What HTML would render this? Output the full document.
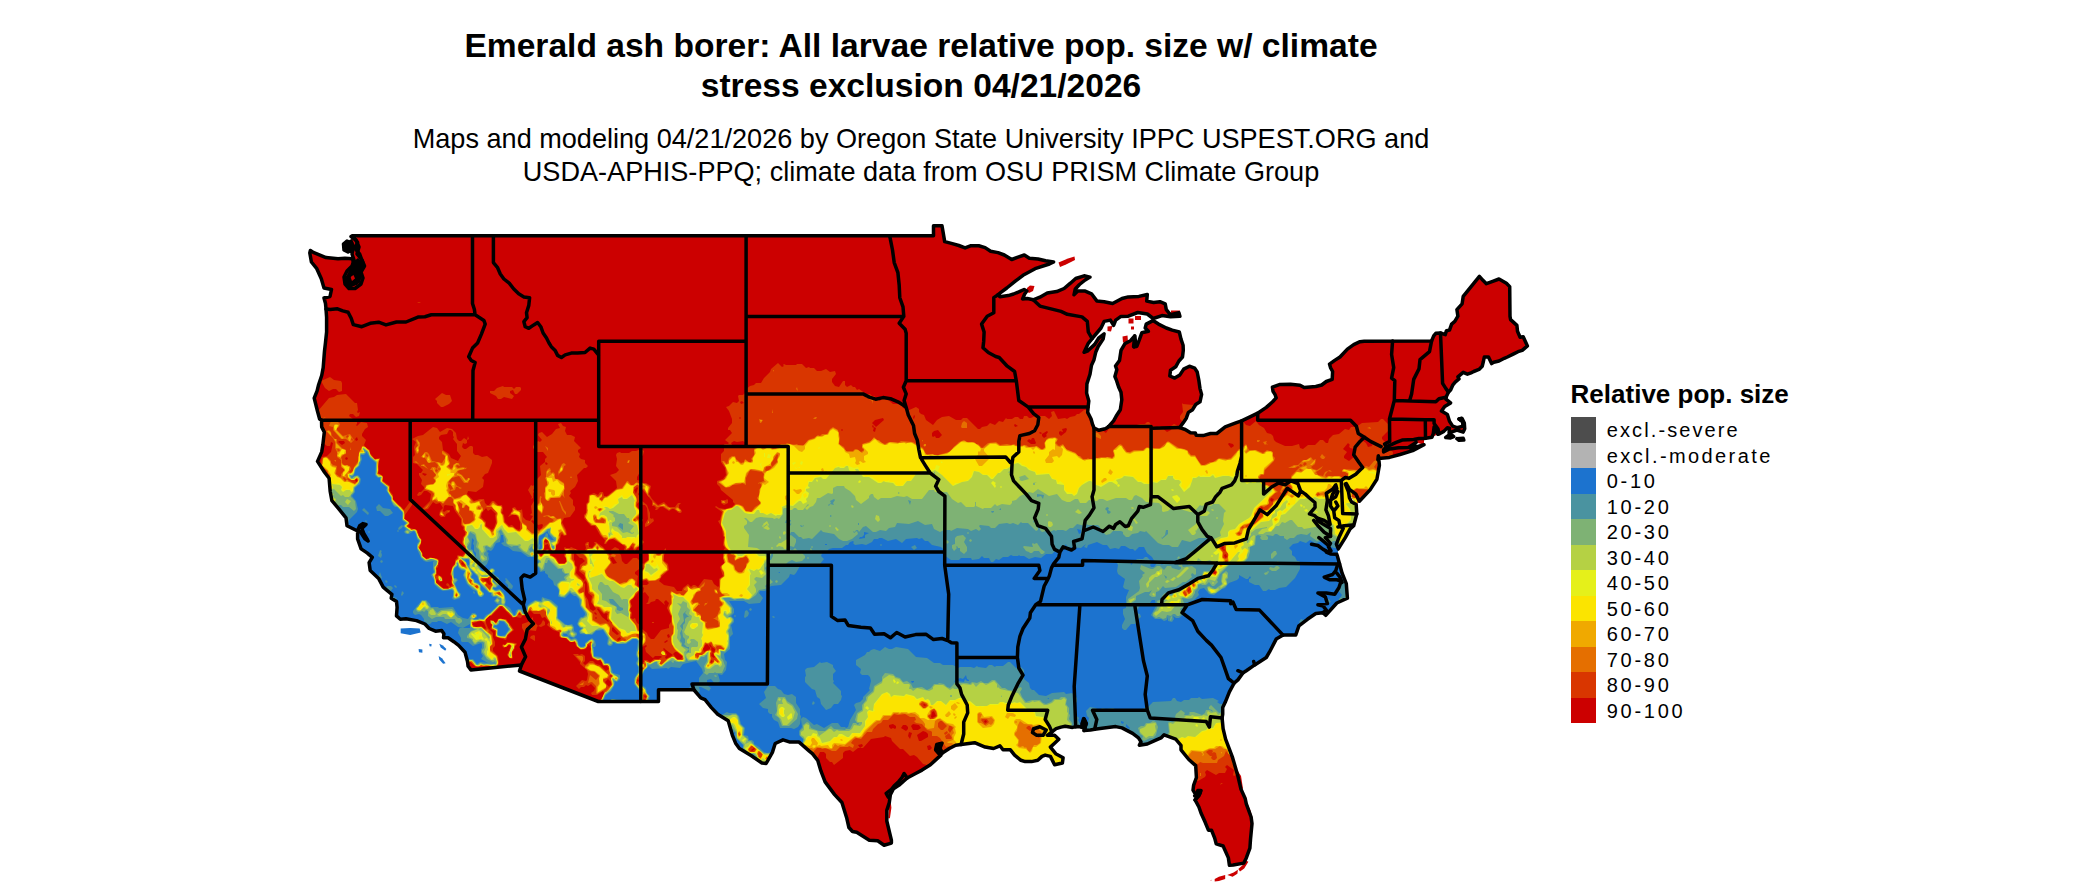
<!DOCTYPE html>
<html><head><meta charset="utf-8"><title>Emerald ash borer map</title>
<style>
html,body{margin:0;padding:0;background:#fff;}
body{width:2100px;height:892px;position:relative;overflow:hidden;font-family:"Liberation Sans",sans-serif;color:#000;}
.t{position:absolute;white-space:nowrap;text-align:center;left:0;width:1842px;}
#t1{top:25.6px;font-weight:bold;font-size:33.6px;line-height:40.3px;}
#t2{top:123.2px;font-size:27.1px;line-height:32.6px;}
#lt{position:absolute;left:1570.6px;top:379.4px;font-weight:bold;font-size:26px;line-height:30px;white-space:nowrap;}
.k{position:absolute;left:1571px;width:25px;height:25.6px;}
.l{position:absolute;left:1606.8px;font-size:20px;line-height:25.5px;letter-spacing:2.1px;white-space:nowrap;}
</style></head><body>
<svg width="2100" height="892" viewBox="0 0 2100 892" style="position:absolute;left:0;top:0"><defs><clipPath id="us"><path d="M352.1,235.8 L933.5,235.8 L933.5,225.7 L942.0,225.7 L944.7,241.6 L951.4,243.4 L958.8,245.5 L965.1,247.9 L970.4,245.8 L978.8,245.8 L985.1,247.6 L990.6,251.3 L998.0,252.6 L1004.3,255.0 L1011.7,259.5 L1018.0,257.1 L1024.3,255.0 L1029.4,258.2 L1038.0,259.0 L1045.6,260.8 L1053.6,261.9 L1049.4,264.0 L1035.1,268.7 L1023.0,275.3 L1015.3,281.1 L1006.8,288.0 L1000.9,292.4 L997.8,294.8 L999.9,296.7 L1008.3,295.6 L1013.6,294.0 L1018.8,291.9 L1024.1,289.5 L1026.8,291.1 L1024.5,294.3 L1022.6,299.0 L1027.3,298.5 L1033.2,299.8 L1039.9,297.2 L1047.3,293.0 L1056.7,291.6 L1064.1,288.5 L1070.4,283.2 L1075.7,278.5 L1084.1,275.8 L1090.0,277.1 L1085.2,280.0 L1079.5,284.5 L1075.3,289.0 L1074.0,294.8 L1077.8,291.1 L1085.2,291.1 L1091.5,293.8 L1096.8,300.9 L1104.1,301.7 L1112.6,303.5 L1122.0,298.5 L1128.3,296.9 L1138.9,296.4 L1147.3,294.5 L1146.7,301.1 L1153.6,302.5 L1159.9,301.7 L1165.2,303.8 L1166.3,309.6 L1170.5,314.8 L1178.9,312.7 L1179.9,316.2 L1170.5,316.7 L1162.0,315.6 L1153.2,318.5 L1147.3,314.0 L1137.8,312.5 L1128.3,316.2 L1121.0,316.4 L1115.7,320.1 L1113.6,325.4 L1110.4,320.1 L1104.1,321.4 L1101.0,328.0 L1092.1,338.6 L1088.3,343.3 L1084.1,352.3 L1087.3,351.2 L1094.7,344.4 L1098.9,337.8 L1104.1,333.8 L1103.1,339.1 L1098.2,346.5 L1095.7,352.3 L1094.0,359.7 L1091.5,365.2 L1090.0,374.2 L1086.9,383.9 L1086.6,393.1 L1088.8,401.0 L1088.1,407.1 L1087.7,412.4 L1091.1,419.0 L1092.5,424.2 L1094.2,428.2 L1098.9,430.3 L1105.2,428.7 L1108.3,426.9 L1113.6,420.8 L1116.1,416.3 L1120.3,409.7 L1121.8,399.7 L1121.0,392.3 L1118.7,387.3 L1116.6,380.7 L1114.9,376.5 L1116.8,369.7 L1115.5,366.0 L1119.5,360.4 L1121.0,350.4 L1124.8,343.8 L1130.5,340.7 L1134.7,335.9 L1133.6,346.5 L1136.8,346.5 L1139.3,339.9 L1141.8,332.8 L1148.4,331.2 L1145.2,328.0 L1146.2,324.1 L1153.0,320.6 L1158.5,324.1 L1166.3,328.0 L1172.2,330.1 L1179.3,332.0 L1181.0,339.1 L1183.1,345.2 L1183.3,350.4 L1182.5,357.0 L1178.9,361.0 L1175.7,366.8 L1170.5,370.2 L1169.8,376.0 L1174.7,378.1 L1179.9,374.9 L1183.7,369.1 L1189.4,366.2 L1194.7,368.1 L1197.2,372.0 L1198.9,380.7 L1200.0,388.6 L1201.6,394.4 L1200.0,401.8 L1195.7,404.5 L1192.6,409.7 L1188.4,412.4 L1186.3,418.2 L1183.1,422.9 L1179.5,427.7 L1185.2,429.5 L1190.5,432.7 L1195.3,432.9 L1196.2,435.3 L1203.1,435.6 L1210.5,433.5 L1216.8,433.5 L1225.2,426.9 L1235.8,422.9 L1241.6,420.8 L1250.5,416.6 L1257.7,413.2 L1266.3,407.4 L1272.6,401.8 L1276.2,397.9 L1275.1,394.7 L1273.0,391.3 L1272.4,387.1 L1280.0,384.4 L1290.5,384.2 L1300.0,385.2 L1304.2,387.6 L1315.8,386.5 L1321.7,385.0 L1326.3,381.5 L1332.2,379.4 L1332.6,371.5 L1330.5,367.6 L1329.5,364.1 L1334.7,360.4 L1340.0,357.0 L1347.4,349.1 L1353.7,344.6 L1360.0,341.7 L1364.2,341.2 L1431.6,340.9 L1433.7,335.9 L1435.8,333.3 L1440.5,333.0 L1445.3,334.6 L1446.4,330.7 L1449.5,330.1 L1451.6,324.1 L1454.8,321.4 L1457.9,316.2 L1456.9,309.6 L1462.1,303.8 L1463.2,296.4 L1479.4,276.4 L1483.2,280.6 L1486.4,283.7 L1492.7,281.4 L1499.0,279.0 L1506.4,283.2 L1509.7,286.6 L1510.0,316.4 L1510.6,319.6 L1516.9,325.4 L1517.5,331.2 L1520.1,337.2 L1523.2,336.7 L1526.4,343.8 L1527.4,345.9 L1522.2,350.4 L1518.0,351.7 L1513.7,353.9 L1507.4,357.0 L1504.3,358.3 L1499.0,361.0 L1493.7,362.3 L1491.6,363.6 L1488.5,357.0 L1484.3,357.0 L1483.2,362.3 L1482.2,366.2 L1479.0,369.4 L1473.7,371.5 L1471.0,372.8 L1467.4,374.2 L1463.2,372.3 L1457.9,376.8 L1459.0,378.9 L1455.2,382.1 L1452.7,385.2 L1450.6,390.0 L1448.5,392.1 L1446.4,396.6 L1445.9,399.2 L1450.6,402.9 L1444.7,406.6 L1441.5,411.1 L1447.4,414.5 L1449.5,421.3 L1452.7,426.1 L1456.9,427.7 L1463.2,426.1 L1462.6,421.6 L1459.0,419.0 L1462.1,418.4 L1464.3,422.9 L1464.7,428.7 L1463.2,432.1 L1456.9,430.0 L1450.6,432.4 L1449.1,432.9 L1449.5,428.2 L1447.4,427.7 L1443.8,431.4 L1440.0,433.5 L1437.9,434.3 L1435.8,430.8 L1434.1,426.9 L1433.3,433.5 L1432.0,437.2 L1424.0,438.5 L1419.0,438.5 L1413.7,439.5 L1402.1,440.1 L1396.2,442.4 L1388.6,445.8 L1386.3,446.9 L1383.6,449.8 L1383.6,451.9 L1389.5,449.0 L1398.5,447.7 L1408.4,447.4 L1416.2,442.4 L1410.6,448.5 L1424.0,444.8 L1412.7,450.6 L1400.0,454.5 L1389.5,457.4 L1381.1,458.2 L1379.0,458.0 L1378.3,455.9 L1377.9,459.8 L1379.0,460.9 L1379.4,465.1 L1376.9,479.3 L1370.1,489.9 L1359.4,501.2 L1355.8,494.1 L1349.5,489.3 L1346.3,483.5 L1345.3,484.1 L1348.4,491.5 L1349.5,498.0 L1351.6,502.0 L1356.2,504.6 L1356.8,513.9 L1355.8,517.8 L1353.7,525.7 L1350.1,528.9 L1345.3,537.6 L1338.3,548.9 L1336.4,544.2 L1338.9,537.6 L1343.2,528.4 L1340.0,526.2 L1338.9,520.4 L1334.7,517.8 L1333.7,510.7 L1330.5,506.0 L1330.5,500.7 L1332.6,494.1 L1336.8,488.8 L1335.8,484.9 L1332.6,489.3 L1326.3,493.3 L1327.4,500.2 L1325.9,509.9 L1328.4,515.7 L1330.1,524.4 L1324.2,520.4 L1316.8,517.8 L1317.9,521.0 L1330.5,528.4 L1330.5,536.3 L1325.3,537.6 L1330.5,543.4 L1328.4,546.8 L1330.9,550.8 L1326.3,552.1 L1330.5,553.9 L1336.8,554.2 L1337.5,556.6 L1339.6,563.9 L1342.1,573.2 L1346.3,583.7 L1347.4,598.2 L1336.8,603.0 L1325.7,615.3 L1322.9,612.7 L1315.8,613.5 L1307.4,619.3 L1298.9,625.9 L1295.8,634.9 L1283.1,635.1 L1276.2,639.1 L1269.4,652.2 L1266.3,657.5 L1254.7,664.9 L1246.3,670.7 L1243.1,672.8 L1237.9,679.9 L1234.1,683.1 L1229.4,691.8 L1225.2,702.3 L1222.7,707.6 L1222.7,714.2 L1222.1,717.9 L1223.1,728.7 L1225.6,739.2 L1232.6,757.7 L1237.9,776.1 L1241.0,789.3 L1245.2,798.5 L1246.3,803.8 L1251.1,817.0 L1252.0,823.6 L1250.5,839.4 L1249.9,848.1 L1246.3,857.9 L1243.8,863.1 L1233.2,865.0 L1229.4,865.2 L1228.4,857.9 L1223.1,846.0 L1216.2,843.9 L1214.7,838.1 L1211.5,830.2 L1208.4,830.2 L1205.2,822.3 L1201.0,813.0 L1198.9,807.0 L1195.1,799.9 L1200.0,793.3 L1195.7,794.6 L1193.0,790.1 L1193.6,785.4 L1196.4,777.5 L1195.7,765.6 L1188.8,759.5 L1181.0,749.8 L1181.0,745.3 L1175.7,739.2 L1164.1,734.8 L1161.0,737.9 L1154.7,740.6 L1147.3,744.0 L1139.3,745.3 L1141.0,741.9 L1138.5,737.9 L1132.6,733.4 L1122.0,727.9 L1115.7,726.6 L1102.0,728.2 L1094.7,729.2 L1090.4,730.0 L1084.1,730.5 L1086.2,723.4 L1083.5,718.7 L1082.0,727.4 L1078.9,726.6 L1075.7,726.8 L1072.5,727.4 L1065.2,726.3 L1061.0,727.1 L1056.1,728.7 L1051.9,731.9 L1047.3,735.3 L1054.6,735.3 L1058.8,739.2 L1054.6,743.2 L1050.4,747.1 L1055.7,753.7 L1063.1,757.7 L1062.4,763.0 L1054.6,764.8 L1050.4,756.4 L1045.2,755.1 L1042.0,756.4 L1037.8,760.3 L1031.5,761.6 L1025.2,761.6 L1020.9,760.3 L1014.6,755.1 L1010.4,749.8 L1003.0,749.8 L999.9,745.8 L993.6,748.5 L985.1,747.1 L974.6,742.7 L961.1,744.5 L955.7,745.3 L949.3,748.5 L942.0,753.2 L938.8,744.5 L936.7,749.8 L940.9,755.1 L934.6,760.9 L930.4,764.8 L922.0,770.1 L915.6,773.5 L907.2,778.0 L898.8,785.4 L893.5,788.8 L890.4,794.6 L889.3,802.5 L886.8,810.4 L886.8,821.0 L889.3,831.5 L891.4,840.2 L891.4,843.1 L884.1,845.2 L877.7,840.7 L869.3,840.2 L856.7,832.3 L852.5,831.5 L848.9,827.5 L846.8,818.3 L841.9,802.5 L834.6,794.6 L825.1,781.9 L820.9,770.9 L817.7,760.3 L812.4,753.7 L809.3,751.1 L798.8,741.9 L789.3,741.9 L783.0,739.8 L775.2,743.5 L772.4,752.4 L766.1,763.5 L761.9,763.0 L751.4,755.8 L739.4,748.5 L735.6,743.2 L732.4,735.3 L728.2,720.8 L717.7,714.2 L711.4,707.6 L705.0,699.7 L700.8,697.9 L694.5,690.5 L693.9,689.7 L658.5,689.7 L658.5,701.5 L598.3,701.5 L519.5,671.0 L521.4,664.9 L470.9,669.9 L468.1,666.2 L467.5,661.5 L465.0,652.2 L458.6,645.4 L453.8,641.7 L448.1,637.8 L443.5,637.8 L443.9,633.8 L441.8,630.6 L435.5,631.2 L429.2,628.5 L424.9,624.0 L416.5,620.6 L406.0,618.8 L400.3,619.3 L396.5,615.9 L397.1,607.4 L396.5,601.4 L391.2,598.2 L391.9,594.3 L387.0,590.3 L383.2,587.1 L378.6,578.4 L370.2,570.5 L369.1,562.6 L372.3,557.4 L367.4,553.1 L361.1,548.9 L357.6,538.9 L357.6,531.0 L347.0,525.7 L346.0,517.8 L338.6,508.6 L331.9,500.7 L330.2,491.5 L329.1,478.3 L324.5,472.2 L317.5,461.4 L321.7,451.9 L322.8,445.1 L324.3,432.1 L321.7,426.9 L321.5,420.3 L319.6,419.0 L317.1,409.7 L314.2,398.1 L317.1,390.8 L318.6,384.7 L321.7,375.5 L323.2,367.6 L324.5,351.0 L325.5,342.5 L326.6,332.0 L326.6,317.5 L326.0,309.0 L325.5,303.5 L324.0,298.0 L330.0,296.5 L331.5,289.5 L324.0,288.0 L321.3,278.8 L316.8,268.7 L311.4,262.0 L309.8,253.0 L310.4,250.5 L313.3,252.4 L326.0,257.6 L338.0,258.7 L344.9,258.2 L352.3,258.7 L354.4,264.8 L349.1,276.6 L344.9,278.5 L349.1,286.4 L355.4,283.2 L358.6,281.4 L360.1,272.7 L362.8,262.6 L359.7,254.2 L355.4,248.9 L357.6,242.4 L352.1,235.8Z"/><path d="M1335.8,484.9 L1337.9,509.9 L1343.2,528.4 L1338.3,548.9 L1337.5,554.7 L1330.5,554.7 L1326.3,552.1 L1324.2,536.3 L1316.8,517.8 L1326.3,493.3Z"/><path d="M1346.3,483.5 L1355.8,494.1 L1359.4,501.2 L1356.2,504.6 L1348.4,491.5 L1345.3,484.1Z"/><path d="M1383.6,449.8 L1386.3,446.9 L1396.2,442.4 L1402.1,440.1 L1413.7,439.5 L1419.0,438.5 L1424.0,438.5 L1424.0,444.8 L1416.2,442.4 L1408.4,447.4 L1398.5,447.7 L1389.5,449.0Z"/><path d="M352.3,258.7 L343.9,280.6 L349.1,288.5 L361.8,283.2 L363.9,262.1 L358.6,246.3 L352.1,235.8 L349.1,246.3Z"/><path d="M1437.9,434.3 L1435.8,430.8 L1434.1,426.9 L1433.3,433.5 L1432.0,437.2Z"/></clipPath></defs><g clip-path="url(#us)"><rect x="280" y="200" width="1300" height="700" fill="#cc0000"/><path d="M1258 866l-6 2 0 5-1 1 2 2 0 3 1-4 6-4zM1176 848l5 5 4-1 0-2-4-4zM1204 828l0 2 2 1zM1180 826l0 1 3 1zM1180 786l1 3 0-3zM1223 783l-2 0-1 2zM814 767l-2 2 1 2 2-1zM676 725l1 2 4-1-1-2zM573 692l2-1-2 0zM507 642l-2 3-2-1-1 2 2 2 5-3 2 1-4 9 4 4 2-1-1-5 3-5 0-2 2-2-1-1zM531 636l-1 2 5 3 0-5-1-1zM652 622l0 1 2 0 0-1zM545 622l-2-2-2 4-3 2-5-6 0-3-5 5-6 2 0 4 3 5 3-3 8 1 1-4 1-1 3 1 4-2zM335 578l-4 2-1 2 2 3 2-2 3 0 0-3zM332 561l0 2 3-1 0-1zM330 524l-1 0 0 3zM728 500l-1-1-1 1-5 0 0 3 3 2 4-2zM641 449l-5 2-4 0-3 2-8 0-1-1-3 1-1 2 1 4-1 7 3 4-3 3-6 2 6 6 1 7-10 8-3 0-1-4-3 0-2 3-4-2-5 2-1 7-2 2 0 9-2 2 0 3 7 8 4 0 5 9 5 5-1 4 2 0 3-4 4-1 10 6 2 2-1 3 1 1 3-1 4-4 2 5 1 0 3-4 3 0 3-5-3-4 1-7-2-4 0-4 3-2 0-2-4 0-1-1 3-4 0-4-3-2-1-4 2-2 4 3 2 0 2 3 1 11-3 5 0 3 3-1 6-5-1-3-1 1-2-1 0-5-3-8-5-4-4-7 3-4 2 0 9 11 0 5 2 0 2 2-1 2 2 0 3-3 3 0 6 4 3-2 2 0 5 4 2 0 1-2-3-3 0-3 2-2-3 0-3 4-6 0-5-5-6 3-6-6-3-5 2-8-5-3-3 0-2-2-4-1 0-3 3-5-1-12 4-5 1-4zM637 487l1 1-2 6-2-4zM1228 406l0 2 1 0 0-2zM450 395l-4 0-4-2-7 6 2 2 0 2 4 4 2 0 6-3 3-3zM490 393l6 3 2 3 3 0 3-2 8 2 2-3-4-3 0-2 3-1 2 4 2 0 4-4 0-2-1-1-4 0-2 2-2-2-8 0-1-1-6 2-3 3-4 0zM321 381l4 7 4 3 4-2 3 0 3 3 3-1 0-8-1-2-7-1-4-3zM318 411l0 3 2 2 0 2 4 3-1 1 0 8 3 3-2 7-2 2 5 4 3 0 1-4 2 1-2 9-4 4-5 1-2 8 6 6 1 4 2 1 0 2-2 2 0 3 3 4-2 2-1 7 4 6 0 10 1 2-4 4-2-1-1 3 4 1 1-3 2 1 2-2 2 3 7 2-5 5-1 7 6 7 0 2-3 1-1 2 0 5 4 1 2 2 0 6 2 2-2 5 1 11 7 4-2 3 0 3 2 2 0 3 2 3 0 8 2 3 5 0 4 6 0 2 4 4 0 4 1 1-1 9 4 0 2 2-1 2 1 2-3 1 5 5 0 2 3 2 6 1 1-4 2-1 5 7 5 5 3 1 1 3 2 0 4-4 1-4 3 3 6 0 1-1 3 2 1 4 8 10 4 0 6-5 1 1 5 0 3-5 4 0 3 2 0 3-4 1 1 3-3 1 1 2 2-1 3 1 1-1-2-4 1-2 4 6 0 2-3 1 2 2-2 3 4-1 4 1 4-2 0-2-4-3-2 0-2 3-1-1 0-3 3-2 0-2-2-2 3-4 4-1 5 5 14-1 1 2 6-1 2-4-1-7-5-5 0-3 2-2 0-4-2-5 0-4-2-2 1-1 3 1 0 5 1 1 10 3 2-5 6-5-8-11-4 0-1-1-3 1-2 4-3-3-3 0 0 3 2 2-2 5-2-2-2-5 0-4 3-3 2 0 10-10 12 12 3-1 5 1 1-2 5-1 2-4 2 0 3 3 6 0 2 4 3-1 4 5-2 3 6 5 6 2 0 4 2 2 4 0 5 4 5 0 1 4 5 4 5-1 3-5 2 5-1 3 2 6 6 3 2-1 2 2 1 4-1 1-2-2-4-1-3-3-3 0-5 4-2-2 2-2 0-5-3-2-3 1-1-1-5 0 7 8 0 2 7 6 1 4-1 6-1 1-4-1-6 6 3 3 2-2 3 0 2-2 2 1 3-2 4 4-1 3-3 2 1 2 5 0 6-4 1 2-2 5-3 3 0 3 4 0 4 3 6-5 5 0 6 2 3 4 5 0 1 1-2 5 0 2 2 1 4-2 5-5 0-8 2-3 5 4 6 0 3 3 4 0 6 5 5 0 2-3 5 0 5 2 3 4 1-1 1 1-2 6 0 4-2 4 1 2 4 1 2 2 0 5-7 6-2 4 2 5-3 3 0 3 3 2-1 6 2 3 2-1 1-4 5-5 4-2 3 3 3 0 6-2 3-4 4 1 3-3 5 5 8 1 0-6-1-1 1-2 7 5-1 5 5 5-2 4 2 16-2 8 1 1-4 5 1 3-4 6 2 2 2-1 3 4-2 2-3-3-2 0-1 3 9 8 0 2-3 3 1 13-2 2 1 4-2 2 3 1-1-4 4-3 2 2-2 7 6 6 0 2-4 3 1 4-3 3 0 3 6 6 0 4-7 8 57 0 0-3-5-4 0-2 2-3 0-4 3-5 0-12 3-2-1-2 1-13 1-1 0-4 2-3 0-8-2-1 1-5-2-4 0-5 5-4 0-2-4-1-1-3-2-1 1-6 2-4 0-5-7-8 4-9 0-2-2-2 1-2-1-4 3-1 2 3 7 3 4-3 3-7 4 0 2 2 0 4 4 4 2 0 2 3 9-7 0-5 2-2 5-1 3 2 5-4 5 0 8-9 13-2 1-1 6 2 1 3 8 8 3 0 7 7 4-1 3 2 6 7 4 1 8 11 1 4-2 3 2 4-1 6 2 3 0 5 1 1-1 3 3 4 0 5-3 4 1 13 5 5 1 7 3 4-1 14-1 1 1 4-3 5 1 10-2 4 0 6 226 0 0-4-2-6 5-7 0-5-3-6 0-4 2-3 0-3 3-2 0-3-2-3 2-5-2-2 0-6-1-1 3-4 0-11-2-4 2-3 0-8-2-2 1-7-6-7 2-1 6 2 4-3 0-2 2-2 3 3 2-1 5 1 3-2 5 1 7-4 1-2-1-3 2-2 9 5 3-2 6 0 2-4-2-2 2-2 7 5-1 5 1 1 2-1 3 3 1 3 5 3 0 7 3 6 0 4 5 6 1 3-1 3-3 0 5 7-1 3 1 1 1 13 8 8 2 4-1 4 1 6 5 5 2 10-2 2 0 3 1 1 0 9 1 2 55 0-2-3 3-4 3-1 3 3-3 5 13 0-1-1 1-1 2 0 1 1-1 1 50 0-2-6 2-2 2-6-1-4-6-10 2-8 2-1 0-6-1-1 2-7-1-1-1-9 1-1 1-8-2-5 0-5-3-3 1-2 3 0 0-2-2-2 0-3-2-3 0-4 1-1-1-9 3-5 0-3-1-1 0-4-3-3 3-7 0-10 1-1 0-9-2-2 0-5 2-3 0-3-2-5 4-4 0-4-3-5 0-7-2-2 0-18-1-3 3-5 0-6-1-1 1-4-1-1-1-15-1-1 4-5-2-6 1-1-1-1 0-4 4-5-1-6 2-3-2-10-3-2 3-11-1-12 7-7-4-7 4-7-2-2-1-4-6-5-1-3 3-5 0-5 2-4-1-1 1-7 5-7-1-1-1 1-3-5-3-2 0-3 2-1 0-3-2-1 1-4-2-2 0-11-2-3 0-5 4-4 0-3-3-3 1-13-4-3-3-4 0-2-4-4 0-2 7-7-1-1 0-5-5-5-2 0-3 3-16 1-6 4-5 0-2 3-4-1-6 5-6 1-4 4-1 4-2 0-3-3-3 0-5 5-7 0-5 4-3-1-1-4-7 2-7 0-9-4-2-2-1-4-2-2-4-1-3-5-5-3-3-4-6 5-4-1-5-6 2-2 0-2-4-2-3 1-2-2-3 0-1 3-5 2-2-6-3 1-6-1-6-9-3-2-6 6-4-3-2 2-10-1-1-1 1 9-3 4 0 3 2 2 0 2-4 3-4-2-3 2 1 2-1 2-4 2-7-6-3 1-5-1-3-4-2 0-2 2-5 0-7 2-7 0-1 1-4-1-5 1-2-1-4 1-4 6-3-2-1-6-1 0-1 4-3 2-3-2 0-5-5-4 0-9-1-1-4 0-5 4-2 0-2 2-5 1-3 2-2-1-7 1-4-8-3 1 1 4-3 3-4-3-10 0-4 2-2 0-2-2-3 0-1 3-3 0-2-2-3 0-3 2-5 0-1-1-3 4-4-1-4 4-5-2-3 3-5 1-2 2-2 0-11-11-4 0-2 2-5 0-7-4-7 1-5 3-4 5-7-5-2-5-3-1-2-2 0-3-3-2-9 4-5-4 1-2-3-2-1 1-6 0-7-6-4 0-2 3-6-5-2 0-2-2-4 0-7-5-2 1-2-3-2 0-2-2-4 2-2-2 0-4-2 0-4 6-4-1-3-4 0-3 4-5-1-3-5 1-4-3-5 2-4 0-3-3-4 0-1-1-3 1-4-4-5 0-1 1-10 0-2-1-1 1 1 1-2 1-4-4-7 6-1 3-6 6-3 5-5 0-2 2-4 1-5 4 0 3-2 2-4 0-1 1 1 5-2 2-4-1-4 4-3 1 3 4 3 8 0 4-4 5 0 2 2 0 2 3-7 7 4 3-1 1-4 0 1 2-1 1 0 4-3 3 0 8 4 6 1 7-3 4-6 2 0 3 3 3 1 3 12 10 0 2 2 2-3 3-7 2-6-1-3-2-1 1 7 5-2 8-2 1 4 7 1 8 1 1-1 8 2 3-2 3 1 2-1 1 1 9-4 4 3 9-4 3 0 7-1 1-4-3-2-4-8-1-6 8-3-2-2 0-2 2-3-3-5 4-1 3-5 0-3-4-10-2-5-4 3-5 7-6-1-6-4-3 0-6 2-3 0-4-6 6-2 0-2-3-3 1-4-1-1 1 0 8-5 4-6-6-4 0-6 6-2 0-3-3-1-6-2-2 0-4-4-2-4 3 1 3-2 2-7-8-7-5-2 0 1 2-3 4-3-1 0-5-2 0-2 2 1 4-1 2-7 0-7-3-1 1-4 0-1-1-1 1 1 4-1 4 2 2 0 4-1 1-6 0-3-5-5-3-1-4 1-1 1 1 4-1 0-4 3-3 2-8 1-1 2 2 3-1-1-5-4-8 2-4 6-1 5-7 0-3-2-2 0-5-4-4 2-3-1-2 5-4 3-6-1-6 7-7 2 0 2-2-3-3 0-3-4-1-2-2 1-3-2-2 0-2 3-2-7-7 1-4-4-2-4 0-2-4 1-4-3-1-2-3-3 1 2 4-4 1-4 5-5 3-5-5-3 1-1 2 4 5-2 2-2-1-5 5 0 2 4 4 6 0 4 5-2 2 0 3-5 4 1 9-7 7 0 3-1 1-2-1-3 5 4 7-1 2 2-1 0-5 1-1-1-2 2-2 2 8-6 10 1 7-2 2 3 1-3 5-4-1-3-3-1-8-1 1-4 0-2-3-3 1 0 3-4 6 4-2 4 0 2 2 2 5 0 7-1 1-3-1-4-4-3 1-4-4-1-7-2-2 1-4-1-4-4 0-4-4-2 0-3 4-2 0-2-2-1-4-4 0-6 2-7-7 1-3 8 1 7-5 1-7-2-2 3-4 3-1 4-10 0-3-5-4-5 1-4-2-3 0-2-2 0-6-1-1-2 0-4 3-2 0-2-2 1-4 2 1 2-1 0-3 2-1-1-3-1 4-3-2-3 3-2 0-2-2-1-6-4-4-5-1-7 4-3-4-4-1-10 8-5 1-6 3 4 3-2 5 1 8-2 2 0 6 4 1 6 6-2 3-2 0 0 2 3 5-1 4 3 3 0 2-3 3-2 0-2 3 1 1 3-1 3-4 3 0 4 3-1 7-8 8 1 1 5-1 5-7 3 2 4-1 3 5-3 3-1 4 2 2 4 0 1-3 4-2 0-2-3 0-3 2-1-1 1-5 1-1 8 1 2 5 6 8 0 6 3 3-1 1 2 3 0 3-2 2-1 6 4 6 0 3-4 4-4-1-1 1 0 2-2 2 0 3-3 4 0 3-2 4 2 4-1 3 1 4-2 2-1-3-2-1-1 2 3 2-1 1-5 0-7-6 1-3 3 3 3-1-1-4-5-3 0-4-1-1 2-2 1-7-3-2-4 0-1-1-5 2-3-3 0-2-4-6 3-8-2-2-3-8-7-2-2-2 2-3-5-4 0-4 7-10 0-2-2-1-6 8-11-11 0-4-3-4 0-5-7-5 0-5-5-3 1-3-1-8 2-2 0-2-5 1-5-6 0-3-3-1-3-4 2-5-4-4 0-2 3-5 3-2-1-4-6-1-3 3-1-1 0-4-4-1-4-3 1-2 3 0 3 3 3-1 1-4-2 1-1-1 1-2-1-7-2 0-9-9-9 1-3 2-5 1zM949 884l1 3-4 4-2-3zM752 861l3-1 2 3-3 1zM1339 854l1-1 1 1-1 1zM1296 841l3-1 1 2-2 1zM946 840l3-1 2 4-3 2zM754 834l2 2-1 2-3-1zM1378 808l1 2-2 1-1-1zM1379 806l2-2 3 0 2 2 0 2-2 1zM1339 773l2-1 1 2-2 1zM1357 770l1-1 1 1-1 1zM1342 769l1-1 1 1 3-3 4 4-2 2-2-1-3 1zM1369 760l5-2 2 4-1 1-5 0zM754 748l1 1-3 2-1-1zM927 746l3-1 2 3-2 2-2 0zM858 745l4-1 1 2-3 2zM1368 737l2-1 1 3-2 1zM1373 736l1-1 1 1-1 1zM909 732l3 1-2 6-2-3zM926 732l2 2 0 3-7 4-2 0-2-6 6-4zM903 725l3 0 2 2 0 2-2 2-5-3zM911 726l2-2 6 1 2 3-3 2-5 0zM889 725l4-1 3 2 0 2-1 1-2-1-2 1-2-2zM984 721l2-1 1 2-2 1zM934 711l2 5-4 2-1-1 1-5zM923 705l1-1 2 1-1 1zM1365 698l1-1 1 1-1 1zM644 696l1-1 2 2-2 1zM1363 687l1-1 2 1-1 1zM637 680l1-1 1 2-1 1zM608 679l4 4-3 4-4-5zM610 676l1-1 1 1-1 1zM467 676l2-1 1 2-1 1zM1335 675l3-1 1 3-2 2zM1333 669l1 2-2 1-1-1zM602 667l1-1 4 0 2 3-3 2zM1380 661l1-1 1 1-1 1zM710 662l1-2 2 1-2 2zM1377 657l1-1 1 2-1 1zM653 658l2-2 6 0 1 1-3 2-5 0zM712 652l3 5-1 1-3-2zM673 654l2-2 2 0 5 4 0 2-1 1-4 0zM665 651l1-1 7 5-7 4-1-2 2-2zM664 650l1-1 1 1-1 1zM663 649l1-1 1 1-1 1zM712 647l3 2 0 2-2 2-2-4zM646 645l1 1-2 2 1 4 8 7-4 3-3-2-3 0 0 2-3 2-1-1 1-6-2-3 3-7zM709 645l1-1 2 3-1 1zM707 644l3 3 0 2-6 3-1-3 2-4zM387 645l1-1 1 1-1 1zM1371 641l1 1-1 3 3 4-1 1-2 0-3-3 0-2zM667 640l1 1-3 2-1-1zM620 637l1 2-3 2-1-2zM667 635l2-1 1 3-2 1zM1365 630l1-1 1 1-1 1zM640 630l1-1 1 1-1 1zM490 630l1-1 1 1-1 1zM1373 628l1-1 1 1-1 1zM612 628l1-1 6 7-2 1-5-4zM1371 625l1-1 1 1-1 1zM1367 624l2-1 2 2-3 1zM473 623l8-2 3 2 2 5-1 1-4-3-5 1-3-2zM607 621l1-1 1 1-1 1zM595 618l1-1 1 1-1 1zM595 614l1-1 1 1-1 1zM518 614l1-1 2 1-1 1zM594 613l1-1 1 1-1 1zM598 608l6 6 2-1 2 1-1 1 0 4 1 1-1 1-5-4-5-8zM1370 596l1-1 2 3-1 1zM1189 588l1 1-1 3-1-1zM1369 581l2-1 2 2-2 1zM585 580l2 3 1 10 4 3-1 6 5 7-3 2-3-2-2-9-3-5 0-11-1-1zM482 580l7-2 1 4 2 2-3 1-3-4zM436 575l1-1 1 1-1 1zM1213 572l2-1 1 2-2 1zM642 567l1 2-2 2 0 9 1 1 4-1 3 3-2 2-4 0-1 1 2 2-1 5 2-1 4 5-1 5-2 2 3 0 2-2 4-1 1-2 2 0 7 6-1-3 2-2 3 3-2 5 4 8 0 6-2 3 0 3-8 2-7 9-3 0-3-3-1-3-5-4 0-3-5-3-2-5-2 1-2-1 1-5-2-4 2-3-2-4 11-13-4-4 1-9-3-2 0-2zM463 565l1-1 1 1-1 1zM461 563l2-1 1 2-2 1zM610 558l3-1 4 6-4 1zM1224 555l2-1 1 3-2 1zM575 553l5 5 2 0 3 3-5 4-1 6 5 4 1 3-1 3-8-8 1-6-2-2 0-4-1-1 0-6zM543 551l1 2-3 3-2-3zM543 551l1-1 1 1-1 1zM1223 550l1-1 1 1-1 1zM549 550l1-1 1 1-1 1zM1223 546l1 1-1 3-2-2zM545 545l3-1 2 5-1 1-1-1-3 1-1-1zM546 539l2 2-1 2-3-1zM531 521l2-1 5 5 4-1 1 1-1 3-3 2zM486 508l2 3 3-2 5 5-1 1 1 7-2 6-2 2-6-4 0-4-5-5 1-4zM1262 507l1 2-3 2-1-2zM1270 500l1-2 3 1-2 3zM1282 495l1-1 1 1-1 1zM1287 488l1 1-1 3-3 3-1-4zM357 478l1 3-2 1-1-2zM422 474l1-1 4 1-2 2zM545 463l1-1 2 2-2 1zM345 458l2-1 1 2-2 1zM1348 443l2 2-1 1 1 2 4 1-1 4 1 4-5 4-5-3 0-2 3-4-4-3zM1228 444l1-1 4 1 1 2-3 2zM731 443l3-2 3 1 6-1 4 3 0 2-1 1-1-1-13-1zM338 442l1-1 5 0 1 2-3 2zM1027 441l2-2 2 1 1-2 2 0 2 5-1 1-4 0zM357 437l1 3-2 1-1-2zM1359 438l2-2 1 1 3-2 5 7 2-1 1 1-1 4-4 1-2-4zM1039 433l1-1 2 1-1 1zM1047 431l1 1-2 3 1 1-3 2-2-2 0-2zM932 433l2-2 4-1 4 5-3 3-3 0-1-2-2 1-1-1zM449 430l2 0 2 2 0 4 1 1-1 2 4 5 0 7 4 5-3 5-7-3-2-4-6-4-1-8-3-3 0-2 2-2 6-1zM841 430l1-1 1 1-1 1zM1066 428l1 1-1 3-5 4-2-2 0-2 1-1 3 1-1-3zM874 427l2 1-1 4-2-1zM872 426l1-1 1 2-1 1zM1014 425l1-1 3 2-3 1zM356 425l1-1 1 1-1 1zM910 422l2-1 1 2-2 1zM883 418l1 2-8 7-4-4 3-3zM739 418l1-1 1 1-1 1zM914 415l1 1-1 3-1-1zM740 402l2-1 2 2-3 1zM421 302l-4 0-4 3 4-3 2 1z" fill="#d93600"/><path d="M1391 850l-3 0-4 2 0 1 3 2 3-1zM1353 809l-1 1 0 4 3 3 3 1 1-2-4-2 2-4zM1336 801l-1 6 3 0 1-3-1-3zM1308 789l-2 2-1 7 2 1 2-1 1 1 1-6zM1346 788l0 1 2 0zM1351 786l-1 4 2-3zM1200 773l0 3 1 0 0-3zM749 765l-3 5 1 2 4 1 2-3 0-3-2-2zM1350 706l1 2-1 6 2-1 3 1-3 3 1 1 2-2 5 2 5 0 0-2-6-6-3 1-2-2 2-2-4-2zM1379 705l2 4 5-3 0-2-3 1-3-1zM584 682l-5 3 4 0zM1377 676l-1 0-1 4 2-1zM1326 660l-5 3-4-2-1 3 1 1 0 4 2 1 0 2 2-2 1-6zM1320 667l1-1 1 1-1 1zM1317 665l2-1 1 2-1 1zM576 656l5 5 0 2 2-3 0-3-1-1zM661 652l1 3 4 0-2-4zM1329 643l0 2 2 1 1-1zM507 643l-1 2-3 0 0 1 3 1 3-3 2 1-1 7-2 4 2 2 2 0 0-7 4-7zM1346 631l-3 2 1 3 1 0 0-2 2-2zM532 629l-2-2-2 0-3 2 0 2 3-2zM491 620l-1 2 2 2 0 5 4 1 0 6 4 2 4 0 1 1 2-4 6-5-7-10-7-1-3 4zM708 601l-1 2-2 0-1 3 3-2zM715 589l-1 1 1 3 3 1-1-4zM1386 580l0 1 2 0zM439 576l-1 1 1 3 3 1 0-3zM664 551l-1 0 0 2-2 2-4 0-2-3-2 1-4-1-1 2 1 1 0 5-4 3-1 6-2 2 0 8 1 1 4-1 2 2 6 0 4-2 2-2 0-2 7-5-1-5-4-4zM588 543l-2 2 2 0zM649 520l-2 4 2-1zM449 511l-2 1 2 0zM442 511l-2 2 0 2 4 1zM677 507l-2 2 5 3 1-2zM430 503l-6 6 3-1zM653 502l0 3 2 0 2 2 6-1 6 4 3-2-3 0-5-4-6 2zM722 501l0 2 4-1zM559 501l3 9 4 5 0-3-2-2-4-9zM540 496l-1 7-5 5 4 2 4 4 2-7-3-5 0-4 1-1zM628 481l-1 0-5 7-5 1-10 8-2 0-3 4-2-1 0-2 2-1 0-4-4 4-3-2-5 0-1 1 0 6-2 2 0 9-2 3 2 5 5 4 3 0 3 3 4 8 2 2 2-1 1 1-2 5 3-3 6-2 9 7 2 0 1 1 0 4 7-7 2 2-1 1 0 3 1 0 3-3 2 0 3-4-3-4 1-7-2-3 0-7-3-3 4-4 0-3-4-5 1-7-4-7 1-5 2-2 2 0 1 1 0 4 5-1 4 7 2 1-2-2 0-5 2-2-1-2-3-2-8-1-1-1-4 3-2 0zM635 518l1 2-2 1-1-1zM605 520l-1 3-8-1-1-1 1-2 4 1 2-2zM595 516l1 1-1 3-1-1zM600 508l1 2-2 1-1-1zM571 476l-1 2 2 0zM548 469l-2 3 0 5-1 1 2 4 0 3-2 2 0 5-1 1 1 6 2 2 2 0 2-3 9 0 2-3 3 3-1-2 0-6 1-1-1-6-6-4-2 0-1-1 0-4-2-2-1 1-2-1 1-1-1-3zM421 465l0 1 2 0 5 3-4-5zM564 463l-2 1-4 8 1 4 0-2 4-4 1-4 2-1zM414 462l5 2-3-3zM630 460l-2 0-1 3 2 0zM334 460l2 2 0-2zM1322 454l-2 3 2 2 2 0 2-3-1 1zM351 447l-1 3 1 0zM545 446l3 5 0-3zM926 444l-3 1 2 2zM1263 442l2 3 1-1 2 1-2-2 1-2zM1257 442l2 0 1-2-3 0zM923 440l-1 0 0 2zM417 439l-1 1 2 6-3 3 2 5 2-2 0-5 1-1 0-3zM1092 432l4 5 5 2 0-3-3-3zM1367 428l4 1-1-2zM326 431l7 7 2 4 0 6 2 4 0 5 4 3 0 7 3 2 0 2-3 3 0 2-1 1-4-3 1-8-4-1-2-2 0-2-4-4-4 1-1 8 5 5 3 5-2 7 3 4-3 5 0 5 2 3 3 1-1 2 1 12-2 2 2-2 3 4 5 2 1-1 2 2-6 6 0 6 7 9-3 1-3 5 1 2 3 0 3 3-1 5 3 3-3 6 2 5-1 4 3 3 5 2-3 5 3 2 2 16 1 1 4 0 3 2 0 2 3 3 0 2 4 4 0 5 1 1-1 6 3 1 3 3 0 3 5 3 2 3 3-2 8 7 4 7 3 0 3 4 4-4 0-2-2-1 2-2 7 5 2-1 6 1 2 6 7 8 4 0 4-4 5 0 6-5 7 1 5 9 1-1-2-3 4-5 3-1 4 4 4 2 3-2 2 1 6-1 3 2 1-1 2 1 3-3-1-8-7-6 0-3 3-3-1-9-4-3 1-1-2-2-1 2-4-4-8 0-2-2 0-3 1-1 3 1 3-2 6 2 1-4 5-3 9-9 2 0 6 5 5 6 3 0 3-5 3 3 4 0 4-6 2 2 8 0 3-2 3 3 1 6 3 4 0 4 7 5 3-1 1 1-1 5 2 2 4 0 4 4 5-1 2 5 3 3 6-1 1-3 4-4 1 1-1 2 1 13 5 3 4 0 2 5 4 0 2 2 0 4 1 1-1 3-10-9-2 0-4-3-4 0-4 3 0 2 4 3 6 1 4 4-3 4-6-5-2 8 4-1 4 4 0 7 1 1 7-4 3-4-4-6 2-2 3 0 2-4 3 2-2 2 1 7-7 7-3 7-2 2 1 3 3 0 3 2 6-5 2 0 1 1 8 1 5 5 2 0 2-2 2 2-3 7 2 1 7-6 0-7 2-3 0-5 2-1 2 2-1 3 1 2 3 2 5 0 2 2 5 0 7 6 4-1 1-2 6-1 5 2 2 4 3-1 1 1 0 2-2 2-2 11 1 2 5 2 0 6-8 9 2 5-3 4 0 3 2 1 0 8 1 1 2-1 0-3 8-7 3 0 2 2 8-1 3-5 6 1 2-3 3 4 8 3 2-3-2-5 3-2 1-3 2 2-1 4 5 3 1 4 5 1 6-2 2 3 2 0 2 2 0 3-4 3 1 7-4 2 1 7-2 4 2 3-1 4 3 2 1 4 0 6-1 1 0 5 2 2-1 10 1 4 4 5 0 3 4 8-1 5-6 7 0 6-3 3 0 4 2 2-1 8 3 4 1 6 39 0 0-2-5-4 0-3 3-6 0-3 3-5-2-3 1-2-1-4 3-5 2-8 0-7 1-1-1-2 2-3 1-6-3-3 0-10-1-3-2-2-4-1-3-3 7-5 1-10 2-4-1-4-6-6 4-10-2-8 4-4 3-1 2 2 5 0 1-4 3-3 4 0 1 1 4-1 6 3 4 0 4-4 8 0 1-1 4 2 1-3-3-2 2-3 3-2 5 1 6-7 5 0 1-3 5-5 3-1 2-3 5 0 6-6 4 1 7-1 5 3 5 0 1 3-2 1 2 2 6 1 5 6 4 1 1 1 0 4 5 0 3 2 6 9 4-1 1 1 1 8-9 7 0 10 4 4 0 3 2 3 0-2-2-1 1-2 4-1 1 1-2 1 1 3 2-1 1-3 3 3 0 6 2 3-1 5-3 1-2 3 7 3 0 7-3 3 1 1-1 1-4 1-3 3 0 4-3 6 1 2 5 1 1 3 5 3-1 3-4 1 0 2 3 3 0 5 1 1-3 6 3 5-7 11 4 3 4-2 1 1-2 3-3 1 0 3 2 2-1 4 1 3 210 0-2-6 0-6 5-6 0-2-4-10 2-7 3-3 0-3-2-3 2-3 0-2-2-2 1-3-1-6 2-2 1-4-2-4 1-4-2-4 3-4-1-1 1-4-3-4 1-7-6-5 0-5 6-3 4-4 8-1 4 2 2-2 3 0 1-1-1-3 2-6 4 1 2-2 3 1 14 0 1-3 6-4 2-5 7 8-1 4 3 4 1 6 4 6 6 4-1 4 1 1 0 4 2 3 1 6 4 5 3 7-2 2 2 20 1 3 7 6 3 5-1 9 5 5 2 5 0 4 1 1-3 4 2 8 0 5 2 1 15 0 0-4 2-6-1-12 2-2 0-10 3-3-3-5 2-3 0-5-2-5 1-4 2-2-2-7 0-5 3-3 2 1 1 3-3 4 3-3 2 2 5 0 1-1-1-2 1-2-3-1 0-4-2-2 0-2-6 3-5-6 1-1 0-6 3-3 1-3-1-6 2-6 0-5-4-3 3-6-1-2 1-8 1-1-1-6 2-2 1-5 2-2-1-6 4-9 0-4-6-6 0-3-2-3 1-5 3-4 0-5-2-2-1-4 4-4 0-8-1-1 0-8 1-2-2-3 0-3-3-4 0-4 4-6 0-2-4-4 2-2 3 2 5-1 7-10 15-9 2-5 5-3 0-2 6-8 1 1 9 1 3-3-2-3 2-3 0-7-3-7 1-7-1-3-4-2 1-7-3-5 0-3 2-4 5 1 4-7 6-1 0-8 3-4 0-5-3-2 0-4-2-2-3-8 0-10-1-2-4 0-1-1 0-5 4-3 16 1 3-5 3-1 0-5 2-2 2 1 0-2-2-2-1-4-2 0-3-3 4-6-1-1-3 1-5 6-3-1-4 3-4 1-15-1-1 3 4 0 2 2 0 2-2 2-4 0-2-2-12 0-2 1-1-2 3-4 4 1-2-2-5 2-2 4-5-1-2-3 5-3 2-3-6 4-4-1-2-2 4-3 1-5-3 1-2-3-5 3-3 0-5 5-4 0-6 3 7 0 3-2 2 1-9 9 1 5-6 2-4 4-2 5 2 1 0-2 5-6 3 0 2 3-8 9-9 3-2 2 0 2-6 6-3 0-2 2 1 4-8 8-2 0-2 3-5 0-1-1 7-4 3-4 0-4 2-2 1-4 3-2 3 1 5-3 0-5 6-6 3-1-6-5-8-3-5-6 2-3 3 0 1-5 9-9 1-3-2-2 0-4-6-2-4 3-7-3-7 0-3-6-4 4-3 1-8 9-4 1-8-1-6 4-3 0-6 3-2 0-3-3-4-7-4 0-4-5-8-2-11-7-8 7-10 0-3-1-4 3-9 0-4 2-3 0-5-7-2-1-7 6 1 6-2 2-2-1-9 0-7 2-5 0-1-1-1 1-4 0-3-3-2 0-2-3-10-4-3-5-4 2-3-3 2-4-3-2-7 1-4 5 1 4-2 2-2 0-4-3-8 1-3-2-8 1-4-2-3 1-4-1-7 1-4-3-8 1-6 5-4-4-2 0-2-2-7 0-3-2-5 2-10 10-11 3-12-1-3-6-10-6-12-1-3 2-9-1-4 2-3-1-3-3-2 0-3-3-3 4-9 3 0 4 2 2-3 2-4-3-2 0-2 2-7 0-2-4-5-3 1-6-2-8-5-3-3 2-3 5-5 0-2 2-2-1-4 3-6 2-4 5-6 0-1-1-4 1-6-2-1 1-5 0-4 4-4 1-3-2-8 1-2-2-2 0-4 3 0 6-3 4 1 1-1 2-2 0-4-3-1 3-3 1-5-4-1-3-3 0-3 2-2 6-3-3-2 0 4 7 1 7-2 4-7 3 8 6 4-1 2-2 9-1 1-1 4 2 0-7 4-8 12 2 2 2-1 3 1 4-6 2 0 1 1-1 2 1 0 3-2 3 0 5-2 3 3 4 0 2-5 3-4 5-5-1-3-5-5-2-2 0-4 4-7 2-5-1 3 2-2 8 0 6 4 12-1 8 6 7 0 2 5 2-1 2 1 3 4-3 4 0 3-2 2 3 0 3-2 2 0 3-4 5-4 0-3-3-1-4-5-3-2-6 1-3-2-2-2 1-1 6 2 5-4 3 0 2 3 5 0 3-4 3 0 8-1 2 1 3 5 3-3 2-3 0 0 3 3 3 0 2-3 2 1 2-3 7-2 2-2 0 5 3 1 5-1 1-11 1-1-1 0-4 1-1-4-1-2-2 0-4-7-5 4-5 2 0-2-3-5 1-1-2 4-8 2-2 3 0 0-3 3-2 1-4-6 6-5-1-3 2-4-3-3 3 0 1 3 1-3 4-3 0-1-2-3 1-6-3-1 3 2 3-1 1 0 6-2 3 1 6 2 3 0 9 1 1 0 8-2 2 0 7 4 7 8 6 0 3-1 1-4 0-5-4-6 3-6 6-2-2 2-1-1-3-1 1-4 0-5 3-5-2-1 3-4 1-1-1 1-4-1-9 7-10 0-5-3-4-4 0-3-7-6-7 1-5-2-3 2-3-1-7 4-3 1-3 5-5-5-5 1-3-4-3-3 1-2 3-3 0-4 2-5-4-8-4-2-5 6-8-2-6 1-1 5 1 1-2-3-1-3 2-7-8-3-1-4-4 0 2-3 3-6 1-2 3-7-1-3-2-10 0 1 2-1 5 2 5-3 3-5 0-3-3-1-3-5-3-2-5-2 0-1 3-4 4-3-4 5-3 1-2 0-8 1-1 3 1 4 11 2 0 2-2 0-4 2-2 0-3 2-3-1-2 1-2 2-1 2 3 2 0-1-5-4-7 1-2-1-3-4 1-3-3-4 0-1-1-6 1 1 1 3-1 7 4-2 2-2 0-11 9-2-1-2 3-3 0-5-4 0-3-5-4-1-9-8-5 0 3-2 2 0 2 1-1 4 0 3 3 0 2 3 5 0 5-2 2-2 0-5-4-4 0-5-5-1-7-2-2 1-6-6-2-3-3-3 4-4 0 1 1 5 0 5 6-1 4 1 6-3 7-2 2-7-6 0-3-5-5 1-5 2-2 0-3-2-2-1-4 3-2-10 2-7-8-11 5-6-6 1-3 1 1 4-1 1-3 2 0 2 2 2-1-5-2-3-5-2 0-2 3-1-3 3-3 7-2 5 7 4 0 2-5-2 0-2 2-4-5-5-3 3-2 6-1 1-2-1 1-3-1-5 1-2-2 1-1 3 1-1-3-3 0-3 2 0 2-2 2-3-3 2-2 0-2-2-2 0-5-5-4-1 0 0 3 3 2 0 2-3 5-10-2-3-7-2-2-2 0-4 5 4 1 3 5 7-1 3 3-1 4-2-2-3 0-2 3 2 0 4 5-3 3 2 2 0 2-2 2-7 1-1 4 6 2 3 3-2 4 0 3 3-1 3 2 3 0 2 2 6-7 2 0 2 2 0 4 2 2 0 3 7 11 0 6 2 1 0 3 3 4-3 4-1 7 2 2 2 6-4 5-5-1 0 3-3 3 0 3-3 3-1 7 1 1 0 7 2 3-6 3-4 0-4-2-4-4 0-4-1-1 1-10 3-7-5-3-8 1-3-2-4-9 2-5 0-4-3-3-1-5-2-2-3 1-6-4 3-2 0-2-5-3 1-4-1-4-3-4-6-4-2-3 0-3-4-6 0-5-3-1-4-4 1-4-5-3 0-13 1-2-5 0-4-5-1-4-5-4-2 0-1 4-2 2 0 4-1 1 1 3-5 7-1 4-3 2-1-1 2-3-1-3-6-1-2-2 0-4-1-1 2-3 3-1 0-4-4-2-5-5 0-4-2 0-3-3-1-4-2-2zM953 872l1-1 1 1-1 1zM963 760l3 2-2 4-3-2 0-2zM766 758l1-1 2 1-1 1zM759 751l4 4-2 3-2-1-1-3zM1206 752l3-2 3 0 1 1-1 2 2-1 2 1 1 5-2 2-2 0-2-2 1-2-2 0zM748 750l3-4 2 0 3 3-2 3-3 0zM1037 735l1-1 2 3-2 1zM949 733l3 5-1 1-5 0-1-3zM738 734l1-1 1 2-1 1zM947 731l1 2-3 2-1-2zM1026 728l2-2 2 0 3 4-3 1zM949 726l2 0 2 2-3 5-2-3zM940 721l2 0 5 5-4 4-2 0-3-3 0-4zM981 720l1-1 5 0 2 3-4 3zM934 709l2 2 1 5-4 3-3 0-2-3 3-2 0-3zM920 704l3-2 5 3-3 3-2 0zM638 677l2 3-2 5-2-2zM641 669l1-1 1 1-1 1zM642 668l1-1 1 1-1 1zM644 664l1-1 1 2-1 1zM717 662l1-1 1 1-1 1zM716 661l1-1 1 1-1 1zM716 647l1-1 4 0 3 3-1 1-4-1-2 2zM711 642l5 7-2 6 3 4-1 2-2-1 0 2-3 2-1-1 1-4-1-6 1-3-5 1-4 4-3 0-1 3-3-3 2-2 4 0 1-1 0-3 2-2 1-4 3 1zM636 635l1-1 4 1 1 4-1 1zM455 596l1-2 2 1-2 2zM497 593l3-1 1 2-2 1zM1183 592l2-1 2 4-2 1zM1189 586l2 2 0 4-2 2-3-4zM475 586l2-1 2 2-3 1zM1194 583l1 1-1 3-2-2zM470 579l2 1-1 4-2-2zM482 578l5 0 3-2 3 1-2 2 0 3 2 3-3 5-5-5 2-2-6-2zM1204 576l1-1 1 2-1 1zM468 574l1-1 1 1-1 1zM1214 569l3 3-1 3-5-2zM1220 564l1-1 1 2-1 1zM1225 563l0-2 2-1 1 2-2 2zM459 561l1-1 3 1 3 5-1 1-3-1zM569 550l5-1 7 5 2 0 3 3 1 6-2 2-2 0-3 5 5 3 0 3 4 11 0 5 5 3-2 5 1 4 2 3 4 0 5 6 3-2 2 1-1 6 4 4 0 2 8 8 0 3 3 3 3 1-1 2-3-1-2 2-2 0-5-3-4-5 1-7-2-3-2-1-6 1-7-4 0-6-7-7 0-8-2-3 0-4-3 1-2-1 0-2 4-3 0-5-8-8 1-7-2-2 0-3-2-3 0-6-4-2zM596 547l1-1 2 3-1 1zM1221 545l4 1 1 5 2 3 0 3-2 2-3-1 0-6-4-5zM1237 534l2-2 2 1-1 2zM1241 528l1-2 3 1-3 2zM477 508l1-1 3 1-1 1zM459 502l3 2 0 4 2 0 2-3 3 2 0 4 2 0 2 2 1 7-4 3-5 1-2-2 0-3-4-6 1-3-2-5zM1316 494l3-1 1 2-3 1zM448 485l1-1 2 1 2 4-3 1zM358 482l-3 2-7-4 1-1 5 1 3-2zM347 479l1-1 1 1-1 1zM343 478l1-1 3 3-2 1zM1299 470l1-1 2 1-1 1zM435 470l2-1 1 2-2 1zM438 469l1-1 1 1-1 1zM772 467l-3 3-3 1-1-1 1-3 4-1zM1299 466l1-2 3 1-2 2zM1305 462l2 2-3 2-1-2zM777 454l1 1-1 7-5 5-1-3zM426 455l1-1 1 2-1 1zM337 450l1-1 2 1-1 1zM1210 423l1 2 0-2zM964 421l-2 2-1 4 1 1 5 0 0-5zM331 421l-2 5 4 1 0 3 8 9 5 0 5 4 3-3-4-6-7 2-6-6 0-2 2-1 1-3-2-2zM351 439l1-1 1 2-1 1zM346 437l1-2 2 1-2 2zM759 419l1 4 1 0 2-3zM817 417l-2 0-2 2 3 0zM326 417l-3 1 0 1zM773 409l-1 4 1 0zM866 397l0 1 2 0 4 3 0 3 1-4-4-3zM797 387l-1 2 2 2zM774 370l-1 0 0 2z" fill="#e56f00"/><path d="M1221 752l1 2 0-2zM589 664l-1 2-3 1 6 4 3 0 6 5-1 8-2 3 0 6 9-5 0-3-3-3 0-3 4-1 1-3-8-8-7-3zM662 651l-1 2 2 2 2 0 0-2zM503 645l1 2 2 0 3-3 3 2-4 9 2 3 2 0 0-7 3-7-7-1-3 3zM491 621l0 2 2 2-1 3 4 2 0 6 2 1 8 1 1-3 5-5-3-4 0-2-4-4-6-1-3 5-3-3zM715 590l0 2 3 1zM439 576l-1 1 1 3 3 1-1-4zM664 552l-5 4-3-1-1-2-6 0 0 7-5 5 1 2-3 5 0 7 4-1 3 3 7-1 2-2 2 0 1-3 6-5 0-4-5-6 0-4zM649 521l-1 2 1 0zM548 516l3 2 4 0-2-2-2 1zM441 512l-1 2 3 2 1-1zM676 509l2 2 2 0-2-3zM657 506l8 0 5 3 0-1-4-1-2-3-4 2zM653 503l0 1 2 0zM722 502l3 1-1-2zM540 501l0 2-3 3 0 2 5 5 1-6zM642 483l-3 1-3-1-2 2-4 0-3-3-5 7-6 1-7 6-5 2-2 3-3-2 3-3 0-2-3 3-2 0-2-2-4 0-1 1-1 7-2 2 0 4 1 1-3 7 7 8 4 0 2 2 3 7 3 3 4 1-3 5 4-4 6-1 7 6 2 0 3 3-1 2 3-1 3-5 3 1-1 4 5-2 3-3 0-2-2-2 1-7-2-3-1-9-3 2-2-2 7-7 0-2-4-4 0-5 1-1-1-4-3-4 1-6 4-3 1 1 0 4 5-1 4 6 1-7zM593 516l2-1 3 5 4-3 4 3 0 2-1 1-9 0-2-2zM598 509l3-1 1 2-3 1zM642 486l2-1 1 2-2 1zM452 482l-1 3 3 4 1-5-1-2zM457 474l0 1 4 1 4 6 2 0 3-3-2-1 0 2-2 1-5-6zM553 473l-5 4-2 0 2 8-3 3 0 10 3 3 2-3 10-1 4-7 0-6-7-5-2 0zM550 470l-3 1 0 3zM1296 466l-2 0-2 2zM422 465l2 1 0-1zM564 464l-3 3-2 6 3-2 1-2-1-3zM629 461l-1 0 0 2zM1311 459l-1-1-3 2-3 0-2 2 7-1zM429 456l-2 2 0 3 2 2 2-1zM425 453l-3 3 1 2 2-1zM442 452l4 4-1 1 0 5-2 3-2 0-1-2-3-1 4 7-4 5-2-2-1-4-1 0 1 4 2 2 0 2-2 2 2 3-2 3-7 1-2 4 7 2 2 2 0 3-2 4 4-1 7 4 5-6 3 0 0-2-2-1-2-4 1-1 0-7 4-5 3-1-1-1 4-5 6-1 0-1-7 1-2-3 2-2 2 1-2-2-3 2-2 5-4-2-2-2 3-2-1-8zM925 444l-1 1 1 1 1-1zM417 440l2 5-3 3 1 5 2-3-1-1 1-6zM334 439l2 3 0 6 3 0 2 2-2 2-2 0 1 1-1 3 4 2 0-2 5-3 0-3-4-1-6-6 0-4zM350 435l-2 3 1 3 1 0 1-3zM327 431l4 5 0-3-2-2zM323 458l-1 8 6 5 0 2 2 2 0 4-2 3 3 4 0 2-2 2-1 6 5 5-1 11 6 8 5 0 1 1 0 3-6 5 0 5 7 8-1 2-4 2 0 4 4 1 2 2 0 7 2 2-2 4 1 12 7 4 0 2-3 2 3 3 2 15 1 2 5 0 5 7 0 2 4 3 0 5 1 1-1 6 6 4 0 4 7 5 4-1 4 3 5 8 3 3 2 0 2 3 3-3 2 0-2-3 1-2 2 0 5 4 8 0 2 2 2 6 7 7 3 0 4-4 7-1 4-4 7 1 1 3 3 3 0 2 2 0-2-2 0-2 6-5 3 0 4 5 4 0 1-1 3 1 2-1 10 1 2-2-1-7-7-6 0-5 2-2-1-9-10-8-8 0-1-1 0-4 7-2 6 1 0-2 4-4 2 0 8-9 4 0 10 11 4-1 3-5 2 4 4 0 4-8 2 1-1 2 2 1 6 0 5-2 2 2 0 4 4 7 0 4 6 4 5 0 1 1-2 2 1 4 6 1 4 4 4-1 2 5 4 3 3 0 3-3 0-2 4-3 1 1-1 2 0 8 2 6 5 2 2-1 4 6 4 0 1 1 1 7 3 3-2 2 1 7-5 7-2 0-3 7-2 2 0 2 8 2 4-4 4 0 8 2 6 5 4-2 1 3-2 3 0 3 2 0 6-5 0-7 2-4 0-5 2-1 3 4-2 3 5 3 3-1 4 3 3-1 9 7 5-4 5 0 5 2 3 4 1-1 2 1-4 15 6 4 1 5-7 7-2 4 2 4-3 4 0 2 3 3-1 2 1 6 2-1 0-3 6-6 2-1 4 0 1 2 7-1 4-5 5 1 3-3 2 1 1 3 4 2 5 0-1-7 4-5 3 2-2 3 5 4 1 3 7 1 4-2 3 4 2 0 1 1 0 4-4 4 2 7-1 1-2-1-2 2 1 2-1 9 1 1 0 6 3 3 0 9-1 1 0 3 2 3-1 9 2 6 3 3 0 4 5 8-1 4-6 7-1 7-3 4 0 2 2 2 0 9 4 10 37 0 0-2-5-5 0-2 6-13-2-4 1-1 0-7 4-9 0-8 1-1-1-3 3-4 0-4-3-4 1-4-1-7-2-3-4-1-3-3 0-2 3-3 3-1 2-5 0-13-5-5 0-3 1-1 0-8 2-4-1-4 6-5-1-1 1-4 1-1 1 2 5 0 1 1 4-2 15 2 3-5 3 2 2-1 4 1 11-9 3 1 4-1 2-4 10-10 3-2 3 0 4-5 7 0 3-3 4 0 1 1 3-1 7 1 2-1 4 1 8 7 2 3 0 3 3 2 6-1 1-7 3-2 2 0 5 4 9 4-1 3 1 3-2 2 1 5-6 2 1 1 4 0 3 3-1 8-3 5-6 4-1 6 2 1 0 3 4 1 1-2-2-2 1-1-2-3 2-1 3 3 1 4 5 6 0 7 2 5-1 5 4 4 0 2-2 2 0 8-5 6-4 1 0 2-2 2 0 4 1 1 2-2 0-3 4-3 2 1-1 2 2 2-4 5 0 2 4 4 1 4-2 3 0 7 3 3 1 3-3 5 1 6-1 1-3-1-2 2 2 3 2-1 3 6 0 3-4 4 0 5-1 1 3 0 1 1-1 1 206 0 0-4-2-6 6-9-4-9 0-4 2-3 0-3 3-2 0-3-2-2 0-3 2-3-2-2 0-7-1-1 3-3-1-14-1-1 0-2 2-1 0-8-2-2 1-7-5-4-1-7 3-3 3-1 4-5 3-1 7 2 2-1-2-3-3-1 2-2 1 1 2-1-1-7 6-8 9 1 2 2-1 2 2-1-1-3 6-3 6 0 5-3 4 3 2 0 2 2 0 2 5 5-1 4 3 5 2 7 4 6 3 1 3 3-1 1 1 9 2 3 0 3 4 5 3 7-2 3 1 9 1 1-1 2 1 7 2 5 7 6 2 4-1 9 5 5 2 4 0 5 1 1-2 3 1 13 3 2 14 0 0-8 2-3 0-6-2-5 3-3-1-4 1-1 0-5 2-2 0-2-2-2 2-5 0-4-2-3 0-3 2-4-2-12 4-6-5-7 0-2 1-1 0-6 3-3 0-12 2-3-1-5-4-2 3-4 1-19 3-7 2-2-2-5 5-12 0-2-6-6-2-5 1-3-1-3 4-4 0-5-3-4 0-3 4-4 0-5-2-5 1-9-2-3 0-3-3-4 0-3 4-5 0-4-4-3 2-2 3 0 2 2 3-1 5-5 2-5 16-10 1-3 9-9 2-5 3 1 9 0 1-1-1-6 2-2 0-5-3-7 0-9-4-4 1-6-3-5 0-7 2-2 5 0 5-6 4 0 1-1 0-8 2-2 1-5-4-4 0-3-5-11 0-10-5-2 0-4-1-1 6-4 2 1 9 0 1 1 4-1 1-4 3-2 0-4 2-3-1-5-5-2-4 1-2-2-3 0-6 3-4-1-5 1-5-2-2 2 6 2 0 4-4 2-5-3-5 0-1 1-4-1-3 2-10-3-2-2 2-2-1-1-7-1-2-2 3-2 3 0 3-3 0-2-5 5-10 3 4 2-2 2-6 0-5 6 2 3-9 4-2 5 6-6 2 0 2 2 0 3-3 2-3 5-11 5-2 2 0 2-5 5-5 1 0 6-13 11-6 0-2 3 0 3-3 2-3-2 4-4 0-2 3-3 5-1 3-2 3-4 0-4 3-3 0-2 3-3 7-1 2-2-1-3 1-2 7-6-3-4-2 0-4-3-3 0-6-8 3-3 3 0 0-4 10-10-2-4 1-3-2-2-4 0-4 3-8-4-6 1-3 2-1-1 2-2 0-4-1-1-4 4-2 0-9 10-4 1-9-1-2 2-10 4-5 0-6-9-4 0-3-3 0-2-4-2-7-1-8-6-2 0-2 4-6 3-13-1-3 3-9 0-4 2-4-1-3-3-1-3-3-1-6 6 2 4-3 4-5-2-1 1-10 0-3 2-3-1-7 1-8-7-8-3-4-5-3 2-3-1-2-3 2-3-1-2-6 0-4 2-1 8-3 2-6-4-1 1-8 0-3-2-1 1-8 0-1-1-14 1-4-3-6 0-6 5-3 0-6-5-3-1-4 1-3-2-3 0-8 6-4 5-9 3-7 0-1-1-6 1-3-3-1-3-12-7-4 1-3-1-4 1-10-1-5 3-11-7-5 5-6 1-1 3 2 2 0 2-2 2-4-3-3 0-2 2-6 0-8-8 0-6-1-1 1-4-2-3-4-2-3 2-2 4-6 2-5 0-3 3-5 1-6 6-16-2-1 1-5 0-5 4-4 0-3-2-4 2-3 0-2-2-2 0-4 3 1 4-3 5 1 2-3 2-5-3-1 3-3 1-5-4-1-3-3 0-3 3 0 3-2 2-4-3 3 5 2 7-4 6-5 2 6 5 4 0 7-4 9 0 0-5 2-5 4-4 11 2 2 2 0 7 2 2-4 1 0 3-2 3 0 5-2 5 3 4-9 9-7-1-2-4-4-2-3 0-6 4-8 1 2 2-2 4-1 9 3 6 0 5 1 1-1 6 2 5 4 3 1 3 3 0 2 2-1 4 11-4 3 3 0 3-2 2 0 2-5 7-3 0-4-3-1-4-6-4-1-9-2-1-1 3 1 8-3 3 0 3 2 3 0 5-4 3 0 11 2 3 4 1-6 2 0 3 3 3 0 2-3 2 0 6-2 2 0 5 2 3 0 3-2 2-11 1-2-3 0-4-4-2 0-4-3-1-5-5 5-5 0-2-3 0-3 2-1-4 5-9 4-1 0-3-10 1-2-3-1 1 1 4-5 5-3-2-4 0-5-2 1 11-3 5 3 8 0 7 2 4-1 7-2 3 0 4 3 7 9 8 1 3-1 1-6 0-3-3-2 0-11 8-2-1 2-4-6 0-5 3-5-2 1 2 0 4-1 1-2-4-2 1-2-1 1-7-2-3 3-8 4-4 0-8-4-1-4-3-2-6-5-6 0-4 1-1-2-3 1-2 0-4-1-1 1-3 3-2 3-6 4-3-5-4 0-4-2-2-3 0-4 4-7 1-5-4-5-2-4-5 0-3 6-8-3-3 1-3-12-12-5 5-4 0-3 3-5 0-1-1 1 2 4 1 3 4 0 6-2 2-3 0-1 4 2 0 2 2 0 3 4 9 1 8 2 0 2 2 0 4-1 1 1 7 6 1 4 5 2-1 4 1-1 7 3 3 1 3 8 7 0 4 6 1 5-3 7 0 4 2 0 4-1 1-5-4-5 0-6 4-9 1-8-7 1-7-3-4-7 1-8-5 0-7-3-1-3-4-2-15-1-1-3 2-2-2 0-2 5-4 0-3-9-9 1-7-1-4-3-4 0-6-4-1 2-3 2 0-6 0 1 2 0 4-1 1 2 2 0 4-2 2-6 0-6-7-3-1-2-6-7 7-2-1-1-3 5-3 1-2 0-8 2-2 4 5 1 6 3 2 2-3 0-4 3-6 0-5 3-2 3 4 1-1-5-10 0-5-3 0-4 3-4 1-5 5-4 2-3 4-1-2-2 2-3 0-5-5 0-2-5-4-2-4 0-7-7-3 1 2-3 3 7 1 4 8 0 6-3 3-7-5-4 0-4-4-1-7-2-3 0-4 1-1-1-2-4 0-4-3-2 3 6 6 1 3-1 1 0 8-5 10-2-4-5-3 0-4-6-5 2-6 2-2-1-2-2 2-3-1 1-3 3 0-2-5-4 2-4 0-1-1 1-2-5-5-2 0-4 3-6 1-1 3 3 4 0 4 3 3 0-5-2-5 1-2 5 3-1 3 1 1 2-3 2 0 2 2 0 3 3 1 3 4 0 5-6 4-5 0-1-1 0 2 2 2 0 3 2 2-4 10 3 5 1 5-4 5-3-1-2 1 1 1-3 3-1 4-3 4-1 4 2 6-1 4 2 3-6 3-5 0-7-6 0-3-2-4 2-2 0-7 2-3 0-4-5-2-3 0-3 2-5-4 0-3-4-6 3-4 0-3-2-2-3-8-2-1-3 1-1-2-2 0-2-2 3-3-5-4 0-7-1-2-10-10 0-3-3-3-1-3 0-4-7-6 1-4-2-2-4-1 2-15-4 1-4-4-2-5-6-5-4 7 0 8-8 13-3-2 2-5-3-2-3 1-3-3 1 4 3 3-2 2-1 4 4 1-1-2 2-2 1 4 3 3 3 0 3-2 2 2-4 4-6-2-2-2-2 2-4-4-3-1-3-3 1-7-4-1-2-5-4-4zM959 816l1-1 2 3-2 1zM950 761l1-1 1 2-1 1zM962 759l3 0 2 3-3 5-5-3 0-2zM765 758l1-1 3 1-2 2zM758 751l3 1 2 3-3 4-2-2-1-4zM748 749l4-4 5 5-2 2-5 0zM738 733l2-1 1 3-2 1zM1037 727l1-1 2 1-1 1zM1020 721l4 3 8 1 2 2 3 0 5 6-1 1-1 9-3 2-3 0-4 7-2-1-2-4-1 1-2-2-3 1-2-1 1-6-4-5 0-2 2-2 1-6zM1015 722l1-1 1 1-1 1zM978 714l1-1 3 1-2 5 1-1 8 0 2-1 3 3-1 3-2 2-2-1-3 2-5-3-2 0-1-1zM932 709l3 0 2 4 0 4-3 2-4 0-2-2 0-2 2-1 0-3zM919 704l3-3 5 2 1 3-2 2-3 0zM615 678l1-1 1 1-1 1zM639 675l1 1 0 5-1 1 1 4-1 1-3-4 1-6zM639 674l1-1 1 1-1 1zM641 670l1 1-1 3-1-1zM641 670l1-3 3 1-3 3zM707 666l1-1 1 1-1 1zM405 655l1-1 1 2-1 1zM695 654l1-1 4 0 2-2 3-9 1 1 6-1 1 4 2 1 1-2 4 0 5 4-1 1-5-1-1 4-1-1-3 1 0 2 5 6-1 2-4-3 0 2-2 2-3-1 2-5-1-1 0-4 1-1-1-2-8 5-3 0 0 2-2 2-2-2zM473 616l1-1 1 1-1 1zM455 594l2-1 1 3-2 1zM496 593l3-2 3 4-2 1zM1185 590l2 2 0 4-1 1-3-3 0-2zM1189 586l2 1 1 4-2 3-2 0-2-4zM474 586l3-1 2 2-2 2zM1192 584l2-1 1 3-2 1zM471 584l1-1 1 1-1 1zM1196 582l1-1 1 1-1 1zM469 578l3 2-1 4-3-4zM492 575l1 2-2 2 0 3 2 3-2 2-1 4-5-6 1-3-3 1-3-4 1-1 6 0zM468 575l1 1-1 3-1-1zM1205 574l1 4-2 1-1-1zM469 572l1 1-1 3-1-1zM1214 568l3 4-1 3-5-2zM1221 562l1 1-1 3-2-2zM459 560l1-1 2 1 5 7-2 1-4-2-2-3zM531 554l1-1 1 1-1 1zM597 545l2 2-1 3-2-1zM1224 544l2 1 0 6 2 2 0 9-2 2-2-1 1-3-3-3 1-4-4-5 1-3zM492 534l1-1 1 1-1 1zM559 531l1-1 1 1-1 1zM1290 496l1-1 3 1-2 2zM1316 494l2-2 2 1 4-1 2 3-1 1-3-1-5 1zM347 473l1-1 1 1-1 1zM778 452l2 2-3 6 1 2-7 7-7 4-1-1 1-4 2-2 4 0 1-1 0-3 2-2 1-4zM336 424l-2 1 0 5 8 9 2-1-8-8 3-5zM762 420l-2 0 1 2z" fill="#f0a900"/><path d="M590 665l-3 3 3 2 5 1 5 4-1 4 1 5-2 3 0 5 8-5 0-2-3-3 0-4 4-1 1-2-9-8-5-2zM663 651l-2 2 2 2 2 0 0-2zM508 643l-4 3 1 1 3-3 2 0 2 2-3 7 0 4 2 1 1-1-1-4 3-5 0-4zM491 621l0 2 2 2-1 3 5 3-1 4 2 2 7 1 3-5 4-3-7-10-5-1-2 1 0 2-2 2-3-3zM715 590l2 3 0-2zM439 576l0 4 3 1 0-2zM649 553l0 8-4 3 0 4-2 3 0 8 4-1 2 2 6 0 4-2 1-3 4-4 3-1 0-1-5-6 0-8-1 1-5 0-1 3-2-2 1-4-1 1zM651 562l1-2 2 1-2 2zM441 513l0 2 2 0zM514 511l-1 2 2 0 5 3-1-4zM541 503l0 2-3 1 0 3 4 3 0-7zM646 486l-1 3 2 4 1-4-1-3zM642 484l-2 0 0 5 1-1-1-2zM627 483l-4 6-6 1-10 8-2 0-3 4-3-2 0-2-2 0-4-3-3 1 0 6-2 2 0 9-2 5 3 4 7 3 7 10 3 0 2 2 0 2-3 3 5-4 5-1 8 7 2 0 2 2 0 2 1 0 5-6 3 2-1 3 7-5-3-3 2-7-2-2-1-8-1-1-1 1-3-1 0-2 7-7-5-6 1-8-3-5 0-6 4-3-3 2-3 0zM593 515l2-1 2 2 0 3 2 0 2-2 4 1 1 1 0 4-1 1-10-1-2-3zM597 510l1-2 4 0 1 1-3 3zM594 507l2-1 2 2-3 1zM453 482l-1 3 2 0zM552 478l-5 0 0 2 2 2 0 2-3 4 0 11 1 1 3-3 9-1 5-8 0-2-4-2-3-4-4 2zM548 490l1-1 5 1 1 1 0 4-2 1-2-2 0-2-2 0zM553 474l-1 1 2 1zM562 468l-1 0-1 3 2-1zM454 466l-1 4 2-1zM342 465l3 4 0 2-2 2 0 3 1 0 5-6 0-3zM429 458l-1 2 1 0zM447 456l-1 0-1 8-2 2-2 0-3-3 3 5 0 2-3 4 1 3-3 2 0 3-3 3-4 0-3 2 0 1 7 3 2 2 0 3-2 2 0 2 4-3 1 4 6 0 5-5-3-6 1-1-1-3 1-4 7-7 0-2 2-2-2 2-3 0-1-1 1-1-5-4 3-3-2-4zM424 455l-1 2 1 0zM345 450l-3-1-4 7 2 1 2-3 2 0zM417 448l0 3 1 0zM323 460l0 4-1 1 6 5 3 5-2 9 3 3-3 3-1 6 3 4 3 1-2 4 0 6 3 6 3 3 5 0 1 1 0 3-6 5 0 5 7 8-2 3-3 1 0 4 4 1 2 2 0 7 2 1-2 6 1 11 7 4-2 5 2 2 0 4 2 3-1 4 2 6 5 0 5 6 1 4 3 2 1 13 5 3 0 4 5 2 2 3 4-1 3 2 9 12 3 0 2 3 1-1-2-2 2-2 3 2-2-2 1-3 2 0 5 4 8 0 2 2 1 4 8 9 4-1 5-4 5 0 5-5 6 2 2 2 0 2 2 0 3-4 6-1 4 5 3 0 2-2 1 1 14 1 2-3-2-7-6-4 0-6 2-2-1-8-10-9-3 1-5-1-2-5 8-2 5 1 15-15 4 0 4 5 4 2 2 4 2 0 4-6 3 2 0 2 4 0 3-7 2-2 2 4 4 0 1 1 6-3 2 2 0 4 4 7 0 4 5 2 2 3 3-1 2 2-2 2 1 4 6 1 4 4 4-1 2 2 0 3 4 3 4-1 2-2 0-2 4-3 1 1-1 2 1 12 6 4 3-1 3 6 4 0 1 1 1 7 3 2 0 2-2 2 2 5-4 6-5 4-4 9 4 0 2 2 2 0 4-4 5 0 7 2 4 4 6-1 1 3-2 3 0 3 2 0 6-5 0-8 2-3 0-7 1-1 4 5-2 4 3 2 6 0 3 3 3-1 7 6 4 0 2-3 7 0 5 2 2 4 2-1 2 2-2 2-2 8 0 5 5 3 1 5-8 9-1 3 2 2 0 2-3 3 0 2 3 3-1 5 2 3 1-4 6-6 2-1 4 0 2 2 6-1 6-6 3 2 4-3 6 6 5 0 0-4-2-2 5-6 3 2-2 3 4 2 2 4 4 2 7-2 7 6 0 2-4 4 1 8-4 1 1 6-2 6 2 3-1 3 3 1 0 4 1 1-2 10 3 7-2 5 2 6 3 4 0 3 5 9-3 8-4 3-1 8-3 3 3 6-1 6 2 3 0 4 2 4 37 0-6-8 6-14-1-3 0-12 2-2-1-1 3-3 1-3-1-3 1-1 0-6 2-2 0-5-3-5 1-2-1-9-5-2-4-4 0-2 4-4 2 0 2-3 0-16-5-4 0-3 2-2-1-2 0-7 3-2-1-4 5-4 0-7 1-1 5 1 2-3-1-3 1-2 2 0 4 5-1 3-3-1-2 1 2 2 2-2 4-1 1 1 7-1 2 3 2 0 0-3 2-2 11 1 10-8 4 1 2-1 4-6 11-10 4 0 3-5 8 0 2-3 6 0 1 1 1-1 6 0 1 1 7-1 4 3 1 3 4 0 4 2 6 0 6-2 7 5 6 1 3 3-1 1 1 5-2 4 0 3 2 2 1 5 4 7-2 2-2 0-3 4 0 10 6 8 1 16 4 5 0 2-2 2 0 9-1 1 1 7-1 1 0 4-4 4 0 2 3 2 2 6-2 4 0 3 3 6 0 5-2 3 1 4-1 9 2 4 0 4-2 2 1 8 204 0 0-4-2-2 0-5 5-7 0-3-3-7 0-5 2-2 0-3 3-3 0-2-3-4 3-3-2-3 0-6-1-1 3-5-1-13-1-1 0-2 2-2 0-7-2-2 1-7-6-5-1-5 2-3 5-3 0-4 3-2 3 1 6-6 2 0 0-6 6-9 12 1 7-3 4 0 2-2 6 0 6 4 1 4 4 3 0 7 3 5 0 3 5 8 4 1 2 2-1 6 3 8 0 3 7 11 0 3-2 3 2 3 0 7-1 1 1 1 1 8 8 8 3 5-2 2 0 5 6 7 1 3 0 4 1 1 0 2-2 2 1 13 3 2 14 0-1-1 1-8 2-2 0-5-2-6 3-4-1-2 1-5-1-1 3-3 0-2-3-3 3-4 0-3-2-3 0-6 2-3-2-11 3-5-1-4-3-3 0-4 1-1 0-5 3-4 0-12 2-3-1-3-4-4 3-4 1-19 2-2 0-3 3-4-2-4 2-3 0-3 3-7-6-6-2-6 0-6 4-5 0-3-2-2-2-6 4-2 1-7-2-4 1-9-5-11 0-3 3-4 1-4-4-4 2-2 3 0 2 2 3-1 5-5 0-3 3-3 3-1 9-7 2 0 4-7 3-1 3-4 3-7 4 2 2-1 2 1 5-1 0-2-2-2 2-3 0-7-2-5 0-10-4-3 1-6-3-5-1-6 2-4 6-1 4-5 4 0 1-1 0-5 3-5 0-6-3-2 0-4-2-2-1-5-2-3 0-10-2-2-1 1-3-2 0-6 5-3 8 0 2-2 3 3 3 0 5-9 1-8-4-2-5 1-4-3-2 2-3 0-3 2-13-2-1 1 4 0 2 2-1 5-3 2-4-1-2-2-6 0-1 1-3-1-3 2-4-1-5-3-2 0-4-6-5 0-5 4-4-1-5 5 1 5-3 1 3 4 0 2-3 3 0 2 3 0 2 2-3 2-5-3-6 5-5 1-7 9-4 1-2 2 1 4-12 10-8 2-3 7-4 0-2-3 4-2 1-4 4-3 5-1 5-5 0-5 3-5 4-3 6-1 2-7 6-5-3-4-9-3-5-7 0-2 2-2 3 0 1-6 9-8-1-7-1-1-5 0-1 2-3 0-7-3-5 0-4 3-2-3 3-3-1-2-1 0 0 2-2 2-5 1-2 4-5 5-4 0-1 1-7-2-3 3-5 1-6 3-4 0-6-9-4 0-3-3-1-3-6-2-4 0-8-6-2 0-3 4-4 2-6 0-1 1-6-2-3 3-10 1-4 2-4-1-5-7-1 0-4 4-2 0 1 7-2 2-12-1-1 1-14 1-1 1-6-3-4-4-8-3-5-5-1 1 2 2-1 6-3 3-2-2-5 1 2 4-2 2-6 0-1-3 4-5 0-3 4-3 2 1 0-9 1-2-2-1-1 1-4 0-3 2-1 2 1 5-2 2-4 0-4-3-3 3-2-2-5 0-2-2-2 1-4 0-5-2-2 1-12 0-3-2-6 0-6 5 0 2 6 7-8 8-3 0-4-7 0-2 3-2 0-3 1-1 1 1 1-3-2-3-5-3-13-1-14 12-8 1-1 1-4-1-4 1-1-1-4 0-1-4-2-2-10-6-5 0-1 1-1-1-6 0-1 1-9-1-2 2-3 0-5-2-4-4-5 4-7 2 0 2 5 5 0 2-4 2 0 4 2 2-3 1-3-2-1 1 1 2-3 1-2-2 1-2-1-4-5 1-1-4-4-2-1-3-6-5 1-4-1-8-5-3-3 2-2 4-3 0-3 2-5 0-2 2-6 2-4 5 0 3-3 3-3-1-5-5-5-2-3 2-4-1-4 4-6 1-2-2-3 0-4 2-4-3-4 3 1 3-3 5 0 4-1 1-7-1-2 3-2 0-3-3-2 0-1-4-2-1-4 4 0 3-4 1 4 8-3 6-5 3 5 5 9-4 9-1 2-9 4-4 5 0 8 2 1-4 6-3 3-5 0-2 4-5 3 1 0 3-2 3 0 4-4 5-5 3-2 0-2 3-1 4 5 4-4 3-2-1-2 4-2 8 0 4 2 2 0 2-9 8-6 0-5-6-5-1-3 3-6 1-3 2-3 13 4 10 0 11 1 2 5 5 0 2 3 0 2 2-1 4 4-3 4 0 2-2 2 0 3 6-3 4-3 8-4 1-3-1-3-3-1-4-6-4-1-8-2 3 2 5-4 4 0 2 2 3 1 5-4 3-1 10 2 4 5 0 3 2-1 1-5 0-4 2 1 3 3 1 0 2-3 4 0 5-3 3 2 5 0 6-12 3-3-2 0-5-5-4 1-2-2-2-2 1-1-4-3-1 0-3 4-5-5 2-2-3 3-5 0-2 5-5 2 0-1-2-7 2-4-3 0 4-4 5-7-1-5-3-1 2 2 3-1 1 0 6-2 2 0 4 2 5 0 6 2 5 0 7-2 3 0 8 4 6 7 5 1 4-1 1-6 0-3-3-2 0-4 2-6 6-3-1 2-4-5 0-5 3-3 0-3-2 2 4-6 9-1-4 4-5-1-1-2 2-2-1 1-7-2-5 2-6 3-3 2-5-1-1 0-4-7-3-1-5-6-7 0-7-1-1 1-4-1-6 5-5 1-3 4-3 0-2-5-3 1-3-3-3-5 4-6 2-15-9-2-6 6-7 0-2-2-2 0-3-5-7-4-1-1 3-3-4-2 2-5 0-3 4-4-1 0 1 4 1 3 5 0 5-2 2-2 0-2 3 4 2 0 6 3 6 1 8 3 1 2 3-1 10 7 2 4 4 2-1 3 1-1 7 4 6 8 8 0 3 2 2 12-4 7 1 2 2-2 6-6-5-4 0-7 5-1-1-7 1-4-2-5-7 1-1 0-4-3-4-5 2-9-5-1-8-6-6-2-14-4 1-2-3 6-7-2-4-3-1-4-4 1-7-2-6-3-3 1-6-2 1-2-1-1 1 1 8-2 2-7 0-2-4-3-3-3-1-1-4-2-2-5 7-2 0-3-4 1-2 4 0 2-4-1-4 2-5 4 3 2 8 2 2 2-1 0-5 2-2 1-8 1-1-1-4 3-1 4 5-4-9 0-5-1-1-7 4-3 0-13 13-1-2-4 1-6-5 0-4-4-2 1 4-3 4-4-1-3-3-4 0-6-6-1-7-2-3 1-5-8-2-1 1 1 2 5 5-1 4 1 5-4 9 0 4-2 1-2-5-6-5 0-3-2-3-4-2 4-9-1 1-4 0-1-1 0-2 2-2 2 0-1-3-8 2-2-2 1-3-4-4-3 1-3 3-6 1 0 3 2 2 0 4 2 2 0-5-2-4 5-2 9 7 0 3 4 1 0 2 2 2-1 3 1 1-2 3-4 2-6 1 1 1 0 4 2 2 0 3-3 3 0 6 2 2 1 6-3 5-5 0 1 2-4 2 0 3-3 3-1 3 1 11-1 1 3 5-1 1-2-1-3 2-6 0-7-6-2-7 2-3-1-5 3-4 0-4-6-2-5 2-5-4 0-2-4-7 3-5 0-2-2-2-3-8-5 0-5-4 3-3-5-4 0-7-12-13 0-3-4-6 1-3-7-5 0-6-3 0-2-2 1-4-1-8 2-3-4 1-5-5-1-4-4-4-3 0 0 3 2 2-1 1-2-1-2 1-1 11-4 4-1 4-2 2-3 0 0 3 4 3 2 0 3-3 2 2 0 2-4 4-6-3-5 0-4-4-3-1-3-4 2-5-4-1-2-2 0-3-3-4-3 0zM998 886l3-1 1 2-2 1zM996 886l1-1 1 1-1 1zM1021 870l1-1 2 1-1 1zM1020 868l1-1 1 2-1 1zM1049 858l1-1 2 1-1 1zM1001 857l1-1 1 1-1 1zM1017 849l-3 4-4 0-2 2-1-1 0-3 2-2 3-1 4 0zM988 847l2 3-4 3-1-4zM1056 825l3-1 1 3-2 1zM1035 817l1 2-2 1-1-1zM1039 810l2 0 1 3-2 3-1-1-3 1-1-2 3-1zM1001 801l1-1 1 1-1 1zM976 781l1-1 1 1-1 1zM1030 774l5 1 3 5-5 7-2 0-5-5 0-2 3-2zM973 774l2 3-1 3-2 0-3-3zM765 772l1-1 2 1-1 1zM762 768l2-1 2 2-3 1zM1003 759l1-1 1 1-1 1zM962 758l4 0 2 2 1 6-3 3-3 0-5-5 0-2zM767 756l3 1-2 3-3-1zM987 752l2-1 1 2-2 1zM758 751l2 0 3 3-2 5-3-2-1-3zM984 746l3-1 3 3-1 2-3 1zM748 751l0-2 3-4 6 4-2 3-6 0zM1220 740l1-1 1 1-1 1zM840 740l1-1 2 1-1 1zM1049 736l1-3 2 2-2 2zM740 731l1 4-2 2-1-1 0-4zM1016 719l4 0 8 5 4 0 1 1 6-1 4 3 0 7-1 1-1 8-5 4-3 0-1 4-2 2-4-4-7-1-3-3 2-2 0-3-4-5 0-2 3-5 0-2-3-3 0-2zM954 718l1-1 1 1-1 1zM955 717l1-1 1 1-1 1zM1005 717l2-4 6 0 3 2-1 2-5-1-2 3zM953 714l1-1 2 2-2 1zM977 714l2-2 2 0 3 5 8-1 3 4-1 4-3 3-8 1-6-6zM949 711l2 3-3 3-2 0-1-2zM934 708l3 3 1 5-3 3-5 1-3-3 0-2 3-5zM929 707l1-1 3 1-2 2zM955 703l3 4-4 4-3-2 0-3zM956 703l1-1 3 1-1 1zM919 703l2-2 2 0 5 2 1 3-4 3-2 0-4-4zM642 690l1-1 1 1-1 1zM641 689l1-1 1 1-1 1zM640 688l1-1 1 1-1 1zM615 678l1-1 1 2-1 1zM640 673l1 1-1 2 0 9 1 2-1 1-4-5 0-4zM707 666l1-2 2 1-2 2zM705 642l3 1 3-2 3 4 1-1 7 1 3 3-1 2-5-1 0 4-1 1-2-2-2 2 6 8-1 2-4-3-2 3-3 1-1-1 1-12 1-1-4 0-4 4-3 0-2 4-3-1 0-4 2-2 1 1 3-1 0-3zM472 616l1-1 2 1-1 1zM422 604l1-1 1 1-1 1zM1173 596l1-1 2 1-1 1zM739 596l2-2 2 1-1 2zM479 593l1-1 1 1-1 1zM456 592l2 2-1 3-2-1zM494 593l5-2 4 5-1 1-5-3-2 1zM1190 585l2 7-7 5-3-5 2-2 2 0 1-3zM473 585l1-1 4 1 1 3-2 1zM1194 582l2 2 0 2-2 2-2-2 0-2zM1196 582l1-1 2 1-1 1zM481 577l1 1 5 0 4-3 2 1-2 4 2 5-3 6-6-6 2-2-1-1-2 1-3-3zM1205 574l2 2-3 4-1-3zM468 571l2 2-1 5 4 3-1 1 2 2-1 1-2 0-4-6 0-7zM1214 568l4 4-3 4-4-2 0-2zM1219 563l3-1 1 3-2 2-2-2zM471 562l1-1 1 1-1 1zM459 560l2-1 5 5 0 2 2 2-2 1-2-2-2 0-3-4zM531 554l1-1 1 1-1 1zM1237 544l1 2-3 3-1-3zM1225 542l3 2-2 2 0 4 3 5-1 2 1 4-2 3-2 0-2-2 1-2-2-2 0-6-4-4 0-2 2-2 3 0zM1274 520l1-2 3 1-2 2zM1288 504l1-1 1 1-1 1zM785 496l2-1 3 5-3 1-2-2zM1333 495l1-1 2 1-1 1zM1299 495l4-1 1 2-3 1zM793 490l1-1 2 1 5-1 1 2-3 3-2 0zM1345 489l1-1 2 1-1 1zM1332 486l0 3-4 3-1 2 1 2-1 1-4 0-1-1-5 1-2-2 2-3 7-1 3-3 1-4 2 0zM1106 478l1 2-5 3-1-2 3-3zM1245 476l1-1 1 1-1 1zM825 472l1-1 1 1-1 1zM1205 471l2-1 1 3-1 1zM1110 469l3 3-2 3-3-2zM821 469l2-1 1 3-2 1zM732 462l2-1 1 2-2 1zM1033 452l1-1 1 2-1 1zM338 425l-3 0-1 2 1 3 1 0z" fill="#fbe400"/><path d="M981 866l2 2 0-2zM771 865l0 2 2 1 0-2zM791 860l-5-2-4 0-2 3 1 6-5 4 0 3-2 3 0 4 2 0 2 2 6-4 1-4 5-1 0-4 5-4-1-1-1 1-2-2 1-2zM768 848l-1 0 0 2-3 5-4 3 0 7-3 2 0 3 2 2 1 4-1 5 4 10 2 0-3-5 0-4-2-6 3-5 0-3 3-3-5-4 0-2 4-3 3-5zM759 867l1-1 1 2-1 1zM772 840l0 4 2 2-1-6zM790 836l-3 3 0 2 2 0 2-2zM758 824l1 5 4 5 0 4 2 2 1 4 1 0 0-2-3-5 0-3-4-5zM774 806l-1-1-1 4-2 2-4 1 0 1 2 0 1-2 3 0zM982 802l3 4 3-1-1-4-4 0zM785 786l-2 1 2 0zM1056 786l3 0-2-2zM1002 784l-5 1-1 3 4-1zM787 766l-1 0-1 3-3 1 2 6 3-4 2 0 1-3zM1040 759l2-1-2 0zM962 746l-1 3 3 1zM512 644l-1 0 1 1-1 6-2 3 1 3 1 0 0-5 3-5zM491 621l2 3-1 3 5 3 0 6 2 1 7 0 1-3 4-4-3-6-4-4-5 0-2 4-2 0-2-3zM577 582l-1 4 4 0 1-1zM439 577l0 2 2 2 1-1zM656 562l1 3-2 2-4-2-2-3-4 3-1 6 2 2 2 0 3 4 9-8zM651 554l-1 0 0 5 1-1zM588 550l-1 3 3 8-1 3 4 4-5 3-1 4 1 1 0 4 4 7 0 3 7 8-3 6 9 4 4-1 3 3-2 8 4 6 7 6 4 1 2 3 4-2 5 0-1-6-6-8 1-4-1-2 0-12 4-4 2-4 3-2 0-2-1-1-3 1-2-2 0-3-9 4-6-3-3-3-7-2-5-6-2 0-3 3-6 1-1-4 4-5 0-6 2-2 0-1-2 1-2-2 0-3 5-4-2-3-3 2zM1228 546l-1 1 1 4 3-2zM632 494l-5 4-3 0-2-3-4 3 0 5-1 1-2 0-4 4-7-2-1 1 2 2-5 3-2 6 3-2 3 0 3 3 1 6 2 2-1 1 1 3-2 2 0 4 1 1 5-3-2-2 1-2 5 2 5 6 5-2 4 2 1-1 4 0 3-4-2-5 0-4-6-4 0-2 4-4 0-6-2-3 1-8zM804 474l2 2 0-2zM447 474l0 2 3-1 0-1zM1369 472l0 1 7 1-2-2zM672 593l2 4-1 1 0 6-2 3 0 5 2 3 0 8 2 4-1 8-2 2 1 8 11 11 0 4-1 1-5 0-5-4-4 2-8 7-2-1 1-5-1 1-5 0-5 3-3-2 1 5-4 3 0 2-3 4 0 9 5 5 0 2 3 4-1 3 1 2 7 1 2 2 5 0 7 6 2 0 2-3 8 0 4 1 3 4 2-1 2 2-2 3-2 13 3 1 3 3 0 5-8 9 1 6-3 5 3 2 0 8 1 0 1-4 5-5 6-2 4 3 3-2 3 0 0-2 3-3 5 1 2-2 3 0 2 4 4 2 3 0 1-4-2-3 4-5 2 0 2 2-1 3 6 6 6 1 4-2 3 4 4 1 0 6-4 3 2 7-2 2-1-1-2 1 1 2 0 5-1 1 1 7-1 1 4 1-1 2 1 3-1 12 2 3 0 3 1-1-1-15 3-4-3-3 1-2-3-3-1-3 2-6 3-3-3-9 4-4 0-2 2-2 3 1 1-2 6 1 4-2 7 1 4-2 6 2 4 0-1-3 5-5 1-9 4-7 7-1 4 4 1 3 5 1 5-2 4-4 8-2 7 2 2-1 2-4 7 1 6-9 0-4 2-2 0-7 1-1 3 1 3-1-2-4 8-11 4-3 2 0 3 4 4-1 10 1 2-2 8 2 2 3 3 0 2-2 2 0 2 3 3-1 2 5 4 0 5-4 3 1 4 4 3-5 4 0 5-2 4 0 1 3 7 0 3 3 5 2 2-1 2 1 8-2 8 0 3-3 4 2 15-1 3 3 0 2 5 3 4 0 3 3 0 3 8 1 6 10 8 7 1 2 0 10 5 12 0 5-3 3-2 0 0 4 2 2-1 6-2 1 5 4 0 3 2 3-2 3 1 9-2 2 1 5-2 5 1 1 1 11 3 6-2 5-4 5 1 9-3 3 0 3 3 1 2 3 0 2-4 2-1 2 1 1 4 0 4 3 0 3-5 4 0 3 2 1-2 4 0 5 106 0 0-3-2-2 0-7 5-6 0-3-2-2-1-4 0-7 2-2 0-3 3-2-3-5 2-3 0-2-2-2 1-2-1-7 3-3 0-4-2-3 1-5-2-3 3-3-1-3 1-3-3-4 1-7-5-4-1-6 6-5-2-5 6-3-1-1 1-3-2-4 0-3 5-6 0-3-2-2 0-2 6-6 5 0 3-2 7 1 6-5 4-1 2-2 6 0 1-4 3-2 8 0 2-2 5 0 1 1-2 2-1 4 3 4 0 3-4 4 1 4-3 7 1 3 5 5-1 5 3 4 1 6 4 6 6 4-1 3 1 6 3 9 4 5 2 5-1 7 1 1 0 13 1 4 7 7 4 6-2 6 8 14 0 6-2 2 1 2 0 9 4 3 12 0 1-10 1-1-1-12 2-2 0-10 3-3-3-3 0-2 2-2 0-6-2-4 3-7-3-7 0-3 3-4 0-4-4-5 0-2 1-1 0-5 4-7-1-1 0-7 2-4 0-3-5-5 4-5-1-2 1-8 1-1-1-6 2-2 1-5 2-2-2-5 2-2 0-3 3-7 0-2-6-6-2-5 1-7 3-3 0-5-2-2-1-5 4-3 0-7-2-7 2-4-6-13 1-4 4-5-5-5 4-3 6 2 5-5 1-4 2-2 5-2 7-6 2 0 2-4 9-9 0-2 3-5 3 2 6 0 1 1 2-1-1-6 2-2 0-5-3-7 0-9-4-4 1-6-3-5 0-8 2-2 6-1 4-5 4 0 1-9 2-2 0-5-3-2 0-4-2-2-1-5-2-3 0-10-1-1-4 0-3 4-3 0 5 9 0 8-4 4 3 4 0 3-2 2 1 4-6 6-2-2-1-5-4-3 1-2-1-1 0-5-5-4 1-3-1-1 0-4 2-3 0-6 1-1-1-5-5 0-1 1-5-2-2 1-2-1-4 1-17 0-1 6-4 1-2 2-2-1 0-2 2-2 1-4-3 0-9 10-3 0-1 4-6 9-6 0-10 8-7 2 1 1-1 5-3 3-4 0 0 1 3 0 2 2 0 2-3 2 0 2-14 16-5 3-2 0-1-1 1-1-1-3 3-3-2-2 1-6-2-1-2-6 1-3 3-3 7-1 2-2 0-4 1-1 7-2 3-5 3-1 3-3 2 0 4-4 2-7 19-18-1-2-2 0-4-3-3 0-5-7-2 0-1 3-9 0-5-6 1-3-1-1-5 0-1 1-2-1 1 3-1 1-10-1-7 2-2-3-2 0-2 2-5 0-1-1-3 1-2-1-2 2-5 0 0 4-7 9-4-4 1-3-1-3-6-1-2-4-5 0-2 4-4 0-5 3-5-1-4 3-7-3-3 0-5-5-8-1-5 3-3 0-4 3-4 0-7 4-5 0-6-5-5 1-8 7-1 4-3 3-2-2-5-1-2-2-1-6-4-3-2 2-1-3-5-2-3-5-12 1-2-3-2 0-9-6-2 0-1-2-4-1-7 5-7 2-11 9-3-3-7-1-3-3-6 0-2 6-3 3-9 3-4 0-1 2-2 0-14-14 2-5-4-1-1 4-3 1-2-2-1 2-5 0-5 3-2 0-7 8-4 0-3 4-4 1-3-1-2-3-4 0-1-1 1-2-2 2-9 1-7-5-4-1-2 1-5-4-3-6-4 1-8-3-2 2-7-1-8 8-2 1-4-1-6 3-3 0-2 4-4 0 0 4-3 3 0 3-3 3-1 4-5 3-3 4-6-1-3 2-3 0 1 3-2 5-6 0-1-1-8 1-4-1-1-4-3 0-4 4-7 0-7-7-3 0-6 4-3 0-3 4-2 10 4 9 1 12 4 7 6 3-1 4 2-2 3 0 7-4 1 1 4 0 1-1 5 4 6 2-5 9-6 2-2-1-4 0-1 1 3 4-1 1 0 9-3 5 5 6-1 3-3 1-5-2-8 1-7-2-6 2 0 2 2 0 3 5 3 2 0 5-1 1-1-3-3 0-1 1 0 5 3 3 4 0 1 2-3 3 0 3-2 3 0 4 1 1-1 14-2 2-1-1-4 0 1 3-1 1-3-1-1 1 2 4 4 4-1 2-5-1-6 5-3-1 0-2 3-2 0-10 1-2-4 1-1 2-5 2-2 3-7 0-1-1 2-2 2 0 1-4 4 0 1-3 3-3-1-8 1-1 1-13-4-4-1-4-1 1-3-1 0-3-3-2-3-9-5-5-6-1zM773 755l1-1 1 1-1 1zM747 749l4-5 6 4 1 2 3 1 3 4 7 0 1 1-4 5-3-1-1-2-4 2-4-7-8-1zM728 720l5-2 4 1 1 6 4 4-1 7-2 2-2-2 0-8-2-4-4-2-4 3-2-2zM781 708l2 1 0 5 1 1-1 1-4-3zM691 627l1-3 4 0 1 1-2 3zM1173 601l1 2-5 4-1-3zM1165 597l2-2 3 3-3 1zM1175 593l2 3-3 2-1-3zM1210 591l1-1 3 1-1 1zM1201 582l-5 2 0 3-2 2-2-2 0 6-6 5-6-4 3-4 6-5 2 0 2-3 2 0 2-2 2 0zM1207 573l1 1-1 4-3 3-2-2 1-4 2-2zM1216 566l2 8-2 2-6-1-1-1 3-3 0-2zM1237 561l1-1 1 1-1 1zM1246 548l2 2-1 4-2 2 0 2-4 3-2-5 4-4 1-3zM1269 529l2-2 2 1-1 2zM1278 516l1 4-4 4-2-5zM1281 511l1 2-3 4-1-1 0-4zM1287 508l1 2-4 3-1-1zM803 494l3-1 1 3-3 2zM792 463l4 6 2-2 2 1 0-1-4 1-3-3 3-2-1-1zM763 462l-3 2 1 4 1 0-1-4zM941 461l0 2 2 0zM801 461l-1 3 2 1 1-3zM768 454l-1 4 3 0 1-3zM764 453l0 4 1 0 0-4zM788 451l-3 2 2 1zM820 447l-2 1 1 1zM330 483l3 4-4 4 0 6 5 3-1 12 4 7 8 2-1 4-5 3-1 2 1 4 6 7 0 3-4 2-1 4 6 2 0 7 2 2 0 3-2 3 1 10 2 2 4 1 2 3-3 4 3 2-1 3 2 3 0 8 2 3 5 0 5 9 4 4 0 12 4 1 1 1 0 4 2 2 4 1 2 3 3-2 7 7 4 7 4 1 6-6 6 5 7-1 4 3 1 5 8 8 7-5 5 0 5-5 8 1 1 4 2 0 4-4 6 0 2 4 4 1 2-2 15 2 1-6-2-4-2-1 1 2-3 2-3-4 1-3-1-3 3-5-1-9-8-7-10-1-1-1 0-5 1-1 2 1 11-1 0-2 3-3 3-1 9-9 2 0 12 12 3-2 0-2 2-2 2 0 1 3 3 1 2-2 2-6 4-1 4-4 2 6 4-1 3 1 2 10 2 2 1 4 1 0 0-3-3-3 0-5 2-3-8-6 3-2 3 0 7 7-1 10 5 5 3 5 0 2-2 2 0 3 6 2 3 3 5-1 2 2 0 3 3 3 5 0 1-3 6-5 1 2-2 5 1 1 1 9 4 2 4 0 2 2 1 4 3-1 3 3 0 5 4 4-3 3 2 3 0 3-3 3-1 3-4 2-2 6-3 3 7 3 5-5 2 0 1 1 8 1 6 5 5-2 1 1 0 4-2 5 3-1 5-5 0-8 1-1 1-8-7-8 0-6 4-6 0-6-2-2 1-3-1-10 2-6 0-5-3-2-5 0-6 4-4-1-4 2-7-4-5-9-3-3-3 0-3-2-5 0-3-3 0-9-7-8 1-4-2-4-7-7-1-3-3-1 1-3 4-3-1-2-3-1 0-5 3-4-2-5-3-2 0-4-2-1 1 5-3 4-7 0-3-5-6-4-2-4-5 5-1 3-2-1 0-3-3-5 1-1 4 1 2-2 0-9 2-2 2 0 2 2 3 10 3 0 0-7 2-2 0-4-5-3-1-2 1-5-5 1-11 11-4-2-3 3-4 0-9-9-8 1-6-8-6 5 0 6-4 3-9-9-1-2 1-3-1-1-2 0-2 5-2 0-4-4-5 1-1 1 0 4 2 2 0 2-3 4-1 4 4 9-3 4 2 2-1 1-7-1 7 6 0 2 5 8-1 5 3 2 0 3 4 1 2 2 0 3-1 1-10-8-2-5 0-4 1-1-1-3-5-2-3-6-1 0-5 11 1 11 3 5 0 2-1 1-2-3-3 0-3 2-7-2-4-4-2-10 2-1-1-5 3-5 0-2-7-3-5 2-4-3-1-5-3-4 0-2 3-5-6-11-4 0-6-4 3-2 0-2-5-4 1-1 0-4-4-6-3-1-5-6 0-3-4-6 0-5-3-1-4-4 1-5-4 0-1-1 0-15-3 0-5-6 0-3-3-1-2-3-2 1 2 4-4 1 0 7-2 5-4 4-1 4-4 1 0 3 2 2 3 0 2-2 3 1-1 5-5 4-1 3-6-1-2 2-2-2 1-2-4-4-4 1zM614 678l3-1 1 2-2 1zM479 638l1-3 2 2-2 2zM478 631l1 2-2 1-1-1zM583 630l2-1 1 2-1 1zM563 630l3-2 1 1-1 2zM581 622l2 2-1 2-3-2zM474 614l2 2-3 2-1-2zM449 616l1-3 4 1-3 3zM424 602l2 2-7 6-1-2 3-5zM493 592l1-1 2 1 4-1 4 6-2 1-4-3-4 0zM478 591l1-1 3 4-2 1zM456 590l3 5-3 3-2-2zM562 582l7 2-1 7-5 4-2-1 0-3-2-4 0-2zM496 578l2 2-1 3-2-2zM480 577l8 0 2-2 4 1-2 3 0 3 2 3-2 2-1 4-2 0-7-7-3-6zM488 573l1-1 1 1-1 1zM479 572l2-1 3 3-2 1zM491 571l1-1 1 1-1 1zM478 571l1-1 1 1-1 1zM472 568l2-1 2 3-1 1zM475 564l1-1 1 2-1 1zM472 559l2 2-2 3-1-1zM470 558l1-1 1 1-1 1zM532 552l2 2-2 2-2-2zM533 547l1-1 3 4-1 1zM536 539l1 4-2 2-1-4z" fill="#e5f01a"/><path d="M760 878l-1 3 2 2 0 4 2 4 2 0-4-5zM779 874l-1 0 0 2zM786 868l0 4 2 0 0-3zM761 861l-1 0 1 8-1 1-2-3-1 1 3 7 3-7 2-2zM767 849l-6 10 7-9zM763 834l0 3 3 4 0 2zM758 804l-1 9 2 4-1-4 1-8zM758 769l1 8-2 2-2-1-1 1 2 5-2 6 1 1 0 4 3 1-1 3 2 3 2-4-2-1 0-4-3-3 1-8 3-3 0-3-2-3zM763 758l-2 2 1 5 1-3 4 0zM663 652l-1 1 2 1zM513 645l-1 0 1 1-4 9 1 2 1 0 0-6 2-2zM492 621l-1 1 2 2 0 4 2 0 2 2 0 6 8 1 6-7-3-6-4-4-5 0-2 4-2 0zM577 583l0 2 2 1 1-1zM439 577l2 4 1-1zM589 571l-1 5 4 9 0 4 7 6 0 5-2 4 5 1 2 2 7 0 1 1-1 11 8 9 6 2 2 3 2 0 2-2 5 0-1-5-6-7 0-8-1-1 1-5-1-3 1-3 9-10-2-2-2 2-3-4-3 0-4 3-3-1-8-6-3 0-4-2-4-5-12 4-1-1 0-4 2-2zM646 564l-1 7 3 1 3 3 7-5-1-2-3 1-5-5zM595 549l-7 1 2 8 0 6 2 0 1 3 1-1-4-9 6-6zM632 495l-5 4-4 0-1-2-4 2 1 4-6 5-3 1-3-2-3 0 2 2-6 4-1 4 2-2 3 0 3 2 1 4 2 1-1 1 1 9-2 1 1 5 2-3 2 0-2-4 1-3 3 3 3 1 4 4 0 2 4 0 1-1 8 0 1 1 1-3 2-1-2-9-5-4 0-2 4-5 0-3-2-4 0-5 1-1zM609 521l1-1 2 1-1 1zM673 594l1 4-1 1-1 14 3 13 0 8-2 2 0 6 2 5 8 7 1 6-1 1-5 0-3-1-1-2-3 0-10 8-3-2 2-3-5 0-5 3-4-2 1 5-4 4-3 6 0 7 5 6 0 2 3 4-1 3 1 2 8 1 2 2 4 0 7 6 2 0 3-4 1 1 4-1 4 2 3 0 2 2-1 1 1 1 2-1 2 2 0 2-2 2-2 11 5 3 1 8-8 8 0 2 2 2-1 3-3 3 3 3 0 8 1 0 1-4 5-5 4-2 8 2 3-1 4-5 5 1 4-3 2 2 0 2 3 2 5 1 1-3-2-4 5-6 3 2 0 4 3 2 2 4 6 1 4-2 5 4-3-7-7 0-4-5 3-1 2-3 2 0 13 11 4 0 6-2 1 2-3 1-3 5 3 1 6-3 3 1 10-1 6 2 1-1-1-3 5-5 1-4-1-3 3-5 0-2 2-2 3 0 2-3 4 1 0 2 3 2 2 5 8-2 4-4 3 0 2-3 3 0 5 3 2 0 3-4 8 0 5-7 0-5 3-4-1-5 2-2 4 1 1-7 8-10 5-2 3 2 1 3 3-2 10 1 2-2 8 2 3 3 6-2 2 3 3-1 2 2 1 4 2 0 4-4 4 0 5 4 4-5 5 0 4-2 3 0 3 4 5-1 6 5 11 0 3-2 8 0 2-2 4 0 1 1 8 0 1-1 3 1 3-1 8 8 5 0 2 2 1 4 7 1 4 4 0 2 3 5 8 7 1 15 3 3 2 11-2 3-3 1 0 3 2 2-1 5 2 1 1 8 2 3-2 3 1 9-2 2 1 5-2 3 0 3 2 7 2 0 1 2-1 1-1 11-4 5 1 9-3 4 0 2 5 5 5-3 2 5-3 3-3-2-6 2 0 1 5 0 4 4 1 4 2 1 0 2-2 2-6-2 0 2 2 2-2 3 1 6 104 0 0-3-2-2 0-4-1-1 2-4 4-4-4-11 3-10 3-3-3-4 0-2 2-2-2-3 1-3-1-6 3-4-2-6 1-5-2-2 0-2 3-3-1-1 1-4-3-4 1-6-5-4-1-8 6-4 0-2-3-3 2-2 2 0 2-3-2-8 2-4 3-2-1-9 3-4 4-2 3 1 3-2 7 1 7-6 4-1 2-2 5 0 3-5 10-1 3-2 1 1 3-1 1 3-3 4 4 7-4 4 0 6-2 4 0 5 5 4 0 8 2 2 1 6 4 6 3 1 3 3-1 4 1 5 2 3 1 6 4 5 3 7-2 3 1 3 0 13 2 6 7 6 3 5-2 6 1 3 5 5 2 5 0 7-2 2 2 12 3 2 12 0 0-4 1-1-1-3 2-3 0-6-2-5 3-3-1-4 1-1 0-5 2-2 0-2-3-3 3-4 0-4-2-3 0-3 3-6-3-7 0-3 3-4 0-4-4-5 0-2 1-1 0-6 3-3 0-12 2-3 0-3-2-2-2 0-1-3 3-3 1-19 3-5 0-2 2-2-2-5 5-12 0-2-6-6-2-5 1-3-1-3 4-4 0-5-2-1-1-6 4-3 0-7-2-4 1-9-2-2 0-3-3-5 0-3 4-5 0-3-5-4 4-3 3 0 2 2 3-1 4-4 2-6 4-1 9-7 3-1 4-7 6-5 0-2 3-5 3 2 8 0 1-1-1-5 2-5-3-8 0-10-4-3 1-6-3-6 0-9 4-2 3 0 5-6 2 1 2-1 0-7 3-4 0-3-3-2 0-4-3-4-2-6-1-11-3 0-2 3-3 0-1 1 4 5 1 4 0 7-4 4 3 4 0 2-2 3 0 5-5 5-2 0-2-2 0-4-4-3-1-9-5-4 3-21-1-1-12 0-4-2-5 2-4-1-1 1-5 0-15 15-4 1-2 7-4 3-1 3-3 3-2 0-1-1 1-2 4-3-1-6 5-3 0-4 3-2 2 1 4-3 0-4 2-2-1-2-4 3-3 5-5 2 0 3-3 2-1 4-2 2-8 1-9 8-5 1-1 6-3 4 1 4-3 2 1 3 3-2 3 2-2 8-2 2-6 3-2-1 3-3-1-3 2-4-2 0-11 13-7 4-2 0 1 4-3 4-8-1-4 6-2-2 1-6 2-2 2 1 4-1 2-5 6-2-1-1 1-11-3 2-3-2 4-3-1-8 5-4 6-1 1-1 0-4 2-2 5-1 4-5 10-6 2-2 3-8 18-17-1-2-8-3-5-6-1 0-1 3-4 0-1-1-4 2-4-3-3-9-2 0-5 6-4-2-6 0-8 2-2-3-3 2-10 0-1-1-3 2-3 0-3 9-6 5-5-7 2-3-2-2-4 0-2-2 0-2-5 0-2 4-5 0-4 3-5-1-2 2-6 0-3-2-3 0-5-5-9-1-2 2-6 2 2 3-1 2-5-3-3 0-8 5-7-3-3-3-2 0-7 4-3 3-2 6-3 2-2-2-5 0-3-4 0-5-7-1-1-4-4-1-3-5-13 1-1-3-6-2-3-3-4-1-4-3-4 1-7 5-3 0-4 4-2 0-5 6-2 0-4-4-4 0-4-3-5-1-2 6-4 4-6 1-9 4-11-11-7-5-4 2-7-1-8 3-5 7-4 0-4 5-7 0-3-3-8-1-1-1-3 2-3 0-9-6-6 0-5-8-3 0 1 2-2 2-2 0-3-3-1-4-2 0-2 2-4 0-1-1-4 1-9 11-3 0-2-2-6 1-3 4-3 0-1 4 2 2-4 1 0 2 3 2-1 4-2 2 1 3-4 2-2-3-2 0-6 5-7-1-4 2 0 7-1 1-4 0-1 1-5-3-4 2-4-2-3 0-1-3-2 0-3 4-5 0-4-1-7-7-2 0-5 4-3 0-3 3-3 10 4 8 0 7 2 8 4 6 4 1 2 3 4 0 4-3 4 0 1 1 1-1 4 0 3 3 6 0 2 2-3 3 0 2-4 6-2 1-1-1-3 2-5-2 2 5-1 1 0 10-3 4 5 6-2 3-2 1-3-1-12 0-1-1-9 0-2 1 1 2 3 1 1 3 4 4 0 4-3 2-1-3-2 0-1 4 4 4 3-1 1 4-3 3 0 3-2 3 0 2 2 2 0 5-1 1 1 2-2 6-2 2-4-1 0 4-1 1-4-1 6 8-1 3-5-2-6 5-3-1 0-2 3-4 0-10-5 4-4 1-2 3-8 0-1-1 5-3 1-4 4 0 0-2 3-3 0-6-1-1 2-4-1-2 1-10-3-2-1-4-3 0-2-2 1-1-3-2-3-9-6-6-4 0zM1068 867l2 1 0 4-1 1-2-2zM745 738l1 1-3 3-1-2zM1195 725l2-1 1 2-1 1zM1199 721l1-1 1 1-1 1zM1185 719l2-1 2 2-2 2zM1204 717l1 2-2 2-2 0-1-1zM1193 718l1-1 4 0 2 2-5 2zM726 720l3 0 4-3 2 0 3 3 0 4 4 4 0 8-2 3-3-3 0-6-2-5-2-2-3 0-2 2-2 0-2-2zM791 713l1 1 0 4-4 2-1-3zM781 707l2 0 2 2-1 1 0 4 1 1-1 2-2 0-3-3 0-5zM867 706l2 2-1 2-3-2zM898 681l1 2-2 1-1-1zM893 680l1-1 2 3-2 1zM690 627l0-2 2-2 5 0 1 1 0 2-4 3-2 0zM1161 608l1-1 1 1-1 1zM1180 600l-1 3-5 1-4 4-2 0-2-2 5-5 6 0 2-2zM1165 596l3-1 3 3-3 2-3-2zM1176 593l1 4-4 1-1-1 1-2zM1209 590l2-1 5 2-4 2zM1224 583l1-1 1 2-1 1zM1202 582l-5 2-2 5-3-1 1 4-7 6-3-2-3 0-2-2 16-13 6-1zM1157 573l2-1 1 2-2 1zM759 571l2-1 3 3-3 2zM1211 556l1-1 1 1-1 1zM741 552l1-1 1 1-1 1zM1251 540l2 1-1 4-3-1zM1361 527l2 2-3 2-1-2zM1315 512l1-1 2 1-1 1zM1304 510l3-1 1 2-2 1zM1303 507l1-1 1 1-1 1zM1300 505l1-1 2 2-2 1zM1173 496l4-1 3 3 0 2-3 3-5-6zM1171 490l1-1 2 1-1 1zM1000 487l1-1 1 1-1 1zM1117 485l2-1 1 2-2 1zM993 481l3 2-1 1 1 2-1 2-4-5zM860 480l1 2-2 1-1-1zM816 480l1-1 1 2-1 1zM332 484l1 4-3 2-1 6 2 3 2-1 2 2-2 4 0 7 5 8 2 1 3-1 2 2 0 3-7 6 1 4 7 9-2 2-2 0-2 4 6 3 0 7 3 3-3 6 2 6-1 3 8 5 0 2-3 3 3 2 1 14 2 3 5 0 2 2 0 2 2 1 1 4 4 4 0 5 1 1-1 6 4 1 2 6 5 2 1 2 4-1 4 3 8 11 2 1 2-1 4-5 2 0 6 5 6-1 4 3 1 5 7 7 3 0 5-4 4 0 6-5 8 1 2 4 3-3 6-2 7 6 2-2 3 1 11 0 1 1 2-2-1-6-2-1-2 3-5-5 0-4 1-1-1-9 1-1 2 2 0 2 1 0-2-10-3-1-4-5-8 0-3-2 0-5 1-1 4 1 4-2 4 1 4-5 3-1 9-9 4 1 10 11 3-2 0-2 2-2 2 0 1 3 2 1 3-2 1-5 2-3 8-3 1 1-1 3 2 2 5-1 2 2 0 6 4 6 0 3 1 0 0-2-4-6 0-2 2-2 0-3-8-5 2-2 4-1 8 7 0 12 4 3 1 3 2 2 3-1 5 0 1 1-4 1-3 3-2-1-2 2 0 3 7 2 2 3 5-1 5 8 4 0 2-2 0-2 6-4 1 3-2 3 1 1 1 10 4 2 4 0 4 6 3-1 2 3 0 5 4 4 2 0 2 2-1 2-5-2 1 7-3 5-5 3-4 10 7 1 4-4 2 0 1 1 9 1 5 5 5-2 2 2-3 7 1 1 6-5 1-2-1-4 2-4-1-4 2-3-8-11 5-11 0-4-2-3 1-3-1-10 1-1 1-9-3-3-5 0-6 4-5 0-1 1-3 0-2-2-2 0-3-3-6-10-7-2-5 0-5-5 2-7-7-9 0-6-10-11-2 0-4 6-2 1-4-1-1-10 2-2 8 0 1 1 1-2 3-1 0-1-3 0-2-2 1-1 0-4 3-4-1-4-4-3 0-3-1 6-7 2-5-4-1-3-4-1-2-2-3 0-5 4-2-2 1-2-6-8 1-3 4 6 3 0 2-2 0-9 2-2 2 0 4 6 1 6 3-1 0-4-2 0-1-2 4-1 1-4-6-5 0-6-5 2-8 7-1 7-2 2-2-2 1-3-1-2-5 3-3 0-9-9-8 1-4-4-2-4-6 5 0 6-3 2-3 0-8-9 0-5-2 1 0 2-2 2-3 0-3-4-5 1-1 4 2 2 0 3-3 3 0 6 3 8-3 3 3 2-1 1-7-1 0 1 6 5 0 2 5 8-1 5 3 2 1 3 5 3 0 3 3 4 0 2-1 1-3-3 0-2-5-5-4-2-3-6 0-8-2-2-2 0-3-3-1-4-1 0-5 11 2 8-1 3 4 9 2 2 0 2-4 2-1-1 1-5-2-4-8 2-5-2-5-5 0-4-2-4 3-2-1-6 2-2 1-4-4-2-8 1-4-3 0-2-4-7 0-2 3-5-4-5-1-5-1-1-4 1-6-5 3-3-5-4 1-6-12-13 0-3-4-6 0-4-7-6 1-4-5-2 0-14-3-1-3-3-2-5-5-5-2 2 3 3-2 2-3-1 0 8-2 2 0 2-3 3-1 4-3 3-2-1 0 3 2 2 3 0 2-2 3 1 0 4-6 5 0 4-2 1-1-2-4 0-3 2-2-2 1-3-2-2zM484 639l3-1 1 2-2 1zM571 634l1-1 1 1-1 1zM471 634l1-1 4 2-2-2 5-2 3 2 0 3 2 3-1 1-2-1-5 1zM582 630l3-2 3 5-2 1zM579 623l3-1 4 4-1 1-4-1zM472 617l1-3 3 2-2 2zM447 613l1-1 3 1 1-1 2 3-2 2-2 0zM426 607l1-1 1 1-1 1zM425 606l1-1 1 1-1 1zM425 602l1 3-5 5-3 0-1-1 4-6zM493 592l1-1 2 1 4-1 3 3 1 4-1 1-6-4-3 0zM496 578l2 1-1 4-2-2zM480 576l2 1 5 0 3-2 4 1-2 3 0 3 2 2-2 3 0 2 2 2-1 1-3 0-9-9-2-4zM486 574l1-1 1 1-1 1zM476 573l1-1 1 1-1 1zM475 572l1-1 1 1-1 1zM493 571l-3 3-3-1 4-3zM478 571l2-1 6 4-4 1zM477 570l1-1 1 1-1 1zM471 568l3-1 2 3-1 1zM470 564l1-1 1 1-1 1zM476 562l1 1-1 4-1-1zM472 559l2 2-2 3-1-1zM469 557l1-1 2 3-1 1zM532 552l2 2-2 2-2-2zM470 553l1-1 1 1-1 1z" fill="#b5d144"/><path d="M761 863l1 6-2 2 0 2 4-8zM758 798l0 2 2-1zM755 787l1 7 2 0-2-2zM760 778l-5 1 1 6 0-3zM1070 774l-1 2 1 0zM1002 695l-1 2 1 0zM950 695l0 2 2 0 0-2zM510 654l0 2 1 0zM492 622l2 2-1 4 4 1 0 6 1 1 7 1 2-4 4-3-6-9-6-1-3 5zM548 609l-1 3 1 3 2-5zM539 605l1 2 2-1zM600 582l-2 4 0 3 4 5 0 6 4 1 5 4 4 1 1 1-1 4 2 3 4-1 7 4 1-3-1-2 0-12-1-1-4 0-1 1-3-5-6-3-5-7-3 0-3-3zM440 578l0 2 1 0zM475 562l-3 3 1 2 2 0-1-1zM611 533l-2 1 0 2zM551 528l-4 1-5 5-3 1-3 12 3 4 4-3 0-9 2-2 5 4 1 6 3 3 1-3-4-4 5-2 0-4-2 0-4-5zM609 511l0 1 5 3-1 1 2 2 0 3-3 2 0 3 5 1 6 6 4-1 5 2 2-1 0-1-2 1-2-2 4-5-6-3 2-2-1-3-2 0-3-4-5 0-6-3zM898 492l0 2 2-1zM1216 491l0 2 1 0zM641 676l0 9 4 4 1 4 3 3-2 3 4 3 3-1 4 3 3-1 7 6 3 0 2-3 7 0 4 2 3 0 1 3 4 1-4 16 3 1 3 3 0 7-8 9 2 2 0 2-3 4 0 2 3 3-1 6 8-9 2-1 4 0 2 2 6-1 3-5 6 0 5-2 3 5 6 1-1-7 3-2 1-3 2 0 3 3 0 3 5 6 4 1 3-2 3 0 2 2 0-2-3-3-6 0-4-5 1-4 5-2 14 12 8 0 2-1 2-3-1-1 4-6 8 1 2 3-6 5-2-1-8 7-1 3 5-2 8 1 4-2 9 2 0-4 5-5 0-7 2-4-1-3-3-2 0-3 3-2 0-4 2-2 3 1 0 4 8 2 2 5 10-7 2 0 3 3 3-2 2 1 10 0 3-2 2-4 6 1 2-2 0-2-4 0-1-1 1-7 5-3 1-7 3-3 1-4 6-5 1-5 7-4 1-4 6-4 5 1 1 2 4 1 5 5 5 0 1 1-1 4 2 0 2 2 4-3 12 3 4-2 0-2 2-2 8 0 7 5 3-2 1 1 6 0-1-3 4-2 8 1 2-2 3 4 4-4 3 0 3 2 8-4 3 3 0 4 1-1 2 2 18 4 7 10 4 0 4-2 1 1 5-1 5 4 3 0 5-2 3-3 6 0 3-2 2 2-1 5 2 2 0 5 1 1-1 7 4 4-1 4 2 5-1 7 3 5-2 3 1 14 2 5 4 5 0 6-4 5 3 4-2 5 2 4 0 6-2 3 0 4-2 4 0 14 2 2-1 3 2 2 0 2-2 2 0 3-2 3 0 2 2 2 0 3-5 5 2 7 0 9 2 3-2 4-1 12 95 0 0-4-2-1 0-7 5-6 0-3-3-7 0-5 2-3 0-3 3-2-3-6 2-2-2-12 3-4-1-12-1-1 0-3 2-2 0-6-2-3 0-8-5-4-1-6 6-5 0-2-3-4 5-2 1-2 0-4-2-2 1-7-3-3 0-7 1-1-1-6 2-3-1-9 1-1 3 1 6-6 5 0 2-2 5 0 1-1 3 1 7 0 1-1 5 1-1-3 1-2 3 2 5-1 2 3 4-1 7 6 4-1 2 1 0 3-3 3 0 2 3 4 0 3-4 4 1 4-3 8 5 5 1 3-1 5 2 2 1 6 3 5 8 6-1 2 1 9 2 3 0 3 4 5 3 7-2 5 2 8-1 1 0 5 2 6 5 4 6 8-2 3 0 6 5 5 2 4 0 4 1 1 0 2-2 2 1 12 4 3 11 0-1-2 1-1 0-6 2-3-2-11 3-3-1-2 1-3-1-4 3-2 0-2-3-2 0-2 3-3 0-3-2-3 0-6 2-3-2-7 0-5 3-4-1-4-4-5 2-3 0-6 3-3 0-12 2-3-1-3-5-3 4-5 1-19 3-7 2-2-2-5 2-2 0-4 2-4 0-3-5-5-3-7 1-1 0-5 4-4 0-3-3-3-1-5 4-3 1-6-2-4 1-9-5-10 0-5 4-5 0-2-4-2-1-2 3-3 5 0 1 1 4-1 3-4 0-4 7-3 8-7 2 0 2-4 9-9 0-2 3-5 3 2 5 0 1 1 2-1-1-5 2-3 0-3-2-4 0-12-5-6 1-1 0-4-3-6 0-6 2-7-1-1-1 1-4 0-2-3 0-3-7-5 2-2 0-5-1-1-3 0-2 2-2-3-3 0-7 3-11 2-2-2-4 0-6-7-2 0-5 3-3-1-3 4-3 0-5 6-5 0-3 2-4 0-1-1 4-4 5-1 0-1-11 2-5 4 0 2-4 5 0 3 1 0 3-6 3-2 1 1-1 8-2 2-4 1 1 4-2 4 0 3-5 5-4 0-1 1-4-2-4 2-9 8-5 9-7-2-3 5-2-1-5 1-1 4-3 2-2 5-5 3-4-1-3 1 1 1 0 4-2 2-4 1-4 5-4 1-5-1-6 5-2-2 1-2 3-1 2-4 6-6 2 0-4-2 0-4 1-1 3 0 2 2 2 0 3-4 6-1 12-10 8-1 3-8 6 0 5-7 3 0-8-5-7 2-5-4-1 3-5 0-3 2-2-2 1-5 2-2 2 0 8-8 4-2 3 0 5-4 9-4-1-4 4-8-1-3 1-8 2-2-7-7-6 0-2 2-5-2-4 2-2-1-6 7-4 0-10-3-3 1-2-2-4 0-3 3-5 1-1-1 0-5-3-3-13-1-4-4-6-3-2 1-2 4-3 0-3-2-10 0-9 3-4-2-4 0-2 2-8-1-3 3-6 0-2-4-3 0-5 3-3 0-5-2-5-6-8 2-11-7-5 4-4-1-9 4-4 4-4 1 0 2-2 2-8-1-5 2-2-2-4 4-7 0-1 1-7-3 0-4-1 0 0 4-1 1-8 0-5-5-3 1-6-4-5-7-12 0-1-2-5 0-7 9-10 0-5-3-3 1-7-1-6 2-10 0-3 2-4-3-1-3-2 0-2 2 0 2-8 6-5-4-1-4-5-5-5-3-1-2-7 0-4 2 0 5-1 1-4-1-8 5-3 0-1 4-3 4-3 1-3 3-2-2 4-3-1-1-5 6-5 0-2-2-2 0-2 2-3 0-2-2-3 0-1 1 0 5-4 5-2-1-3 1-1-1-13-1-4 1-4 4-2 0-4-4-2 0 3 3 0 3-3 2 0 2 5 7-1 12 9 1 3 2 1 3 2 0 5 3 0 2-4 6 0 6 2 4-4 4-6-1-2 2 3 3-3 3 2 4 0 3-5 6-2 1-5 0-1-1-9 1-5-2-7 1 9 10 0 5-4 2-3-3 0 3 3 3 3-1 2 2 0 2-3 4 0 3-2 3 2 5-1 10-3 5-5 0 1 2-1 3-3-1 5 7 0 3-2 2-2-2-3 0-5 4-3 0-2-2 3-5 0-10-3 3-4 1-3 4-9 0-2-2-1-3 2-2 3 0 0-5 1-1 5 0 1-1 0-4-4-3-3 0-1 1 1 2-2 2-2-1 0-3 2-2 0-2-3-1-2-3 5-11 2-1 1-4-3-2 1-4-3-3 0-4-4-2-2 3-4-1 4 4-3 7 2 5-3 5 0 5 1 1-1 8 4 6 0 2 5 4-2 2 1 8-2 2-2-1-2 1-7-4-10 8-2 0-3-5-6 3-4-1 0 4-4 4zM1155 723l1 1-1 2 1 5-3 5-4 0-3 2-6-6 0-3 5-2 2-3zM723 716l4 1 5-2 4 0 1 1 2 8 4 4-1 7 5 4-2 5-8-6 0-6-5-8-3 3-3-1-3-3 1-2-3-3zM783 698l2 1 2 4 5 3 3 6-2 7-6 6-4 0-2-6-4-4 1-10 1-1 4 0-1-3zM778 699l2-1 1 2-2 1zM1134 598l1 1-5 4-1-3zM1152 594l2-1 1 2-1 1zM1217 589l1-1 1 1-1 1zM1208 588l1-1 3 2 5 0 1 1-3 3-4 0-3-3zM1157 588l1-1 1 2-1 1zM1220 587l1-1 1 1-1 1zM1212 583l1-1 1 1-1 1zM1165 582l2-2 3 1-3 2zM1176 578l-3 3-3-1 4-3zM1225 573l2 2 0 2-2 2 2 5-5 3-1-1 2-2-1-2 1-8zM1161 569l1 1 0 4-5 3-2 0-6 6 0 3-2 2-1-4 3-4 0-2 3-3 3-1 2-3 2 0zM1189 568l-8 8-3 2-2-1 9-9 2-1zM771 548l1-1 1 1-1 1zM789 540l0 4-3 5-2 0-1-2-4-1-2 1-1-1 3-3 2 0 6-4zM779 537l1-1 1 2-1 1zM783 534l0-2 2-1 1 2-2 2zM835 528l1-1 3 3-2 1zM1130 525l3 2-1 4-4-1 0-3zM829 526l1-1 1 1-1 1zM763 528l4-3 3 4-2 1zM762 526l1-1 1 1-1 1zM767 524l1-1 1 2-1 1zM1048 522l1-1 3 1 1 3-2 2-2 0-1-1zM767 521l1 2-4 3-1-2zM1197 519l3 4 0 2-4 6-1-1 1 3-2 2-2 0-4-5 8-6 0-4zM1133 519l1-1 4 5-2 1zM1216 518l1-1 1 1-1 1zM876 515l3 1 1 4-2 2-3-3zM1046 515l1-1 1 1-1 1zM1089 514l1-1 1 1-1 1zM1197 516l3-5 4 0 1 1 3-1 2 2-3 3-7 0-1 1zM1211 510l1-1 2 1-1 1zM1075 512l3-3 4 4-3 1zM1131 508l1-1 2 1-1 1zM851 506l1-1 2 2-2 1zM1037 482l-4 1 0 2 2 0 0-2zM1019 477l1 2-1 1 3 1 7-2-4-4zM934 472l0 2 1 0 0-2zM1011 471l-3 1 1 1zM363 448l2 5-1 1-3-1-1 1 0 7-2 5-3 2-1 5-2 2-3 0 2 4 2 0 4-3 3 4-3 5-3 2-1 5-4 5-4 0-2-2-2 1-7-7-3 1-1 3 4 1-3 4 2-1 3 2-3 11 5 9 6 0 2 3-7 7 0 5 7 8-1 3-4 1 0 4 3 0 3 3 0 6 2 2-2 5 1 12 4 1 3 3 0 3-2 2 2 1 1 14 2 3 4 0 6 7 0 3 4 3 0 5 1 1-1 6 3 1 3 3 0 3 2 2 2 0 3 3 3-1 4 3 8 11 3 0 5-5 4 1 3 3 8 0 2 1 2 6 7 8 4-1 3-3 7-1 3-4 10 1 1 3 4-3 6-1 4 5 3 0 2-2 3 2 3-1 4 1 3-1 2 1 1-3-2-4-1 2-3 0-5-4-2-4 2-5-1-5-5-2-5 3-2-2 0-2-4-2 0-3 2-2 7-3 4 2 7 8 1-2-9-9-3 1-6-1-1-1 0-7 1-1 1 1 5 0 1-1 5 1 1-3 5-3 9-9 4 0 9 8 1 3 2 0 4-6 4 4 3 0 2-4 0-3 8-6 5 2 3-2 5 0 8 7 0 8-1 2 6 6 1 3 2 0 1-2 1 1 4 0 2 2-2 2-8 2-2 3 2 2 4 0 4 4 5-1 2 6 3 2 3 0 2-2 0-2 4-4 2 0 1 1-1 3 1 12 5 3 3-1 2 2 1 4 4 0 2 2 1 7 7 4-1 4-4-3-1 1 2 4-1 3-8 8-2 6-2 2 3 0 3 2 5-4 10 1 8 6 3-2 3 2-2 7 6-4 0-7 2-4-2-3 2-2 0-3-5-4-2-4 1-6 3-4 1-4-2-4 1-7-2-3 3-13-1-2-3-2-3 0-8 5-2-1-6 1-5-2-7-11-4-2-2 0-10 6-4 0-3-2-1-2 2-1 0-2-2 0-2-2 0-2 3-4 5-2 0-4-6-8 1-5-7-8-3 0-2-2-6 6-3 0-2-2 1-4-2-3 0-3 4-3 4 0 1-1-1-2 3-3 0-2-4 0-2-5-4 0-10-10-3 0-4 11-4-4 1-2 2 0 0-2-3-2 0-4-5-6 0-5-2 0-2 2-2 6-3-1-4-4 1-2-1-1-3 1-9-1-1-1 1-3-7-12-4 4 1 1-1 6-7 8-3-2-4 1 1 5-2 2-4-6 1-4-2-3-1-6-2-2-4-1-3 6 2 4-2 3 1 9-2 2 5 1 2 2 1-1 3 3 0 6 4 5 7 1 4-3 2 1-5 5-8 0-2-2 3 4 5 0 4-3 3 1 0 3-2 3 4 5-1 1-1-1-2 3 3 2 4-1 2 1 3 4 0 6 1 1-2 2-1-1 0-4-2-2-4-2-2 1-2-2 1-1-4-1-3-5-6-5-2-7-8-7 0-9-1-1-8 0 5 4 0 2 3 4 2 5-1 4 3 2 1 4 2 0 4 3 0 4 3 4-3 2-2-2-1-4-9-7-3-8 1-5-5-2-2-2-1-4-2 1 1 2-3 2-2 7 2 5-1 3 7 14-5 2-1-1 0-7-2-2-4 2-5 0-8-7-2-9 2-1-1-5 3-4 0-3-4-2-8 1-4-4 0-3-3-4 0-4 2-5-2-2-2-6-2-2-3 1-6-4 0-2 3-2-5-4 0-7-11-11 0-3-4-6 0-5-7-5 0-4 1-1-4 0-2-3 1-2 0-10-8-7-1-4zM609 642l1-1 1 2-1 1zM570 633l2-1 3 3-3 1zM471 616l2-2 3 1-1 3-3 0zM437 615l5-4 10 0 3 3-4 4-5-4-3 0-3 2zM430 610l3-1 3 5-1 1-4 0-2-2zM417 610l0-2 5-7 3 0 4 6-1 2-2 0-2-2-4 4zM496 600l2-1 1 2-2 1zM496 577l3 3 0 2-2 2-3-4zM481 556l1-1 3 4-2 1-2-2zM472 556l1-1 1 1-1 1zM530 553l3-1 1 3-3 1zM469 552l2-1 2 4-1 1zM406 532l1-1 2 1-1 1zM347 499l4 2-3 4-3-3z" fill="#7eb274"/><path d="M499 621l0 2-2 2-3 0-1 2 5 3-1 4 2 2 6 0 5-7-2-2 0-2-4-4zM687 610l-4 4 1 7-4 5 2 3-2 4 1 4-1 4 2 2 0 3 7 3-3 4 3-1 0-5-2 0-3-3 1-1 0-4-2-2-1-7 1-1 0-4 2-2 0-4 2-2 2 0-4-4zM609 599l1 4 7 4 0 3 3 1 3-1 0-2-3-1-7-8zM1164 575l2 4 1-2zM773 553l-1 0-3 5 1 2 1 0 2-4zM467 555l3 0-2-2zM552 546l0 2 2 1 0-3zM1168 530l-2 0-1 5-3 3-1-2 1 3 6-5zM470 532l-2 5 2 5-3 5 2 3 2 0 2 2 2 5 3 3 0 6 4 5 5 1 4-3 2 0 2 2-4 3 2 0 2 2-2 3 0 3 4 3-1 2-3 0 0 2 3 2 4-1 5 6 0 7-1 2 10 11 2-1 2-5 3 0 2 4 2 0 2-3 1-5 7-5 7 1 1-4 2 2 5 1 7 6 0 11 8 7 6 0 2 2-1 4 4 3-2 3-2 0-3-3 1-2-1-2-3 3-3 0-1 3 6 1 3 3 4-1 3 3 0 3 2 2 4 0 1-3 4-4 3-1 2 2 0 2-2 2 2 12 7 1 3 3 1 3 1-1 3 1 2 3 0 5 8 6-2 3-2 0-2-2 1 6-4 6-5 4-3 7 6 1 4-4 2 0 5 2 4 0 6 5 5-2 2 2 0 4-2 3 2 0 4-4 0-8 1-1-1-5 2-2-7-9 0-6 4-6 0-5-2-3 1-3-1-9 1-1 1-10-2-2-5 0-6 4-8 1-3-2-3 0 0 2-3 1-1-1 1-6-6-9-7 1-4 4-4 0-1 1-3-2-3 0-1-2 3-3-3-1-2-2 0-2 3-5 2 0 4-3-1-3-5-6 0-6-5-6-5-1-1-2-6 6-3 0-2-2 0-6-2-3 0-2 3-3 5-1-1-3 4-3-3 0-3-3 0-2-4 0-9-9-1 0-1 3-2 0-1 6-3 2-1-3-3-3 3-4-3-2 1-3-6-8 0-2-3 3 1 3 3-1 2 3-3 3-10-6-4-4 1-1-6 0-1 1-4-2-2-2 0-4-5-9-2 1 1 4-1 3-5 5-1 3-2 2-5-2-1 1 1 4-2 2 0 2 3 2 0 3-5 2-2-3-1-9-3-3 1-5-2-7zM495 577l2 0 2 2 0 5-1 1-4-4zM550 529l-2 0-5 5-4 2-1 8-2 2 3 4 3-1 0-9 2-3 3 0 4 5 4-1 1-2-6-5zM800 525l1 2 3-1 0-1-1 1zM858 523l0 2 1 0 0-2zM620 523l-2 3 5 4 0-6zM1034 521l-1 0 0 2zM641 676l0 9 5 5 0 2 3 4-1 4 7 1 3 2 4 0 8 6 3-4 15 3 5 5 0 2-2 2-2 11 5 3 1 7-8 9 0 2 2 2-4 6 3 3 0 5 6-7 4-2 2 0 4 3 5-2 2-4 2-1 5 1 4-3 3 2 0 2 2 2 4 1 1-2-2-4 5-6 3 0 2 2 0 4 6 6 4 0 3-2 3 1-2-2-5 0-6-6 1-3-7-6-1-7-3-3-3 0-7-5 0-2-2-2 0-4 1-1 9 0 1-1 4 0 2 2 2 8 4 4-1 7 5 4 0 2 3 0 5 6 8 6 9 0 2-6 4-5 9 1 2 5-3 1-3 4-2-1-4 2-4 4 0 2 4-2 4 1 11-1 4 2 1-4 4-4 1-3-1-4 2-6-4-3 0-5 3-3 0-3 4-3 2 1 2 5 8 3 6 0 6-5 3 3 11 1 1-1 4 0 3-6 3 0 2 2 1-2-2 0-2-3 2-7 5-3 0-5 4-5 0-3 7-6 1-5 8-5 0-4 3-4 8 1 3 3 4 1 3 4 4-1 4 3 2 4 9-1 5 3 4-2 3-4 4 0 1-1 5 1 3 3 3 1 5-5 12 0 3 1 2-2 5 1 4-2 3 2 4 0 4-3 3 0 7 8 3 0 3 2 9 1-1-2 5-2 1 2-2 3 2 5 4 5 6-2 8 0 3 3 3 1 5-2 3-3 5 0 2-2 4 0 2 2-1 5 3 4 0 6 1 1-1 4 3 4 1 18 3 4-2 3 3 3-3 5 0 5 1 4 5 5 1 4-1 6-3 3 2 3-1 6 3 9-3 3-1 7-2 3 0 5 1 1-1 4 3 5-1 3 1 1 1 9-4 3 2 5-5 5 0 5 2 5 0 8 1 1-1 9 4 5-2 3-2 0 92 0 0-3-3-2 1-3-1-4 6-7-2-3 0-4-2-2 0-2 1-1 1-8 3-2 0-2-2-2 0-3 2-2-2-2 1-4-1-7 3-3 0-2-2-4 1-4-2-5 3-3-1-1 0-4-2-3 1-7-5-4-1-8 6-5-4-5 6-4 0-4-2-2 1-7-3-2 0-16 2-3-1-9 1-1 4 0 3-3-1-2 1-3 5-4 4 3-1 2 4 0 2-1-1-1 1-1 4 0 8 3 3-2 1-3 4 0 3 2-1-2-3-1 0-2 2-2 8 8 3-1 2 3 2 0 4 4 4-1 2 3 0 2-3 3 0 2 3 4 0 3-4 4 0 5-2 8 5 5 0 5-1 1 3 4 1 6 10 10-1 3 1 7 2 3 1 5 3 3 3 7-1 7 1 1 0 13 1 4 8 8 1 3 3 2-3 4 0 3 6 7 2 6 0 6-2 2 1 11 3 1 1 2 10 0 1-10 1-1 0-6-2-5 3-3-1-4 1-1 0-5 3-3-4-4 3-4 0-5-2-5 3-6-3-7 0-3 3-4 0-4-3-3-1-4 1-1 0-5 3-4 0-12 2-3 0-3-5-3 0-3 3-2 1-3-1-2 2-8-1-6 3-5 0-2 2-2-1-6 4-11-3-5-2-1-1-4-2-2 1-8 3-3 0-4-2-2-1-7 4-3 0-6-1-1 0-12-5-11 2-6 3-3-6-5 5-4 3 0 2 2 2 0 4-4 1-5 2-2 4-1 8-7 2 0 5-7 6-5 2-7 2-2 4 3 3-1 3 1 0-1-3 0-3-2 0-3 2-3-2-3 0-4 1-1 4 1 0-11-4-4 1-6-4-9 1-9-4-1-5-4-2 0-2 2-3 0-6-4-5 2-7-5 1-4-4 3-6-1-4 1-3 3-4 0-3 2-3-2 0-2-4 0-3-2-2 0-2 2-7-1 2 2 0 2-1 1-5 0-2-2 1-2-3-1-2 1-1 9-5 2 0 5-2 6-6 7-4-1-1 1-1-1-7 1-9 9-3 6 1 2-4 4-2 0-3-4-3 3-4 0-1-1-3 1 0 3-3 3 0 2-3 5-4 1-6-1 2 5-1 4-3 2 2 4-3 3-2 0-2-2-2 0-2 2-4-1-1 3-3 1-4-2-3 1-3-2 0-3 3-3 2-5-1-4 5-2 0-3 3-3 3 0 2 2 2 0 2-4 5 0 14-11 8-1 2-7 1-1 6 0 1-3 4-3-2 0-3-3-3 0-4 2-11-1-3 2-4-4 1-5 3-3 5-3 5-5 4-2 3 0 5-4 0-2-2-2-3 3-7 0-9 4-8-2-4 7-6 0-3-2-6 0-5-2-12-12-1 1-5-1-2 2-6 1-3 3-3 0-3-3 0-2-2-1-8 0-3 3-4 1-6-6 0-2-2-2-10 0-1-1-2 2-8-2-4 4-3 0-4 3-3-1-6 0-1 1-2-1-4 2-4-1-4 1-2-2 0-5-2 1 0 4-2 1-8-8-6 0-1-1-3 3-5-2-3 1-3-1-8 1-4 4-4 0-2-2-9-1-1 1 2 3-2 2-3-2-5 2-3-2-11-1-6 3-1-1-6 0-4 2-6-3-2-5-7 1-7-4-9 3-12-1-2 4-6 1-3 3-6-1-4 2-3 0-7-6-3 1-4 5-1-2-2 0-1 2-2-1 1 2 3-2 1 3-6 5-5 2-4 0-4-2-5-5-11-2-2-2-9 9-3-1-6 1-2-2-2 0-5-5-3 0-2 4 2-1 5 4 0 3-2 5-4-1-1 2 2 2 2 0 2-2 3 3 3 1 4 4 0 2-3 3-6 1-4-2-4 2-4 4-5-2-12 2-2 2 2 4 0 4 6 6-4 3-2-1-2 2 1 2-1 1-6 1-3 5-7 5-4 0-1-1-7 0-2 1-5-2-7 0 9 10 0 5-4 4 3 0 2 2 0 2-3 4 0 3-2 3 1 2 0 12-1 3-3 4-4-1 0 7 2 2 2 6-3 7-6 0-1-1-1 1-5 0-2 2-3-2 1-2-1-5 3-5 0-6-1 0-2 2-3 0-3 4-1-1-9 1-3-5 1 3-1 3-8 0-5-2-6 3-4 4-2 0-3-3 0-2-2 0-5 3-2 0-1 3-3 2 0 2zM1157 874l1-1 1 1-1 1zM1146 869l1-1 2 1-1 1zM1152 865l2 1-1 4-3-2zM1142 861l3 3-1 3-3-4zM1160 847l1-1 1 1-1 1zM1129 837l4 5-1 3-4 0-2-2 0-3zM1107 824l2-2 2 1-1 2zM1106 819l1-1 1 1-1 1zM1100 814l4-1 1 4-3 2-1-1 1-2zM1096 807l4 3 0 2-3 3-2-2 0-5zM1158 764l3 1 2 3 0 2-2 2-5-3zM1156 722l2 5-2 8-3 3-3 0-6 3-2-2 1-3-3-2-2-6 3-2 3 0 2-3 4 0 3-2zM778 697l7 0 2 4 6 4 5 9-1 5-8 7-7 0-3-8-4-3 2-4-1-8zM714 676l1-1 2 1-1 1zM671 661l2-1 1 2-1 1zM1171 616l1 1-1 4-1-1zM775 581l2-1 1 2-2 1zM1264 573l3-1 1 2-3 1zM1267 572l1-1 1 1-1 1zM1226 571l2 2 0 5-2 2 1 1 0 4-11 8-5 1-3-3-1-4 2-1 6 3 7-5-1-3 1-7zM1280 568l-4 3-4 0-3-2 1-2 4 1 2-2 2 0zM1127 603l1-4 11-8 1-3-1-7 4-5-1-1 3-2-5-4 1-4 10 4 2 0 4-3 3 0 4 4 3-4 4 0 1 2 7 2 2-1 0-2-3-1 1-1 3 0 1 2 9-1 4 3 0 5-1 1-3-2-1 2 1 2-6 5-3 0-7 5-11 1-2-2-4 5-3 1 0 4-1 1-3 0-3-2 3-5-3 2-4 0-9 4 0 4-7 5zM1277 562l1-1 1 2-1 1zM1173 562l2-1 1 2-1 1zM1180 559l3 2-1 4-3-2zM807 558l1-1 1 1-1 1zM1179 556l1 2-2 1-1-1zM1276 551l1 3-5 5-1-1 0-4 3-3zM803 551l2-1 1 2-2 1zM810 549l1-1 1 2-1 1zM811 547l1-1 1 1-1 1zM1023 547l1-1 9 1-1-3 1-1 1 1 3-1 4 6 4 3-2 2-2 0-2-3-5 0-2 2-2 0-1-1 1-1-1 1-3-1zM945 541l2-1 2 2-2 2zM969 540l2-1 1 2-2 1zM957 536l6-1 3 3-2 4 3 5 0 4-3 3-4-3 0-3-2 0-1-2-1 1 1 1-3 3-2-3 0-3 3-1 0-6zM967 533l1-1 1 1-1 1zM786 520l-1 3 2 0 3 3 2-3-1 1-1-1 1-3zM830 515l0 2 2-1zM991 511l1 2 2-1 0-1zM1001 508l-2 2 2 0zM1107 507l-2 2 2 2 0 2 2 1 2-2-3-2 1-2zM908 500l2 5 1-4zM834 499l-4 2 1 2-3 2 1 1 1-2 4 1-1-2 2-3zM1037 494l0 3 4-1 2 3 1-4zM363 448l2 5-4 1-1 2 1 4-2 3 0 3-4 3-1 5-2 2-2-1 1 3 5-2 2 0 2 2-1 5-5 5 0 4-3 3 0 2 4 4 1 8-2 2-5-4-6 0-2-2-2 0-2 2 0 10 1 1 5 0 2-2 2 1-1 7-7 6 1 4 6 7 0 3-2 2-2 0-1 3 4 1 2 2 0 7 2 2 0 3-2 4 1 9 5 2 3 4-1 9 2 3 0 8 1 2 5 0 5 6 1 4 3 2 1 2-1 2 1 2 0 7 5 3 0 4 1 1 4 1 2 2 3-1 5 4 8 11 4-2 4-4 7 5 4-1 5 1 2 2 1 6 7 7 7-5 5 0 5-5 9 1 2 4 2-3 3-1 5 0 4 5 3-2 3 1 13 0-1-3-2 1-6-3-5-7 0-2 2-2 0-5-1-1-5 0-2 2-2 0-3-5-4-1 0-2 4-5 5-2-2 0-4-3 0-6 1-1-1-2 1-2 4-1 2 2-4 3 1 1 10-1 14-14 4-1-1-1 0-5-2 0-2-2-4 0-1-3-3-1-8-8-2-3-1-5-9-9 1-4-1-4-6 0-1-1 0 1 5 4 0 2 5 8-1 5 3 2 0 2 6 3 0 4 4 5-3 3-3-2-1-4-9-7-4-9 1-5-4-1-2-2-1-4-1 0 0 3-3 2-1 3 1 8 3 1-3 3 4 9 2 2 0 2-2 2-3 1-2-2 1-6-2-2-10 1-7-6-1-6-2-4 3-2-1-5 2-2 1-4-6-2-5 2-5-4-1-5-3-4 0-2 3-5-3-4-2-6-5 0-6-5 3-3-4-3 0-7-5-6-4-2-3-5 0-3-4-6 0-4-7-6 1-4-3 0-2-2 0-13-6-5-2-5zM416 608l2-1 4-6 4 0 2 4 3 3 2 0 4 5 4-3 11-1 3 3 0 3 3 3 2 0 2 2 0 2-3 2-3-2-1-3-10 0-1-2-8 0-4 2-4-3 0-5-2-1-2 2-1-1-5 1-2-2zM497 598l3 2-2 3-3-2zM407 530l3 1-2 3-3-2z" fill="#4a93a0"/><path d="M1098 864l-4 1-1 2-2-1-1 1 5 0 1 1zM1163 817l-1 2 3 1 1-3zM1147 813l-1 0-1 4-1 1-1-1-2 2 2 1-1 3 5-2-1-2zM1089 795l1 2 2-2zM1083 791l-1 2 3 3 2-3-2-2zM1102 782l-3 4-1 6 7-3-4-4zM1130 776l0 2 2 1 0-2zM1112 753l-1 3 1 2 3 1 1-1-1-1 3-2zM1126 724l0 3 3 2 1-1zM1121 721l0 2 2 1 1-2zM1047 698l2 1 0-1zM911 681l1 2 2-1 0-1zM969 680l-2-1-1-4-3 4-3-1-6 3 1 1 3-1 6 1 1-3 2 2 2 0zM500 621l-1 3-3 2-1-1-1 2 2 0 2 2 0 6 3 1 4-1 4-6-5-7zM778 572l2 1 0-1zM466 559l-1 1 3 5 1 0 0-5zM825 544l0 1 2 0 0-1zM642 676l0 9 4 3 1 5 3 3-1 3 1 1 5 0 4 3 3-1 6 4 6-2 1 1 6 0 3 2 4 0 6 6-3 5 0 4-2 6 4 1 3 3 0 3 2 2-10 10 2 3-4 7 3 3-1 3 9-8 3 0 4 3 4-1 2-4 4-2 4 1 2-2 4 0 1 4 3 2 3 0-2-5 4-4 1-3 3 0 10 13 6-2-1-1-4 0-5-5 0-4-8-8 0-5-2 1-4-4-7-4 0-2-3-4 1-3 7-4 2 1 7 0 3 3 2 8 4 4-1 7 4 1 1 4 3 0 2 2 0 2 5 3 5 5 3 1 6-1 1-5 5-6 5 0 4 1 3 3 0 3-2 2-2 0-2 3-6 2-3 3 2-1 4 1 11-1 4 2 0-3 5-6 0-7 1-1 0-3-4-4 0-4 3-4-1-8 2-2 3 1 8 7 3-1 7 4 8-5 6 0 3 4 4 0 1 1 2-1 2-7 6-10-2-5 2-2 4-1 3-3 0-2 7-7-1-1 2-8-1-4-2-2-6 0-2-2 1-4-5-4 0-5 9-5 2-3 2 0 2-2 3-1 6 2 5-4 4 2 3 0 4-2 12 2 8 8 11 1 7 5 6 0 3 2 10 0 5 3 2-1 11 0 3 1 3-2 1 1 8 1 3-3 3 0 3 2 1-1 7 0 5-4 2 0 6 6 5-1 3 3 0 9 5 4 1 5 2 2 2 0 5 5 7 1 6-3 12-1 2 2 6-1 5 5 0 4-3 2 0 3 2 2 0 6 3 3-1 2 2 4-5 12 3-1 3 1 3-2 4 0-1-8 2-2-1-2 1-4-2-2-1-5 4-4 6 1 2 2 2 0 2-2 4 1 7-1 6 3 4-1 3 1 4-2 2 1 1-1 8 1 3-2 3 0 6-6 18-1 2-3 2 0 2 3 4 1 3-2 5 0 2-2 7 0 1-1 3 2 11-1 6 3-2 1 3 2 10-1 1 1 0 5 2 2 0 5-2 2 4-1 2 5-4 5 4 5 0 3-4 5 0 5-1 1 0 3 3-2 4 7 0 2-3 2-1 5 2 3 1 6 3 5 8 6-1 7 3 7 0 3 7 11-1 20 2 5 12 12 0 2-3 3 1 5 5 5 1 8 1 1 0 3-2 2 1 11 2 0 2 3 9 0-1-1 1-9 1-1-1-12 2-3 0-5 1-1-1-3 3-3-3-3 0-2 3-4-3-8 3-8-3-7 4-7-1-4-4-5 2-3 0-6 3-4-1-10 3-4-1-2-5-3 0-2 4-5 0-5 1-1 0-8-1-2 3-5 0-3 2-2-1-6 2-2 0-4 2-5-5-6-3-7 1-8 3-3-3-12 4-3 1-4-2-5 1-9-2-2 0-3-3-5 0-6 4-5-5-4 0-2 6-4 6 2 4-5 0-4 1-1 5-1 9-8 3 0 4-7 6-5 2-7 3-4-4-5 1-10 1-1 8 2 1-1-2-3 0-3-2-2 0-7-2-4 0-3-3-4 1-6-7 0-5-2-7-5-5 2-2 0-5-3-4 3-6-2-2 2-5 1-4 4 3 3 0 4 3 2 2 4 2 0 2 2-1 1 0 5-5 9-9 9-7 1-4 2-5 0-1-1-3 2-3 0-4-6-4 0-6-3 0-3 2-1-1-2-2 3-2 0-7-4 0 3-2 2-8 3-4 5-3 1-8 6-5-1-5-6-4 1-2 3 1 3-5 5-9 3 0 3-3 4 2 2 0 2-5 4-3 0-3-2 1 3-2 3-4-1 0-4-1 3-3 1-3-2-6 0-4-4 5-9-1-6-3 0-2 3-4 2-6 0-4 8 4 1 1 3-4 3 0 2-2 2-4 0-5 6-2 0-2-2 0-3 3-6-2-5 0-5 3-1 0-11 3-7-4-1-2-2 2-8-7-5-1-3 1-6-1-2 3-2 1 1 9-1 1 4 6-6 6 0 2-2 2 0 5 5-2 3 1 2 3 0 3-4 3 0 2 2 1-2-3 0-1-2-4 1-3-5-5-4-3-6-5 0-4 4-2-2-3 0-5-3-4 0-2 3-4-1-5 1-3-4-4 0-6-3-9 3-1 3-3-1 2-3-5 4-14-1-1-3-6 8-4 0-1-1-3 3-6 0-5 4-6-1-6 2-5-3-4 0-1-1-1 1-5 0-2-1-3 2-5 0-4 3-3-1-3 3-2 0-2-4-5 0-2-2-3 3-7 1-1-2-10 0-2 2-8 0-7-5-1-2 1-3-3-3-9-2-4-4-3 0-3-3-3 1-2-1-11 1-4 4-6-4-8 2-6-3-3 0-1 1-4 0-2 3-6 3-4-1-7 1-2-2 1-1-1-1-3 1-2 3-2 0-4 3-9 0-4 1-3 3-3-1-2 5 3 3-4 5-4 0-3 2-4 0-3-2-3 2-3 0-4 7-2 2-4-1-1 3-8 8-10 1-6 5-5 0-1 2 4 5-3 5-11 1-5-3-15 0 5 8 0 4-3 3 3 3 0 3-3 3 2 9-3 3 0 12-6 5 1 6 2 2-1 8-4 5-4-1 2 7-3 3-2 0-4-5-4 1 0 5 4 3-2 3-8-4-2 0 1 4-2 2-9-3 0-2 4-4 6-1 0-5 4-5-1-4-6-8-13 3-3 4-9-1-3 2-1-1-15 1-3-3-5 5zM1260 807l1-3-1-1 3-2 5 2 2-1 3 1 1-1 2 2-2 3-4 0-1 2-4 0zM1293 783l0 2-2 2-5 1-2-2 1-2 5 0 2-2zM694 754l1-1 2 2-2 1zM697 734l1-1 1 2-1 1zM721 732l2 2 0 2 3 2 0 4-1 1-5-3-1-6zM1283 722l1-1 1 1-1 1zM1293 718l1-1 1 1-1 1zM812 704l1-3 2 2-2 2zM692 700l1-1 1 1-1 1zM1293 698l2-1 1 2-2 1zM688 696l1-1 4 0 1 2-2 2-2 0zM687 692l1 2-2 2-2-2zM768 686l7 0 3 3 3 1 3 4 4 1 4-1 4 3 0 6 4 6 0 6 1 1-1 8-2 3-4 2-3-1-11 0-2-6-4-2-2-3 0-3-2 0-2-2 0-3-5-1-4-4 7-6-2-6zM820 662l1 1 6-1 6 3 0 2 3 4-3 3 0 6 1 1-1 2 8 8 0 4 1 1-1 4-3 4-4 0-3 4-5 2-5-6-1-5-3-2-2-7-3-1-7-7 0-5 1-1-1-6 2-2 7-1zM1301 619l5 2-4 4-3-3zM772 617l1-1 2 1-1 1zM734 616l1-1 1 1-1 1zM747 610l2 3-1 3-3 2-1-1 1-6zM749 609l2-1 1 2-2 1zM1327 600l2-1 2 3-3 1zM911 547l4-2 2 3-3 2zM880 545l1-1 1 1-1 1zM472 538l-1 11 2 1 0 2 3 5 0-4-2-2 0-6-1-1 1-4zM501 535l-1 7-4 1-3 6-2 2-3-1-1 2 2 1-1 1 1 5-2 5-2 2-5 1 0 1 3 3 5 0 3-3 2 0 2 2-1 4 5 4 1 6-4 4-3 0 2 2 5-1 4 4 2 8-1 4 5 3 4 7 1 0 1-4 2-2 3 0 4 4 2-4 0-3 3-3 5-3 6 1 1-4 9 3 7 6 0 12 7 6 3 1 4-1 2 3 0 4 3 2 0 2-3 3-6-2-1-2-4 0 1 2 4 0 3 3 4-1 2 1 2 6 2 2 4-1 0-3 7-5 3 3 1 4-1 2-2 0 1 2 0 7 7 1 3 3 1 3 4 0 1 1 3 9 7 2 0 4-3 3-3-1 1 1-1 4-3 5-5 4-3 6 6 1 2-3 12 1 7 6 1-1-2-2 2-2 2 3 2 0 2 2 0 3-2 3 1 0 3-3 0-6 1-1-1-8 2-1-7-9 0-5 4-7 0-5-2-4 2-4-2-4 2-14-2-2-3 0-7 5-10 0-3-2 0 2-2 2-2 0-2-2 1-6-5-8-7 1-4 4-12-1-1-3 3-3-2 0-3-4 2-5 2-2 2 0 2-2 0-2-5-7-1-7-3-3-2 0-4-3-5 5-6-1-1-1 1-5-2-4-3-2-1-4-5-4 0-2-3-2 0-2-5 1-1-4-3-2 0-2 3-2-2-2 0-4-2-1-1 2-6 0-7-5-8-1-5-4-4-1-3-3 3-1-1-7zM507 579l6 7-1 3-4-1 0-3-3-3zM505 579l1-1 1 1-1 1zM869 533l-5-1 0 3-2 2-2 0-1 2 6-1 0-3zM548 531l-8 5-1 2 0 6 1 1-1 4 2 0 1-2-1-7 4-4 1-3 2 1 0 3 3 3 3 0-6-7zM1077 529l2 5 2-1 0-3zM366 451l0 2-2 2-3 0 1 4-2 6-4 4-2 6-2 2-1-1 1 2 2-2 4-1 3 4-1 5-5 4 0 4-3 4 4 5 2 8-1 3-8 8-1 5-8 5 1 4 6 8 0 2-2 2-2 0-1 3 3 0 3 4 0 6 2 2-2 7 1 9 7 4 1 4-1 7 1 1 1 11 6 1 5 6 0 2 4 4 0 6 1 1 0 4-1 1 5 3 1 5 6 3 4 0 2 3 2 0 7 11 3 0 4-5 4 0 4 4 10 0 3 3-1 2 1 3 7 7 6-4 6-1 4-4 5 0 1 1 3-1 3 3 6-3 4 0 4 5 3-2 8 1-7-4 2-3-2-3 0-4 1-1 0-4-1-1-8 3-5-4-6 0-1-1 0-3-3-5 1-4 1-1 10 0 0-4-7 4-5-1-7-5-4 2-6-3-3 0-1 1-5 0-2 2-2 0-4-3 0-2-3-4-2-1-4 1-2-2 0-2 9-11 4 0 4 4 1 3 7 0 1 1 14-1 5 8 5 3 5 1 4-6 3 0 2 2 0 2-3 2 4 0 1-1 4 1 3-4 4-2 9-9-2 0-3-3 3-4-4 0-2-2 0-2-2 0-9-9-3-8-5-5-1 0 2 3-2 3 3 2 1 3 3 1 3 3 0 4 3 3 0 2-2 2-3 0-3-6-3-1-6-6-4-9 2-4-4-1-3-3 0-2-4 4 0 9 2 0 2 2-3 4 3 7 3 3-1 4-6 2-2-2 1-2 0-5-1-1-9 1-4-2-5-5 0-4-3-5 3-3-1-3 0-7 1-1-7 1-3-1-3-3-4-9 0-5 2-3-2-2-1-5-2-3-5 3-3 0-2-2 2-3-3-3 3-3-4-3 0-8-5-5-2 0-2-2-2-4 0-3-5-8 1-2-7-6 0-4-2 0-3-3 1-12-6-5zM455 652l1-1 1 1-1 1zM453 650l2-1 1 2-2 1zM404 631l4 1 3 3-1 5 2 1 0 2-4 4-5-1-1-1 2-3-4-3 2-2zM392 599l1-2 4 1-2 2zM473 592l1-1 1 2-1 1zM402 591l2 2-2 3-1-1zM395 587l1-1 1 1-1 1zM387 586l4 0 2 2-3 4 1 3-2 2-2-1 0-7-1-1zM394 586l1-1 1 1-1 1zM385 581l1-1 2 2-2 1zM380 572l2 6-3 2-1-3zM380 561l2-1 1 2-2 1zM380 550l2 1-1 1 1 3-1 3-3-2zM368 532l1-1 1 1-1 1zM397 531l1-1 1 1-1 1zM402 525l1 1-1 2-3 2-1-1 1-2zM365 521l1-1 1 2-1 1zM364 508l5 5-1 2-6-5zM376 507l3-3 4 4 7 1 3 4-5 3-3 0-5-5-3 0z" fill="#1c73cf"/></g><path d="M343.5,244.0 L347.0,241.0 L352.0,243.0 L352.5,249.0 L348.0,252.0 L344.0,250.0Z" fill="#000"/><path d="M353.0,262.0 L358.0,258.0 L362.0,262.0 L363.0,270.0 L361.0,279.0 L357.0,285.0 L351.0,286.0 L347.0,282.0 L347.0,275.0 L350.0,268.0Z" fill="#000"/><path d="M350.5,277.0 L353.5,275.0 L355.0,278.5 L352.0,281.0Z" fill="#cc0000"/><path d="M1058.5,262.5 L1060.0,267.0 L1066.0,264.5 L1075.0,260.0 L1074.5,256.5 L1068.0,258.5Z" fill="#cc0000"/><path d="M1027.0,288.0 L1030.0,285.5 L1034.5,286.0 L1033.0,291.0 L1029.0,293.0 L1027.0,291.5Z" fill="#cc0000"/><path d="M1128.5,318.5 L1133.5,318.5 L1133.5,323.5 L1128.5,323.5Z" fill="#cc0000"/><path d="M1135.0,316.0 L1141.0,316.0 L1141.0,320.0 L1135.0,320.0Z" fill="#cc0000"/><path d="M1131.0,326.5 L1134.0,326.5 L1134.0,329.5 L1131.0,329.5Z" fill="#cc0000"/><path d="M1122.5,336.5 L1127.5,335.5 L1128.0,342.0 L1123.0,342.5Z" fill="#cc0000"/><path d="M1107.5,326.5 L1112.5,326.0 L1111.0,331.5 L1107.5,331.0Z" fill="#cc0000"/><path d="M1171.0,310.5 L1180.0,310.5 L1180.0,318.0 L1171.0,318.0Z" fill="#cc0000"/><path d="M1109.0,318.0 L1111.5,318.0 L1111.5,320.5 L1109.0,320.5Z" fill="#cc0000"/><path d="M400.7,628.5 L410.2,628.0 L419.7,628.5 L420.7,632.5 L410.2,635.1 L400.7,633.3Z" fill="#1c73cf"/><path d="M418.6,649.1 L422.4,649.6 L422.4,652.8 L419.0,652.2Z" fill="#1c73cf"/><path d="M439.3,643.8 L442.8,645.4 L446.4,649.1 L445.2,650.7 L440.7,647.5Z" fill="#1c73cf"/><path d="M438.6,655.9 L442.2,658.6 L445.6,663.3 L443.1,663.8 L439.3,659.6Z" fill="#1c73cf"/><path d="M429.2,643.8 L431.7,644.3 L431.3,646.4 L429.6,646.2Z" fill="#1c73cf"/><path d="M1214.7,878.9 L1218.9,876.8 L1225.2,875.0 L1225.2,878.9 L1218.9,881.1 L1214.7,881.6Z" fill="#cc0000"/><path d="M1227.3,875.0 L1233.6,872.4 L1237.9,869.7 L1237.4,873.7 L1232.6,876.8Z" fill="#cc0000"/><path d="M1238.3,868.9 L1242.5,865.2 L1245.7,860.5 L1248.4,861.8 L1244.2,868.4 L1240.0,871.6Z" fill="#cc0000"/><path d="M1210.5,880.3 L1211.5,879.7 L1211.1,881.1Z" fill="#cc0000"/><path d="M1246.3,803.8 L1249.4,810.4 L1252.0,819.6 L1253.0,819.6 L1250.5,810.4 L1247.3,803.3Z" fill="#cc0000"/><path d="M1236.8,769.6 L1241.0,776.1 L1243.1,789.3 L1240.0,786.7 L1237.9,778.8Z" fill="#cc0000"/><path d="M888.3,799.9 L890.4,799.3 L891.4,807.8 L889.9,818.3 L888.3,818.3 L888.7,807.8Z" fill="#cc0000"/><g fill="none" stroke="#000" stroke-width="3.5" stroke-linejoin="round" stroke-linecap="round"><path d="M352.1,235.8 L933.5,235.8 L933.5,225.7 L942.0,225.7 L944.7,241.6 L951.4,243.4 L958.8,245.5 L965.1,247.9 L970.4,245.8 L978.8,245.8 L985.1,247.6 L990.6,251.3 L998.0,252.6 L1004.3,255.0 L1011.7,259.5 L1018.0,257.1 L1024.3,255.0 L1029.4,258.2 L1038.0,259.0 L1045.6,260.8 L1053.6,261.9 L1049.4,264.0 L1035.1,268.7 L1023.0,275.3 L1015.3,281.1 L1006.8,288.0 L1000.9,292.4 L997.8,294.8 L999.9,296.7 L1008.3,295.6 L1013.6,294.0 L1018.8,291.9 L1024.1,289.5 L1026.8,291.1 L1024.5,294.3 L1022.6,299.0 L1027.3,298.5 L1033.2,299.8 L1039.9,297.2 L1047.3,293.0 L1056.7,291.6 L1064.1,288.5 L1070.4,283.2 L1075.7,278.5 L1084.1,275.8 L1090.0,277.1 L1085.2,280.0 L1079.5,284.5 L1075.3,289.0 L1074.0,294.8 L1077.8,291.1 L1085.2,291.1 L1091.5,293.8 L1096.8,300.9 L1104.1,301.7 L1112.6,303.5 L1122.0,298.5 L1128.3,296.9 L1138.9,296.4 L1147.3,294.5 L1146.7,301.1 L1153.6,302.5 L1159.9,301.7 L1165.2,303.8 L1166.3,309.6 L1170.5,314.8 L1178.9,312.7 L1179.9,316.2 L1170.5,316.7 L1162.0,315.6 L1153.2,318.5 L1147.3,314.0 L1137.8,312.5 L1128.3,316.2 L1121.0,316.4 L1115.7,320.1 L1113.6,325.4 L1110.4,320.1 L1104.1,321.4 L1101.0,328.0 L1092.1,338.6 L1088.3,343.3 L1084.1,352.3 L1087.3,351.2 L1094.7,344.4 L1098.9,337.8 L1104.1,333.8 L1103.1,339.1 L1098.2,346.5 L1095.7,352.3 L1094.0,359.7 L1091.5,365.2 L1090.0,374.2 L1086.9,383.9 L1086.6,393.1 L1088.8,401.0 L1088.1,407.1 L1087.7,412.4 L1091.1,419.0 L1092.5,424.2 L1094.2,428.2 L1098.9,430.3 L1105.2,428.7 L1108.3,426.9 L1113.6,420.8 L1116.1,416.3 L1120.3,409.7 L1121.8,399.7 L1121.0,392.3 L1118.7,387.3 L1116.6,380.7 L1114.9,376.5 L1116.8,369.7 L1115.5,366.0 L1119.5,360.4 L1121.0,350.4 L1124.8,343.8 L1130.5,340.7 L1134.7,335.9 L1133.6,346.5 L1136.8,346.5 L1139.3,339.9 L1141.8,332.8 L1148.4,331.2 L1145.2,328.0 L1146.2,324.1 L1153.0,320.6 L1158.5,324.1 L1166.3,328.0 L1172.2,330.1 L1179.3,332.0 L1181.0,339.1 L1183.1,345.2 L1183.3,350.4 L1182.5,357.0 L1178.9,361.0 L1175.7,366.8 L1170.5,370.2 L1169.8,376.0 L1174.7,378.1 L1179.9,374.9 L1183.7,369.1 L1189.4,366.2 L1194.7,368.1 L1197.2,372.0 L1198.9,380.7 L1200.0,388.6 L1201.6,394.4 L1200.0,401.8 L1195.7,404.5 L1192.6,409.7 L1188.4,412.4 L1186.3,418.2 L1183.1,422.9 L1179.5,427.7 L1185.2,429.5 L1190.5,432.7 L1195.3,432.9 L1196.2,435.3 L1203.1,435.6 L1210.5,433.5 L1216.8,433.5 L1225.2,426.9 L1235.8,422.9 L1241.6,420.8 L1250.5,416.6 L1257.7,413.2 L1266.3,407.4 L1272.6,401.8 L1276.2,397.9 L1275.1,394.7 L1273.0,391.3 L1272.4,387.1 L1280.0,384.4 L1290.5,384.2 L1300.0,385.2 L1304.2,387.6 L1315.8,386.5 L1321.7,385.0 L1326.3,381.5 L1332.2,379.4 L1332.6,371.5 L1330.5,367.6 L1329.5,364.1 L1334.7,360.4 L1340.0,357.0 L1347.4,349.1 L1353.7,344.6 L1360.0,341.7 L1364.2,341.2 L1431.6,340.9 L1433.7,335.9 L1435.8,333.3 L1440.5,333.0 L1445.3,334.6 L1446.4,330.7 L1449.5,330.1 L1451.6,324.1 L1454.8,321.4 L1457.9,316.2 L1456.9,309.6 L1462.1,303.8 L1463.2,296.4 L1479.4,276.4 L1483.2,280.6 L1486.4,283.7 L1492.7,281.4 L1499.0,279.0 L1506.4,283.2 L1509.7,286.6 L1510.0,316.4 L1510.6,319.6 L1516.9,325.4 L1517.5,331.2 L1520.1,337.2 L1523.2,336.7 L1526.4,343.8 L1527.4,345.9 L1522.2,350.4 L1518.0,351.7 L1513.7,353.9 L1507.4,357.0 L1504.3,358.3 L1499.0,361.0 L1493.7,362.3 L1491.6,363.6 L1488.5,357.0 L1484.3,357.0 L1483.2,362.3 L1482.2,366.2 L1479.0,369.4 L1473.7,371.5 L1471.0,372.8 L1467.4,374.2 L1463.2,372.3 L1457.9,376.8 L1459.0,378.9 L1455.2,382.1 L1452.7,385.2 L1450.6,390.0 L1448.5,392.1 L1446.4,396.6 L1445.9,399.2 L1450.6,402.9 L1444.7,406.6 L1441.5,411.1 L1447.4,414.5 L1449.5,421.3 L1452.7,426.1 L1456.9,427.7 L1463.2,426.1 L1462.6,421.6 L1459.0,419.0 L1462.1,418.4 L1464.3,422.9 L1464.7,428.7 L1463.2,432.1 L1456.9,430.0 L1450.6,432.4 L1449.1,432.9 L1449.5,428.2 L1447.4,427.7 L1443.8,431.4 L1440.0,433.5 L1437.9,434.3 L1435.8,430.8 L1434.1,426.9 L1433.3,433.5 L1432.0,437.2 L1424.0,438.5 L1419.0,438.5 L1413.7,439.5 L1402.1,440.1 L1396.2,442.4 L1388.6,445.8 L1386.3,446.9 L1383.6,449.8 L1383.6,451.9 L1389.5,449.0 L1398.5,447.7 L1408.4,447.4 L1416.2,442.4 L1410.6,448.5 L1424.0,444.8 L1412.7,450.6 L1400.0,454.5 L1389.5,457.4 L1381.1,458.2 L1379.0,458.0 L1378.3,455.9 L1377.9,459.8 L1379.0,460.9 L1379.4,465.1 L1376.9,479.3 L1370.1,489.9 L1359.4,501.2 L1355.8,494.1 L1349.5,489.3 L1346.3,483.5 L1345.3,484.1 L1348.4,491.5 L1349.5,498.0 L1351.6,502.0 L1356.2,504.6 L1356.8,513.9 L1355.8,517.8 L1353.7,525.7 L1350.1,528.9 L1345.3,537.6 L1338.3,548.9 L1336.4,544.2 L1338.9,537.6 L1343.2,528.4 L1340.0,526.2 L1338.9,520.4 L1334.7,517.8 L1333.7,510.7 L1330.5,506.0 L1330.5,500.7 L1332.6,494.1 L1336.8,488.8 L1335.8,484.9 L1332.6,489.3 L1326.3,493.3 L1327.4,500.2 L1325.9,509.9 L1328.4,515.7 L1330.1,524.4 L1324.2,520.4 L1316.8,517.8 L1317.9,521.0 L1330.5,528.4 L1330.5,536.3 L1325.3,537.6 L1330.5,543.4 L1328.4,546.8 L1330.9,550.8 L1326.3,552.1 L1330.5,553.9 L1336.8,554.2 L1337.5,556.6 L1339.6,563.9 L1342.1,573.2 L1346.3,583.7 L1347.4,598.2 L1336.8,603.0 L1325.7,615.3 L1322.9,612.7 L1315.8,613.5 L1307.4,619.3 L1298.9,625.9 L1295.8,634.9 L1283.1,635.1 L1276.2,639.1 L1269.4,652.2 L1266.3,657.5 L1254.7,664.9 L1246.3,670.7 L1243.1,672.8 L1237.9,679.9 L1234.1,683.1 L1229.4,691.8 L1225.2,702.3 L1222.7,707.6 L1222.7,714.2 L1222.1,717.9 L1223.1,728.7 L1225.6,739.2 L1232.6,757.7 L1237.9,776.1 L1241.0,789.3 L1245.2,798.5 L1246.3,803.8 L1251.1,817.0 L1252.0,823.6 L1250.5,839.4 L1249.9,848.1 L1246.3,857.9 L1243.8,863.1 L1233.2,865.0 L1229.4,865.2 L1228.4,857.9 L1223.1,846.0 L1216.2,843.9 L1214.7,838.1 L1211.5,830.2 L1208.4,830.2 L1205.2,822.3 L1201.0,813.0 L1198.9,807.0 L1195.1,799.9 L1200.0,793.3 L1195.7,794.6 L1193.0,790.1 L1193.6,785.4 L1196.4,777.5 L1195.7,765.6 L1188.8,759.5 L1181.0,749.8 L1181.0,745.3 L1175.7,739.2 L1164.1,734.8 L1161.0,737.9 L1154.7,740.6 L1147.3,744.0 L1139.3,745.3 L1141.0,741.9 L1138.5,737.9 L1132.6,733.4 L1122.0,727.9 L1115.7,726.6 L1102.0,728.2 L1094.7,729.2 L1090.4,730.0 L1084.1,730.5 L1086.2,723.4 L1083.5,718.7 L1082.0,727.4 L1078.9,726.6 L1075.7,726.8 L1072.5,727.4 L1065.2,726.3 L1061.0,727.1 L1056.1,728.7 L1051.9,731.9 L1047.3,735.3 L1054.6,735.3 L1058.8,739.2 L1054.6,743.2 L1050.4,747.1 L1055.7,753.7 L1063.1,757.7 L1062.4,763.0 L1054.6,764.8 L1050.4,756.4 L1045.2,755.1 L1042.0,756.4 L1037.8,760.3 L1031.5,761.6 L1025.2,761.6 L1020.9,760.3 L1014.6,755.1 L1010.4,749.8 L1003.0,749.8 L999.9,745.8 L993.6,748.5 L985.1,747.1 L974.6,742.7 L961.1,744.5 L955.7,745.3 L949.3,748.5 L942.0,753.2 L938.8,744.5 L936.7,749.8 L940.9,755.1 L934.6,760.9 L930.4,764.8 L922.0,770.1 L915.6,773.5 L907.2,778.0 L898.8,785.4 L893.5,788.8 L890.4,794.6 L889.3,802.5 L886.8,810.4 L886.8,821.0 L889.3,831.5 L891.4,840.2 L891.4,843.1 L884.1,845.2 L877.7,840.7 L869.3,840.2 L856.7,832.3 L852.5,831.5 L848.9,827.5 L846.8,818.3 L841.9,802.5 L834.6,794.6 L825.1,781.9 L820.9,770.9 L817.7,760.3 L812.4,753.7 L809.3,751.1 L798.8,741.9 L789.3,741.9 L783.0,739.8 L775.2,743.5 L772.4,752.4 L766.1,763.5 L761.9,763.0 L751.4,755.8 L739.4,748.5 L735.6,743.2 L732.4,735.3 L728.2,720.8 L717.7,714.2 L711.4,707.6 L705.0,699.7 L700.8,697.9 L694.5,690.5 L693.9,689.7 L658.5,689.7 L658.5,701.5 L598.3,701.5 L519.5,671.0 L521.4,664.9 L470.9,669.9 L468.1,666.2 L467.5,661.5 L465.0,652.2 L458.6,645.4 L453.8,641.7 L448.1,637.8 L443.5,637.8 L443.9,633.8 L441.8,630.6 L435.5,631.2 L429.2,628.5 L424.9,624.0 L416.5,620.6 L406.0,618.8 L400.3,619.3 L396.5,615.9 L397.1,607.4 L396.5,601.4 L391.2,598.2 L391.9,594.3 L387.0,590.3 L383.2,587.1 L378.6,578.4 L370.2,570.5 L369.1,562.6 L372.3,557.4 L367.4,553.1 L361.1,548.9 L357.6,538.9 L357.6,531.0 L347.0,525.7 L346.0,517.8 L338.6,508.6 L331.9,500.7 L330.2,491.5 L329.1,478.3 L324.5,472.2 L317.5,461.4 L321.7,451.9 L322.8,445.1 L324.3,432.1 L321.7,426.9 L321.5,420.3 L319.6,419.0 L317.1,409.7 L314.2,398.1 L317.1,390.8 L318.6,384.7 L321.7,375.5 L323.2,367.6 L324.5,351.0 L325.5,342.5 L326.6,332.0 L326.6,317.5 L326.0,309.0 L325.5,303.5 L324.0,298.0 L330.0,296.5 L331.5,289.5 L324.0,288.0 L321.3,278.8 L316.8,268.7 L311.4,262.0 L309.8,253.0 L310.4,250.5 L313.3,252.4 L326.0,257.6 L338.0,258.7 L344.9,258.2 L352.3,258.7 L354.4,264.8 L349.1,276.6 L344.9,278.5 L349.1,286.4 L355.4,283.2 L358.6,281.4 L360.1,272.7 L362.8,262.6 L359.7,254.2 L355.4,248.9 L357.6,242.4 L352.1,235.8Z"/><path d="M326.0,309.0 L330.2,309.6 L337.5,308.8 L342.8,310.9 L348.1,312.2 L351.2,318.3 L353.3,324.6 L361.8,326.7 L370.2,323.3 L378.6,322.2 L386.0,324.9 L396.5,322.0 L406.0,322.0 L418.6,316.9 L424.9,316.7 L431.3,314.8 L475.1,314.8 M472.5,235.8 L472.5,303.5 L474.4,309.6 L475.1,314.8 L483.9,320.4 L485.2,324.1 L481.4,334.1 L477.6,343.0 L472.5,348.1 L468.7,356.8 L471.3,360.4 L475.1,362.6 L473.0,370.5 L472.7,420.3 M493.4,235.8 L493.4,262.6 L497.6,267.7 L500.3,274.0 L503.9,279.0 L509.2,283.2 L513.8,289.0 L518.7,293.8 L523.9,296.9 L529.6,297.7 L528.8,305.4 L526.5,312.7 L527.1,317.7 L523.9,321.7 L525.2,326.7 L528.8,328.3 L533.8,324.9 L537.6,322.5 L540.8,326.7 L543.1,333.0 L546.5,338.0 L549.0,343.0 L551.3,346.7 L555.1,350.4 L557.6,355.4 L561.4,357.5 L565.2,354.9 L571.3,353.1 L577.6,353.1 L585.0,352.5 L590.1,348.1 L593.8,349.1 L598.7,355.2 M321.5,420.3 L598.7,420.3 M598.7,341.2 L598.7,446.6 M598.7,341.2 L746.1,341.2 M746.1,235.8 L746.1,446.6 M598.7,446.6 L788.2,446.6 M640.8,446.6 L640.8,701.5 M535.7,552.1 L944.7,552.1 M788.2,446.6 L788.2,552.1 M788.2,473.0 L930.2,473.0 M746.1,316.4 L903.8,316.4 M746.1,393.9 L863.0,393.9 L869.3,397.1 L875.6,399.2 L883.0,397.6 L890.4,398.7 L897.9,401.8 L904.3,405.8 L906.2,407.4 M889.7,235.8 L892.5,250.0 L894.2,262.6 L897.9,272.7 L899.2,285.3 L899.8,297.7 L903.0,306.9 L903.8,316.4 L899.2,323.3 L905.1,329.3 L906.2,333.3 L906.2,380.7 L903.4,387.3 L906.2,393.9 L904.1,400.5 L906.2,407.4 M906.2,407.4 L908.3,415.0 L913.5,425.6 L914.6,433.5 L917.3,440.1 L918.8,449.3 L920.5,457.7 L925.1,465.1 L930.2,473.0 L934.6,476.4 L938.8,479.6 L935.6,486.2 L938.8,491.5 L944.9,496.2 L944.7,565.3 M906.2,380.7 L1016.3,380.7 M920.5,457.7 L1005.6,456.9 L1010.4,462.5 L1012.1,463.0 M410.2,420.3 L410.2,499.4 L523.3,604.8 M535.7,420.3 L535.7,573.2 L530.2,577.1 L523.9,575.0 L521.0,577.9 L522.2,589.0 L524.6,599.5 L523.3,604.8 L525.0,611.4 L529.2,619.3 L533.4,623.8 L527.1,629.8 L525.4,639.1 L521.4,647.0 L525.6,656.7 L521.4,664.9 M768.2,552.1 L768.2,565.3 M768.2,565.3 L831.4,565.3 L831.4,616.4 L837.7,620.6 L845.1,620.1 L848.2,625.4 L860.9,627.2 L870.4,628.0 L874.6,634.3 L884.1,633.8 L890.4,637.8 L896.7,632.5 L905.1,637.0 L915.6,634.6 L926.2,634.3 L933.5,639.6 L942.0,638.5 L947.7,640.6 L951.4,642.8 L956.9,643.0 L956.9,683.9 L959.9,687.8 L961.6,694.4 L967.2,705.0 L967.7,712.9 L963.7,722.1 L963.7,734.0 L961.1,744.5 M768.2,565.3 L767.4,683.9 L692.0,683.9 L693.9,689.7 M944.7,565.3 L948.7,594.3 L947.7,640.6 M944.7,565.3 L1038.8,565.3 L1039.9,570.5 L1034.2,578.4 L1048.3,578.4 M956.9,657.5 L1017.4,657.5 M997.8,294.8 L993.8,297.7 L993.8,312.7 L987.2,316.2 L981.6,324.1 L984.1,332.0 L983.7,341.2 L983.0,347.8 L988.3,352.5 L995.7,356.5 L999.2,357.5 L1007.3,366.2 L1014.6,371.5 L1016.3,380.7 L1017.8,392.6 L1018.8,400.5 L1028.3,407.1 L1033.6,413.7 L1038.8,417.6 L1037.8,424.8 L1034.6,430.8 L1029.4,433.5 L1019.9,435.6 L1018.8,441.4 L1018.8,451.9 L1012.9,457.2 L1012.1,463.0 L1011.5,474.8 L1013.6,480.9 L1019.9,487.5 L1026.2,494.1 L1031.5,500.7 L1038.8,503.3 L1038.2,509.1 L1034.6,517.8 L1037.8,525.7 L1045.6,528.4 L1051.5,536.3 L1052.1,544.2 L1054.6,549.4 L1059.9,552.1 L1058.8,557.4 L1053.6,563.9 L1051.5,567.9 L1049.4,575.8 L1048.3,578.4 L1044.1,586.3 L1040.5,601.4 L1035.7,604.8 L1030.4,612.7 L1029.8,618.0 L1023.0,628.5 L1019.9,636.4 L1017.8,647.0 L1017.4,657.5 L1018.8,668.1 L1023.0,675.2 L1017.8,683.9 L1012.1,695.7 L1008.3,705.0 L1007.7,710.2 L1047.7,710.2 L1045.2,719.5 L1049.4,726.1 L1051.9,731.9 M1028.5,407.1 L1088.1,407.1 M1033.2,299.8 L1039.9,306.1 L1061.0,311.4 L1067.3,314.3 L1082.0,316.9 L1087.3,321.4 L1088.3,332.0 L1092.1,338.6 M1094.0,428.2 L1094.0,490.1 L1092.1,496.7 L1094.0,507.8 L1089.4,515.2 L1085.2,520.4 L1083.5,531.0 M1108.3,426.6 L1151.1,426.6 L1151.1,428.2 L1179.5,427.4 M1151.1,426.6 L1151.1,496.7 M1059.9,552.1 L1063.1,546.8 L1071.5,550.0 L1074.6,548.1 L1073.6,541.5 L1082.0,538.9 L1083.5,531.0 L1093.2,527.0 L1103.1,531.5 L1109.4,526.2 L1113.6,528.4 L1115.7,524.4 L1119.9,521.8 L1125.2,526.5 L1128.3,525.7 L1131.5,518.6 L1137.8,511.2 L1139.3,506.5 L1143.1,507.3 L1150.5,504.6 L1151.1,496.7 L1157.8,496.7 L1163.1,500.7 L1173.6,508.6 L1189.4,506.5 L1197.8,514.6 L1204.2,511.2 L1206.3,504.1 L1212.6,502.0 L1215.7,496.7 L1220.0,492.2 L1222.1,488.3 L1231.5,484.9 L1234.7,480.9 L1236.8,475.6 L1237.4,471.2 L1240.0,463.2 L1241.6,456.1 M1241.6,420.8 L1241.6,480.4 M1241.6,480.4 L1341.3,480.4 M1257.7,413.2 L1257.7,420.3 L1350.5,420.3 L1356.4,426.3 L1358.3,433.5 L1364.4,437.2 L1370.5,441.4 L1381.1,446.6 M1364.4,437.2 L1360.0,441.4 L1355.2,447.2 L1353.7,454.8 L1359.0,462.5 L1362.7,467.5 L1355.8,474.3 L1349.1,478.3 M1349.1,478.3 L1345.3,477.5 L1341.3,480.4 L1342.7,513.6 L1356.8,513.9 M1337.9,527.0 L1344.2,525.7 L1352.6,524.9 M1263.6,480.4 L1263.6,494.1 L1271.6,487.0 L1278.7,483.0 L1285.2,484.9 L1290.9,480.9 L1297.9,483.5 L1300.6,490.9 L1305.3,494.1 L1309.5,498.0 L1314.9,502.5 L1315.1,507.3 L1309.5,513.9 L1314.7,515.7 L1316.8,517.8 M1300.6,490.9 L1298.3,495.9 L1287.3,488.3 L1276.4,505.4 L1267.3,514.6 L1260.0,509.9 L1248.4,529.7 L1246.3,538.9 L1234.7,542.9 L1224.2,543.6 L1216.8,546.8 L1211.1,537.8 M1197.8,514.6 L1197.8,521.8 L1202.1,529.7 L1207.3,536.3 L1211.1,537.8 M1211.1,537.8 L1195.7,550.8 L1186.3,558.7 L1175.1,562.6 M1339.6,563.9 L1217.2,562.9 L1175.1,562.6 L1082.6,560.5 L1082.6,565.3 L1053.6,565.3 M1217.2,562.9 L1212.6,570.5 L1208.4,575.8 L1197.8,578.4 L1189.4,583.7 L1178.9,589.8 L1168.4,592.9 L1162.0,599.5 L1161.6,604.8 M1035.7,604.8 L1187.3,604.8 L1202.1,599.5 L1230.7,600.8 L1230.7,603.7 L1233.0,602.2 L1236.2,609.5 L1259.5,610.1 L1283.1,635.1 M1079.9,604.8 L1074.2,686.5 L1075.7,726.8 M1134.7,604.8 L1143.5,660.9 L1147.3,676.0 L1145.2,694.4 L1147.3,710.2 L1150.2,717.9 L1206.3,721.6 L1209.4,727.1 L1210.5,716.8 L1222.1,717.9 M1147.3,710.2 L1092.5,710.2 L1096.8,719.5 L1094.7,729.2 M1187.3,604.8 L1182.0,612.7 L1192.6,620.6 L1197.8,631.2 L1206.3,640.4 L1211.5,645.1 L1221.0,657.5 L1225.2,669.4 L1228.4,678.6 L1234.1,683.1 M1392.6,340.9 L1391.6,354.4 L1393.7,367.6 L1391.6,378.1 L1394.8,380.7 L1394.3,400.5 L1389.5,419.0 L1389.7,441.4 L1384.6,444.0 L1386.3,446.9 M1431.6,340.9 L1429.5,351.7 L1420.0,359.7 L1419.0,368.9 L1413.7,379.4 L1411.6,393.9 L1409.5,401.0 M1394.3,400.5 L1435.8,401.8 L1439.0,398.7 L1445.9,397.3 M1389.5,419.0 L1425.3,419.8 L1434.1,419.8 L1434.1,423.4 L1437.9,428.7 L1439.0,433.5 M1425.3,419.8 L1425.5,438.2 M1440.5,333.0 L1442.6,383.4 L1445.9,388.6 L1448.5,392.1 M343.5,244.0 L347.0,241.0 L352.0,243.0 L352.5,249.0 L348.0,252.0 L344.0,250.0 L343.5,244.0 L348.0,246.5 L351.0,247.0 M351.0,236.5 L356.0,240.0 L359.0,247.0 L357.0,254.0 L362.0,260.0 L364.5,266.0 L361.0,272.0 L363.0,278.0 L361.0,284.0 L355.0,288.5 L349.0,288.5 L345.0,284.0 L344.0,277.0 L347.0,271.0 L352.0,266.0 L354.0,260.0 L352.0,254.0 L353.5,247.0 L351.0,241.0 M349.0,282.0 L353.0,284.0 L358.0,281.0 L359.0,275.0 L356.0,270.0 L352.0,272.0 L348.0,277.0 M356.0,262.0 L360.0,266.0 L358.0,270.0 M355.0,248.0 L357.0,244.0 M357.6,530.5 L359.7,525.7 L362.8,523.6 L366.0,524.4 L361.8,528.4 L363.9,533.6 L367.0,538.9 L368.1,541.0 L364.9,538.9 L360.7,532.3 L358.6,531.0 M1330.5,536.3 L1324.2,532.3 L1317.9,525.7 L1313.7,520.4 M1328.4,545.5 L1322.1,540.2 L1318.9,537.6 M1328.4,552.1 L1323.2,549.4 L1317.9,545.5 L1311.6,544.2 M1334.7,509.9 L1337.9,506.0 L1335.8,502.0 M1331.6,499.4 L1335.8,496.7 L1337.9,491.5 M1337.9,563.9 L1335.8,570.5 L1332.6,574.5 L1324.2,577.1 L1329.5,579.8 L1336.8,579.8 L1341.1,581.1 L1338.9,587.7 L1334.7,594.3 L1326.3,592.9 L1317.9,592.9 L1325.3,596.9 L1327.4,603.5 L1317.9,604.8 L1323.2,606.1 L1326.3,610.1 L1322.9,612.7 M1336.8,573.2 L1340.0,577.1 L1342.1,582.4 M1033.6,728.7 L1039.9,726.8 L1046.2,730.0 L1043.1,735.3 L1036.7,735.3 L1032.5,732.6 L1033.6,728.7 M1195.1,799.9 L1198.9,795.9 L1201.0,790.6 L1197.8,790.6 L1196.8,794.6 L1194.7,795.9 M942.0,753.2 L939.9,748.5 L942.0,743.2 L936.7,744.5 L935.6,749.8 L938.8,753.7 M907.2,778.0 L904.1,773.5 L902.0,777.5 L898.8,781.4 L894.6,785.4 L891.4,789.3 L886.2,793.3 L888.3,797.2 M1084.1,730.5 L1086.2,723.4 L1084.1,718.7 L1082.0,723.4 L1082.0,727.4 M1254.7,664.9 L1253.7,661.5 M1243.1,672.8 L1237.9,670.7 M1134.7,335.9 L1135.7,342.5 L1134.2,347.0 M1445.7,437.4 L1450.6,434.0 L1453.7,436.6 L1450.6,437.9 L1445.7,437.4 M1456.9,438.7 L1463.2,438.2 L1463.8,440.1 L1459.0,440.3 L1456.9,438.7 M1463.2,426.1 L1462.6,421.6 L1459.0,419.0 L1461.1,418.4"/></g></svg>
<div class="t" id="t1">Emerald ash borer: All larvae relative pop. size w/ climate<br>stress exclusion 04/21/2026</div>
<div class="t" id="t2">Maps and modeling 04/21/2026 by Oregon State University IPPC USPEST.ORG and<br>USDA-APHIS-PPQ; climate data from OSU PRISM Climate Group</div>
<div id="lt">Relative pop. size</div>
<div class="k" style="top:417.1px;background:#4d4d4d"></div><div class="l" style="top:418.2px;letter-spacing:2.1px">excl.-severe</div><div class="k" style="top:442.6px;background:#b3b3b3"></div><div class="l" style="top:443.7px;letter-spacing:2.4px">excl.-moderate</div><div class="k" style="top:468.1px;background:#1c73cf"></div><div class="l" style="top:469.2px;letter-spacing:2.7px">0-10</div><div class="k" style="top:493.6px;background:#4a93a0"></div><div class="l" style="top:494.7px;letter-spacing:2.7px">10-20</div><div class="k" style="top:519.1px;background:#7eb274"></div><div class="l" style="top:520.2px;letter-spacing:2.7px">20-30</div><div class="k" style="top:544.6px;background:#b5d144"></div><div class="l" style="top:545.7px;letter-spacing:2.7px">30-40</div><div class="k" style="top:570.1px;background:#e5f01a"></div><div class="l" style="top:571.2px;letter-spacing:2.7px">40-50</div><div class="k" style="top:595.6px;background:#fbe400"></div><div class="l" style="top:596.7px;letter-spacing:2.7px">50-60</div><div class="k" style="top:621.1px;background:#f0a900"></div><div class="l" style="top:622.2px;letter-spacing:2.7px">60-70</div><div class="k" style="top:646.6px;background:#e56f00"></div><div class="l" style="top:647.7px;letter-spacing:2.7px">70-80</div><div class="k" style="top:672.1px;background:#d93600"></div><div class="l" style="top:673.2px;letter-spacing:2.7px">80-90</div><div class="k" style="top:697.6px;background:#cc0000"></div><div class="l" style="top:698.7px;letter-spacing:2.7px">90-100</div>
</body></html>
